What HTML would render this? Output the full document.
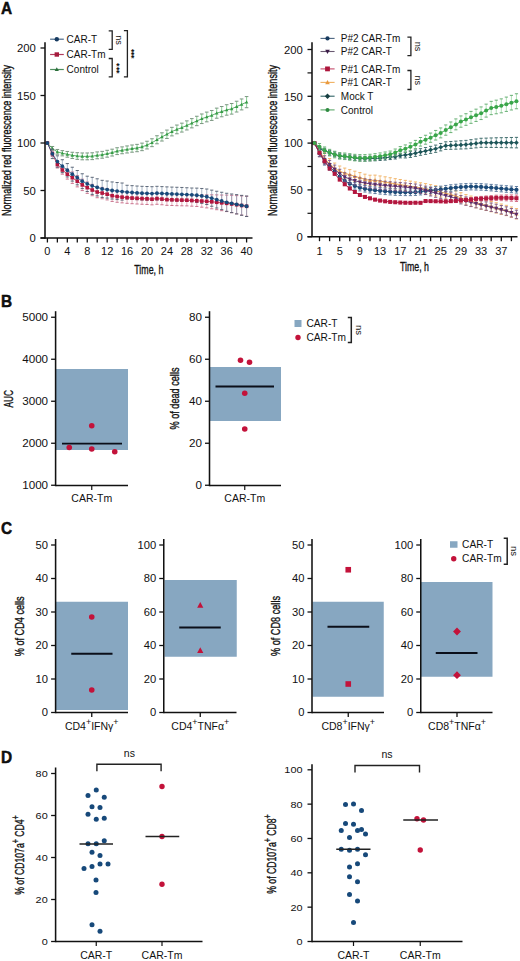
<!DOCTYPE html>
<html><head><meta charset="utf-8"><style>
html,body{margin:0;padding:0;background:#fff;}
body{width:520px;height:961px;overflow:hidden;}
svg{display:block;font-family:"Liberation Sans", sans-serif;}
</style></head><body>
<svg width="520" height="961" viewBox="0 0 520 961">
<rect width="520" height="961" fill="#fff"/>
<text transform="translate(0.9,13.8) scale(0.93,1)" font-size="16.6" text-anchor="start" font-weight="bold" fill="#111" stroke="#000" stroke-width="0.45">A</text>
<text transform="translate(0.9,306.5) scale(0.93,1)" font-size="16.6" text-anchor="start" font-weight="bold" fill="#111" stroke="#000" stroke-width="0.45">B</text>
<text transform="translate(0.9,533.6) scale(0.93,1)" font-size="16.6" text-anchor="start" font-weight="bold" fill="#111" stroke="#000" stroke-width="0.45">C</text>
<text transform="translate(0.9,762.6) scale(0.93,1)" font-size="16.6" text-anchor="start" font-weight="bold" fill="#111" stroke="#000" stroke-width="0.45">D</text>
<g id="A1">
<line x1="52.38" y1="146.47" x2="52.38" y2="150.74" stroke="#7ccc88" stroke-width="0.9" />
<line x1="50.58" y1="146.47" x2="54.18" y2="146.47" stroke="#7a9480" stroke-width="1.0" />
<line x1="50.58" y1="150.74" x2="54.18" y2="150.74" stroke="#7a9480" stroke-width="1.0" />
<line x1="57.36" y1="149.46" x2="57.36" y2="154.21" stroke="#7ccc88" stroke-width="0.9" />
<line x1="55.56" y1="149.46" x2="59.16" y2="149.46" stroke="#7a9480" stroke-width="1.0" />
<line x1="55.56" y1="154.21" x2="59.16" y2="154.21" stroke="#7a9480" stroke-width="1.0" />
<line x1="62.34" y1="150.65" x2="62.34" y2="155.87" stroke="#7ccc88" stroke-width="0.9" />
<line x1="60.54" y1="150.65" x2="64.14" y2="150.65" stroke="#7a9480" stroke-width="1.0" />
<line x1="60.54" y1="155.87" x2="64.14" y2="155.87" stroke="#7a9480" stroke-width="1.0" />
<line x1="67.32" y1="151.46" x2="67.32" y2="157.16" stroke="#7ccc88" stroke-width="0.9" />
<line x1="65.52" y1="151.46" x2="69.12" y2="151.46" stroke="#7a9480" stroke-width="1.0" />
<line x1="65.52" y1="157.16" x2="69.12" y2="157.16" stroke="#7a9480" stroke-width="1.0" />
<line x1="72.3" y1="152.26" x2="72.3" y2="158.44" stroke="#7ccc88" stroke-width="0.9" />
<line x1="70.5" y1="152.26" x2="74.1" y2="152.26" stroke="#7a9480" stroke-width="1.0" />
<line x1="70.5" y1="158.44" x2="74.1" y2="158.44" stroke="#7a9480" stroke-width="1.0" />
<line x1="77.28" y1="152.69" x2="77.28" y2="159.34" stroke="#7ccc88" stroke-width="0.9" />
<line x1="75.48" y1="152.69" x2="79.08" y2="152.69" stroke="#7a9480" stroke-width="1.0" />
<line x1="75.48" y1="159.34" x2="79.08" y2="159.34" stroke="#7a9480" stroke-width="1.0" />
<line x1="82.26" y1="152.98" x2="82.26" y2="159.81" stroke="#7ccc88" stroke-width="0.9" />
<line x1="80.46" y1="152.98" x2="84.06" y2="152.98" stroke="#7a9480" stroke-width="1.0" />
<line x1="80.46" y1="159.81" x2="84.06" y2="159.81" stroke="#7a9480" stroke-width="1.0" />
<line x1="87.24" y1="152.98" x2="87.24" y2="159.81" stroke="#7ccc88" stroke-width="0.9" />
<line x1="85.44" y1="152.98" x2="89.04" y2="152.98" stroke="#7a9480" stroke-width="1.0" />
<line x1="85.44" y1="159.81" x2="89.04" y2="159.81" stroke="#7a9480" stroke-width="1.0" />
<line x1="92.22" y1="152.79" x2="92.22" y2="159.62" stroke="#7ccc88" stroke-width="0.9" />
<line x1="90.42" y1="152.79" x2="94.02" y2="152.79" stroke="#7a9480" stroke-width="1.0" />
<line x1="90.42" y1="159.62" x2="94.02" y2="159.62" stroke="#7a9480" stroke-width="1.0" />
<line x1="97.2" y1="151.93" x2="97.2" y2="158.77" stroke="#7ccc88" stroke-width="0.9" />
<line x1="95.4" y1="151.93" x2="99" y2="151.93" stroke="#7a9480" stroke-width="1.0" />
<line x1="95.4" y1="158.77" x2="99" y2="158.77" stroke="#7a9480" stroke-width="1.0" />
<line x1="102.18" y1="151.36" x2="102.18" y2="158.2" stroke="#7ccc88" stroke-width="0.9" />
<line x1="100.38" y1="151.36" x2="103.98" y2="151.36" stroke="#7a9480" stroke-width="1.0" />
<line x1="100.38" y1="158.2" x2="103.98" y2="158.2" stroke="#7a9480" stroke-width="1.0" />
<line x1="107.16" y1="150.31" x2="107.16" y2="157.16" stroke="#7ccc88" stroke-width="0.9" />
<line x1="105.36" y1="150.31" x2="108.96" y2="150.31" stroke="#7a9480" stroke-width="1.0" />
<line x1="105.36" y1="157.16" x2="108.96" y2="157.16" stroke="#7a9480" stroke-width="1.0" />
<line x1="112.14" y1="149.18" x2="112.14" y2="156.01" stroke="#7ccc88" stroke-width="0.9" />
<line x1="110.34" y1="149.18" x2="113.94" y2="149.18" stroke="#7a9480" stroke-width="1.0" />
<line x1="110.34" y1="156.01" x2="113.94" y2="156.01" stroke="#7a9480" stroke-width="1.0" />
<line x1="117.12" y1="147.75" x2="117.12" y2="154.59" stroke="#7ccc88" stroke-width="0.9" />
<line x1="115.32" y1="147.75" x2="118.92" y2="147.75" stroke="#7a9480" stroke-width="1.0" />
<line x1="115.32" y1="154.59" x2="118.92" y2="154.59" stroke="#7a9480" stroke-width="1.0" />
<line x1="122.1" y1="146.9" x2="122.1" y2="153.74" stroke="#7ccc88" stroke-width="0.9" />
<line x1="120.3" y1="146.9" x2="123.9" y2="146.9" stroke="#7a9480" stroke-width="1.0" />
<line x1="120.3" y1="153.74" x2="123.9" y2="153.74" stroke="#7a9480" stroke-width="1.0" />
<line x1="127.08" y1="145.95" x2="127.08" y2="152.97" stroke="#7ccc88" stroke-width="0.9" />
<line x1="125.28" y1="145.95" x2="128.88" y2="145.95" stroke="#7a9480" stroke-width="1.0" />
<line x1="125.28" y1="152.97" x2="128.88" y2="152.97" stroke="#7a9480" stroke-width="1.0" />
<line x1="132.06" y1="145.01" x2="132.06" y2="152.2" stroke="#7ccc88" stroke-width="0.9" />
<line x1="130.26" y1="145.01" x2="133.86" y2="145.01" stroke="#7a9480" stroke-width="1.0" />
<line x1="130.26" y1="152.2" x2="133.86" y2="152.2" stroke="#7a9480" stroke-width="1.0" />
<line x1="137.04" y1="144.36" x2="137.04" y2="151.71" stroke="#7ccc88" stroke-width="0.9" />
<line x1="135.24" y1="144.36" x2="138.84" y2="144.36" stroke="#7a9480" stroke-width="1.0" />
<line x1="135.24" y1="151.71" x2="138.84" y2="151.71" stroke="#7a9480" stroke-width="1.0" />
<line x1="142.02" y1="143.13" x2="142.02" y2="150.66" stroke="#7ccc88" stroke-width="0.9" />
<line x1="140.22" y1="143.13" x2="143.82" y2="143.13" stroke="#7a9480" stroke-width="1.0" />
<line x1="140.22" y1="150.66" x2="143.82" y2="150.66" stroke="#7a9480" stroke-width="1.0" />
<line x1="147" y1="141.24" x2="147" y2="148.94" stroke="#7ccc88" stroke-width="0.9" />
<line x1="145.2" y1="141.24" x2="148.8" y2="141.24" stroke="#7a9480" stroke-width="1.0" />
<line x1="145.2" y1="148.94" x2="148.8" y2="148.94" stroke="#7a9480" stroke-width="1.0" />
<line x1="151.98" y1="138.78" x2="151.98" y2="146.65" stroke="#7ccc88" stroke-width="0.9" />
<line x1="150.18" y1="138.78" x2="153.78" y2="138.78" stroke="#7a9480" stroke-width="1.0" />
<line x1="150.18" y1="146.65" x2="153.78" y2="146.65" stroke="#7a9480" stroke-width="1.0" />
<line x1="156.96" y1="135.75" x2="156.96" y2="143.79" stroke="#7ccc88" stroke-width="0.9" />
<line x1="155.16" y1="135.75" x2="158.76" y2="135.75" stroke="#7a9480" stroke-width="1.0" />
<line x1="155.16" y1="143.79" x2="158.76" y2="143.79" stroke="#7a9480" stroke-width="1.0" />
<line x1="161.94" y1="132.82" x2="161.94" y2="141.02" stroke="#7ccc88" stroke-width="0.9" />
<line x1="160.14" y1="132.82" x2="163.74" y2="132.82" stroke="#7a9480" stroke-width="1.0" />
<line x1="160.14" y1="141.02" x2="163.74" y2="141.02" stroke="#7a9480" stroke-width="1.0" />
<line x1="166.92" y1="130.07" x2="166.92" y2="138.45" stroke="#7ccc88" stroke-width="0.9" />
<line x1="165.12" y1="130.07" x2="168.72" y2="130.07" stroke="#7a9480" stroke-width="1.0" />
<line x1="165.12" y1="138.45" x2="168.72" y2="138.45" stroke="#7a9480" stroke-width="1.0" />
<line x1="171.9" y1="127.33" x2="171.9" y2="135.88" stroke="#7ccc88" stroke-width="0.9" />
<line x1="170.1" y1="127.33" x2="173.7" y2="127.33" stroke="#7a9480" stroke-width="1.0" />
<line x1="170.1" y1="135.88" x2="173.7" y2="135.88" stroke="#7a9480" stroke-width="1.0" />
<line x1="176.88" y1="125.05" x2="176.88" y2="133.78" stroke="#7ccc88" stroke-width="0.9" />
<line x1="175.08" y1="125.05" x2="178.68" y2="125.05" stroke="#7a9480" stroke-width="1.0" />
<line x1="175.08" y1="133.78" x2="178.68" y2="133.78" stroke="#7a9480" stroke-width="1.0" />
<line x1="181.86" y1="123.16" x2="181.86" y2="132.06" stroke="#7ccc88" stroke-width="0.9" />
<line x1="180.06" y1="123.16" x2="183.66" y2="123.16" stroke="#7a9480" stroke-width="1.0" />
<line x1="180.06" y1="132.06" x2="183.66" y2="132.06" stroke="#7a9480" stroke-width="1.0" />
<line x1="186.84" y1="120.89" x2="186.84" y2="129.96" stroke="#7ccc88" stroke-width="0.9" />
<line x1="185.04" y1="120.89" x2="188.64" y2="120.89" stroke="#7a9480" stroke-width="1.0" />
<line x1="185.04" y1="129.96" x2="188.64" y2="129.96" stroke="#7a9480" stroke-width="1.0" />
<line x1="191.82" y1="118.62" x2="191.82" y2="127.86" stroke="#7ccc88" stroke-width="0.9" />
<line x1="190.02" y1="118.62" x2="193.62" y2="118.62" stroke="#7a9480" stroke-width="1.0" />
<line x1="190.02" y1="127.86" x2="193.62" y2="127.86" stroke="#7a9480" stroke-width="1.0" />
<line x1="196.8" y1="116.26" x2="196.8" y2="125.66" stroke="#7ccc88" stroke-width="0.9" />
<line x1="195" y1="116.26" x2="198.6" y2="116.26" stroke="#7a9480" stroke-width="1.0" />
<line x1="195" y1="125.66" x2="198.6" y2="125.66" stroke="#7a9480" stroke-width="1.0" />
<line x1="201.78" y1="113.99" x2="201.78" y2="123.56" stroke="#7ccc88" stroke-width="0.9" />
<line x1="199.98" y1="113.99" x2="203.58" y2="113.99" stroke="#7a9480" stroke-width="1.0" />
<line x1="199.98" y1="123.56" x2="203.58" y2="123.56" stroke="#7a9480" stroke-width="1.0" />
<line x1="206.76" y1="112.1" x2="206.76" y2="121.84" stroke="#7ccc88" stroke-width="0.9" />
<line x1="204.96" y1="112.1" x2="208.56" y2="112.1" stroke="#7a9480" stroke-width="1.0" />
<line x1="204.96" y1="121.84" x2="208.56" y2="121.84" stroke="#7a9480" stroke-width="1.0" />
<line x1="211.74" y1="110.49" x2="211.74" y2="120.41" stroke="#7ccc88" stroke-width="0.9" />
<line x1="209.94" y1="110.49" x2="213.54" y2="110.49" stroke="#7a9480" stroke-width="1.0" />
<line x1="209.94" y1="120.41" x2="213.54" y2="120.41" stroke="#7a9480" stroke-width="1.0" />
<line x1="216.72" y1="108.13" x2="216.72" y2="118.21" stroke="#7ccc88" stroke-width="0.9" />
<line x1="214.92" y1="108.13" x2="218.52" y2="108.13" stroke="#7a9480" stroke-width="1.0" />
<line x1="214.92" y1="118.21" x2="218.52" y2="118.21" stroke="#7a9480" stroke-width="1.0" />
<line x1="221.7" y1="106.52" x2="221.7" y2="116.78" stroke="#7ccc88" stroke-width="0.9" />
<line x1="219.9" y1="106.52" x2="223.5" y2="106.52" stroke="#7a9480" stroke-width="1.0" />
<line x1="219.9" y1="116.78" x2="223.5" y2="116.78" stroke="#7a9480" stroke-width="1.0" />
<line x1="226.68" y1="104.72" x2="226.68" y2="115.16" stroke="#7ccc88" stroke-width="0.9" />
<line x1="224.88" y1="104.72" x2="228.48" y2="104.72" stroke="#7a9480" stroke-width="1.0" />
<line x1="224.88" y1="115.16" x2="228.48" y2="115.16" stroke="#7a9480" stroke-width="1.0" />
<line x1="231.66" y1="103.5" x2="231.66" y2="114.1" stroke="#7ccc88" stroke-width="0.9" />
<line x1="229.86" y1="103.5" x2="233.46" y2="103.5" stroke="#7a9480" stroke-width="1.0" />
<line x1="229.86" y1="114.1" x2="233.46" y2="114.1" stroke="#7a9480" stroke-width="1.0" />
<line x1="236.64" y1="101.23" x2="236.64" y2="112" stroke="#7ccc88" stroke-width="0.9" />
<line x1="234.84" y1="101.23" x2="238.44" y2="101.23" stroke="#7a9480" stroke-width="1.0" />
<line x1="234.84" y1="112" x2="238.44" y2="112" stroke="#7a9480" stroke-width="1.0" />
<line x1="241.62" y1="98.96" x2="241.62" y2="109.9" stroke="#7ccc88" stroke-width="0.9" />
<line x1="239.82" y1="98.96" x2="243.42" y2="98.96" stroke="#7a9480" stroke-width="1.0" />
<line x1="239.82" y1="109.9" x2="243.42" y2="109.9" stroke="#7a9480" stroke-width="1.0" />
<line x1="246.6" y1="96.59" x2="246.6" y2="107.71" stroke="#7ccc88" stroke-width="0.9" />
<line x1="244.8" y1="96.59" x2="248.4" y2="96.59" stroke="#7a9480" stroke-width="1.0" />
<line x1="244.8" y1="107.71" x2="248.4" y2="107.71" stroke="#7a9480" stroke-width="1.0" />
<polyline points="47.4,143 52.38,148.61 57.36,151.84 62.34,153.26 67.32,154.31 72.3,155.35 77.28,156.01 82.26,156.39 87.24,156.39 92.22,156.21 97.2,155.35 102.18,154.78 107.16,153.74 112.14,152.59 117.12,151.17 122.1,150.31 127.08,149.46 132.06,148.61 137.04,148.03 142.02,146.89 147,145.09 151.98,142.72 156.96,139.77 161.94,136.92 166.92,134.26 171.9,131.6 176.88,129.42 181.86,127.61 186.84,125.43 191.82,123.24 196.8,120.96 201.78,118.78 206.76,116.97 211.74,115.45 216.72,113.17 221.7,111.65 226.68,109.94 231.66,108.8 236.64,106.62 241.62,104.43 246.6,102.15" fill="none" stroke="#369a46" stroke-width="0.8" />
<polygon points="47.4,141.2 45.67,144.35 49.12,144.35" fill="#369a46" />
<polygon points="52.38,146.81 50.65,149.96 54.1,149.96" fill="#369a46" />
<polygon points="57.36,150.03 55.63,153.19 59.09,153.19" fill="#369a46" />
<polygon points="62.34,151.46 60.62,154.61 64.06,154.61" fill="#369a46" />
<polygon points="67.32,152.5 65.59,155.66 69.04,155.66" fill="#369a46" />
<polygon points="72.3,153.55 70.58,156.7 74.02,156.7" fill="#369a46" />
<polygon points="77.28,154.21 75.56,157.36 79,157.36" fill="#369a46" />
<polygon points="82.26,154.59 80.53,157.74 83.98,157.74" fill="#369a46" />
<polygon points="87.24,154.59 85.52,157.74 88.97,157.74" fill="#369a46" />
<polygon points="92.22,154.41 90.5,157.56 93.94,157.56" fill="#369a46" />
<polygon points="97.2,153.55 95.48,156.7 98.92,156.7" fill="#369a46" />
<polygon points="102.18,152.98 100.46,156.13 103.91,156.13" fill="#369a46" />
<polygon points="107.16,151.94 105.44,155.09 108.88,155.09" fill="#369a46" />
<polygon points="112.14,150.79 110.42,153.94 113.87,153.94" fill="#369a46" />
<polygon points="117.12,149.37 115.4,152.52 118.84,152.52" fill="#369a46" />
<polygon points="122.1,148.51 120.38,151.66 123.82,151.66" fill="#369a46" />
<polygon points="127.08,147.66 125.36,150.81 128.81,150.81" fill="#369a46" />
<polygon points="132.06,146.81 130.34,149.96 133.78,149.96" fill="#369a46" />
<polygon points="137.04,146.23 135.32,149.38 138.77,149.38" fill="#369a46" />
<polygon points="142.02,145.09 140.3,148.24 143.75,148.24" fill="#369a46" />
<polygon points="147,143.29 145.28,146.44 148.72,146.44" fill="#369a46" />
<polygon points="151.98,140.91 150.26,144.06 153.71,144.06" fill="#369a46" />
<polygon points="156.96,137.97 155.24,141.12 158.69,141.12" fill="#369a46" />
<polygon points="161.94,135.12 160.22,138.27 163.66,138.27" fill="#369a46" />
<polygon points="166.92,132.46 165.2,135.61 168.65,135.61" fill="#369a46" />
<polygon points="171.9,129.8 170.18,132.95 173.62,132.95" fill="#369a46" />
<polygon points="176.88,127.62 175.16,130.77 178.61,130.77" fill="#369a46" />
<polygon points="181.86,125.81 180.14,128.96 183.59,128.96" fill="#369a46" />
<polygon points="186.84,123.63 185.12,126.78 188.56,126.78" fill="#369a46" />
<polygon points="191.82,121.44 190.1,124.59 193.55,124.59" fill="#369a46" />
<polygon points="196.8,119.16 195.08,122.31 198.53,122.31" fill="#369a46" />
<polygon points="201.78,116.98 200.06,120.12 203.51,120.12" fill="#369a46" />
<polygon points="206.76,115.17 205.04,118.32 208.49,118.32" fill="#369a46" />
<polygon points="211.74,113.65 210.02,116.8 213.47,116.8" fill="#369a46" />
<polygon points="216.72,111.37 215,114.52 218.45,114.52" fill="#369a46" />
<polygon points="221.7,109.85 219.98,113 223.43,113" fill="#369a46" />
<polygon points="226.68,108.14 224.96,111.29 228.41,111.29" fill="#369a46" />
<polygon points="231.66,107 229.94,110.15 233.39,110.15" fill="#369a46" />
<polygon points="236.64,104.82 234.92,107.97 238.37,107.97" fill="#369a46" />
<polygon points="241.62,102.63 239.9,105.78 243.35,105.78" fill="#369a46" />
<polygon points="246.6,100.35 244.88,103.5 248.33,103.5" fill="#369a46" />
<line x1="52.38" y1="151.17" x2="52.38" y2="156.49" stroke="#dc8ca0" stroke-width="0.7" />
<line x1="50.78" y1="151.17" x2="53.98" y2="151.17" stroke="#c46884" stroke-width="0.9" />
<line x1="50.78" y1="156.49" x2="53.98" y2="156.49" stroke="#c46884" stroke-width="0.9" />
<line x1="57.36" y1="161.15" x2="57.36" y2="167.99" stroke="#dc8ca0" stroke-width="0.7" />
<line x1="55.76" y1="161.15" x2="58.96" y2="161.15" stroke="#c46884" stroke-width="0.9" />
<line x1="55.76" y1="167.99" x2="58.96" y2="167.99" stroke="#c46884" stroke-width="0.9" />
<line x1="62.34" y1="165.8" x2="62.34" y2="174.16" stroke="#dc8ca0" stroke-width="0.7" />
<line x1="60.74" y1="165.8" x2="63.94" y2="165.8" stroke="#c46884" stroke-width="0.9" />
<line x1="60.74" y1="174.16" x2="63.94" y2="174.16" stroke="#c46884" stroke-width="0.9" />
<line x1="67.32" y1="169.22" x2="67.32" y2="179.1" stroke="#dc8ca0" stroke-width="0.7" />
<line x1="65.72" y1="169.22" x2="68.92" y2="169.22" stroke="#c46884" stroke-width="0.9" />
<line x1="65.72" y1="179.1" x2="68.92" y2="179.1" stroke="#c46884" stroke-width="0.9" />
<line x1="72.3" y1="171.98" x2="72.3" y2="183.38" stroke="#dc8ca0" stroke-width="0.7" />
<line x1="70.7" y1="171.98" x2="73.9" y2="171.98" stroke="#c46884" stroke-width="0.9" />
<line x1="70.7" y1="183.38" x2="73.9" y2="183.38" stroke="#c46884" stroke-width="0.9" />
<line x1="77.28" y1="175.49" x2="77.28" y2="186.89" stroke="#dc8ca0" stroke-width="0.7" />
<line x1="75.68" y1="175.49" x2="78.88" y2="175.49" stroke="#c46884" stroke-width="0.9" />
<line x1="75.68" y1="186.89" x2="78.88" y2="186.89" stroke="#c46884" stroke-width="0.9" />
<line x1="82.26" y1="179.19" x2="82.26" y2="190.59" stroke="#dc8ca0" stroke-width="0.7" />
<line x1="80.66" y1="179.19" x2="83.86" y2="179.19" stroke="#c46884" stroke-width="0.9" />
<line x1="80.66" y1="190.59" x2="83.86" y2="190.59" stroke="#c46884" stroke-width="0.9" />
<line x1="87.24" y1="181.95" x2="87.24" y2="193.35" stroke="#dc8ca0" stroke-width="0.7" />
<line x1="85.64" y1="181.95" x2="88.84" y2="181.95" stroke="#c46884" stroke-width="0.9" />
<line x1="85.64" y1="193.35" x2="88.84" y2="193.35" stroke="#c46884" stroke-width="0.9" />
<line x1="92.22" y1="184.32" x2="92.22" y2="195.72" stroke="#dc8ca0" stroke-width="0.7" />
<line x1="90.62" y1="184.32" x2="93.82" y2="184.32" stroke="#c46884" stroke-width="0.9" />
<line x1="90.62" y1="195.72" x2="93.82" y2="195.72" stroke="#c46884" stroke-width="0.9" />
<line x1="97.2" y1="186.32" x2="97.2" y2="197.72" stroke="#dc8ca0" stroke-width="0.7" />
<line x1="95.6" y1="186.32" x2="98.8" y2="186.32" stroke="#c46884" stroke-width="0.9" />
<line x1="95.6" y1="197.72" x2="98.8" y2="197.72" stroke="#c46884" stroke-width="0.9" />
<line x1="102.18" y1="187.37" x2="102.18" y2="198.77" stroke="#dc8ca0" stroke-width="0.7" />
<line x1="100.58" y1="187.37" x2="103.78" y2="187.37" stroke="#c46884" stroke-width="0.9" />
<line x1="100.58" y1="198.77" x2="103.78" y2="198.77" stroke="#c46884" stroke-width="0.9" />
<line x1="107.16" y1="188.5" x2="107.16" y2="199.91" stroke="#dc8ca0" stroke-width="0.7" />
<line x1="105.56" y1="188.5" x2="108.76" y2="188.5" stroke="#c46884" stroke-width="0.9" />
<line x1="105.56" y1="199.91" x2="108.76" y2="199.91" stroke="#c46884" stroke-width="0.9" />
<line x1="112.14" y1="190.03" x2="112.14" y2="201.43" stroke="#dc8ca0" stroke-width="0.7" />
<line x1="110.54" y1="190.03" x2="113.74" y2="190.03" stroke="#c46884" stroke-width="0.9" />
<line x1="110.54" y1="201.43" x2="113.74" y2="201.43" stroke="#c46884" stroke-width="0.9" />
<line x1="117.12" y1="190.88" x2="117.12" y2="202.28" stroke="#dc8ca0" stroke-width="0.7" />
<line x1="115.52" y1="190.88" x2="118.72" y2="190.88" stroke="#c46884" stroke-width="0.9" />
<line x1="115.52" y1="202.28" x2="118.72" y2="202.28" stroke="#c46884" stroke-width="0.9" />
<line x1="122.1" y1="191.45" x2="122.1" y2="202.85" stroke="#dc8ca0" stroke-width="0.7" />
<line x1="120.5" y1="191.45" x2="123.7" y2="191.45" stroke="#c46884" stroke-width="0.9" />
<line x1="120.5" y1="202.85" x2="123.7" y2="202.85" stroke="#c46884" stroke-width="0.9" />
<line x1="127.08" y1="191.93" x2="127.08" y2="203.32" stroke="#dc8ca0" stroke-width="0.7" />
<line x1="125.48" y1="191.93" x2="128.68" y2="191.93" stroke="#c46884" stroke-width="0.9" />
<line x1="125.48" y1="203.32" x2="128.68" y2="203.32" stroke="#c46884" stroke-width="0.9" />
<line x1="132.06" y1="192.31" x2="132.06" y2="203.7" stroke="#dc8ca0" stroke-width="0.7" />
<line x1="130.46" y1="192.31" x2="133.66" y2="192.31" stroke="#c46884" stroke-width="0.9" />
<line x1="130.46" y1="203.7" x2="133.66" y2="203.7" stroke="#c46884" stroke-width="0.9" />
<line x1="137.04" y1="192.59" x2="137.04" y2="203.99" stroke="#dc8ca0" stroke-width="0.7" />
<line x1="135.44" y1="192.59" x2="138.64" y2="192.59" stroke="#c46884" stroke-width="0.9" />
<line x1="135.44" y1="203.99" x2="138.64" y2="203.99" stroke="#c46884" stroke-width="0.9" />
<line x1="142.02" y1="192.88" x2="142.02" y2="204.28" stroke="#dc8ca0" stroke-width="0.7" />
<line x1="140.42" y1="192.88" x2="143.62" y2="192.88" stroke="#c46884" stroke-width="0.9" />
<line x1="140.42" y1="204.28" x2="143.62" y2="204.28" stroke="#c46884" stroke-width="0.9" />
<line x1="147" y1="193.06" x2="147" y2="204.47" stroke="#dc8ca0" stroke-width="0.7" />
<line x1="145.4" y1="193.06" x2="148.6" y2="193.06" stroke="#c46884" stroke-width="0.9" />
<line x1="145.4" y1="204.47" x2="148.6" y2="204.47" stroke="#c46884" stroke-width="0.9" />
<line x1="151.98" y1="193.44" x2="151.98" y2="204.84" stroke="#dc8ca0" stroke-width="0.7" />
<line x1="150.38" y1="193.44" x2="153.58" y2="193.44" stroke="#c46884" stroke-width="0.9" />
<line x1="150.38" y1="204.84" x2="153.58" y2="204.84" stroke="#c46884" stroke-width="0.9" />
<line x1="156.96" y1="192.88" x2="156.96" y2="204.28" stroke="#dc8ca0" stroke-width="0.7" />
<line x1="155.36" y1="192.88" x2="158.56" y2="192.88" stroke="#c46884" stroke-width="0.9" />
<line x1="155.36" y1="204.28" x2="158.56" y2="204.28" stroke="#c46884" stroke-width="0.9" />
<line x1="161.94" y1="193.35" x2="161.94" y2="204.75" stroke="#dc8ca0" stroke-width="0.7" />
<line x1="160.34" y1="193.35" x2="163.54" y2="193.35" stroke="#c46884" stroke-width="0.9" />
<line x1="160.34" y1="204.75" x2="163.54" y2="204.75" stroke="#c46884" stroke-width="0.9" />
<line x1="166.92" y1="193.92" x2="166.92" y2="205.32" stroke="#dc8ca0" stroke-width="0.7" />
<line x1="165.32" y1="193.92" x2="168.52" y2="193.92" stroke="#c46884" stroke-width="0.9" />
<line x1="165.32" y1="205.32" x2="168.52" y2="205.32" stroke="#c46884" stroke-width="0.9" />
<line x1="171.9" y1="194.11" x2="171.9" y2="205.51" stroke="#dc8ca0" stroke-width="0.7" />
<line x1="170.3" y1="194.11" x2="173.5" y2="194.11" stroke="#c46884" stroke-width="0.9" />
<line x1="170.3" y1="205.51" x2="173.5" y2="205.51" stroke="#c46884" stroke-width="0.9" />
<line x1="176.88" y1="194.3" x2="176.88" y2="205.7" stroke="#dc8ca0" stroke-width="0.7" />
<line x1="175.28" y1="194.3" x2="178.48" y2="194.3" stroke="#c46884" stroke-width="0.9" />
<line x1="175.28" y1="205.7" x2="178.48" y2="205.7" stroke="#c46884" stroke-width="0.9" />
<line x1="181.86" y1="194.4" x2="181.86" y2="205.8" stroke="#dc8ca0" stroke-width="0.7" />
<line x1="180.26" y1="194.4" x2="183.46" y2="194.4" stroke="#c46884" stroke-width="0.9" />
<line x1="180.26" y1="205.8" x2="183.46" y2="205.8" stroke="#c46884" stroke-width="0.9" />
<line x1="186.84" y1="194.49" x2="186.84" y2="205.89" stroke="#dc8ca0" stroke-width="0.7" />
<line x1="185.24" y1="194.49" x2="188.44" y2="194.49" stroke="#c46884" stroke-width="0.9" />
<line x1="185.24" y1="205.89" x2="188.44" y2="205.89" stroke="#c46884" stroke-width="0.9" />
<line x1="191.82" y1="194.78" x2="191.82" y2="206.18" stroke="#dc8ca0" stroke-width="0.7" />
<line x1="190.22" y1="194.78" x2="193.42" y2="194.78" stroke="#c46884" stroke-width="0.9" />
<line x1="190.22" y1="206.18" x2="193.42" y2="206.18" stroke="#c46884" stroke-width="0.9" />
<line x1="196.8" y1="195.06" x2="196.8" y2="206.46" stroke="#dc8ca0" stroke-width="0.7" />
<line x1="195.2" y1="195.06" x2="198.4" y2="195.06" stroke="#c46884" stroke-width="0.9" />
<line x1="195.2" y1="206.46" x2="198.4" y2="206.46" stroke="#c46884" stroke-width="0.9" />
<line x1="201.78" y1="194.92" x2="201.78" y2="207.17" stroke="#dc8ca0" stroke-width="0.7" />
<line x1="200.18" y1="194.92" x2="203.38" y2="194.92" stroke="#c46884" stroke-width="0.9" />
<line x1="200.18" y1="207.17" x2="203.38" y2="207.17" stroke="#c46884" stroke-width="0.9" />
<line x1="206.76" y1="194.78" x2="206.76" y2="207.88" stroke="#dc8ca0" stroke-width="0.7" />
<line x1="205.16" y1="194.78" x2="208.36" y2="194.78" stroke="#c46884" stroke-width="0.9" />
<line x1="205.16" y1="207.88" x2="208.36" y2="207.88" stroke="#c46884" stroke-width="0.9" />
<line x1="211.74" y1="194.82" x2="211.74" y2="208.79" stroke="#dc8ca0" stroke-width="0.7" />
<line x1="210.14" y1="194.82" x2="213.34" y2="194.82" stroke="#c46884" stroke-width="0.9" />
<line x1="210.14" y1="208.79" x2="213.34" y2="208.79" stroke="#c46884" stroke-width="0.9" />
<line x1="216.72" y1="194.87" x2="216.72" y2="209.69" stroke="#dc8ca0" stroke-width="0.7" />
<line x1="215.12" y1="194.87" x2="218.32" y2="194.87" stroke="#c46884" stroke-width="0.9" />
<line x1="215.12" y1="209.69" x2="218.32" y2="209.69" stroke="#c46884" stroke-width="0.9" />
<line x1="221.7" y1="195.01" x2="221.7" y2="210.69" stroke="#dc8ca0" stroke-width="0.7" />
<line x1="220.1" y1="195.01" x2="223.3" y2="195.01" stroke="#c46884" stroke-width="0.9" />
<line x1="220.1" y1="210.69" x2="223.3" y2="210.69" stroke="#c46884" stroke-width="0.9" />
<line x1="226.68" y1="195.06" x2="226.68" y2="211.59" stroke="#dc8ca0" stroke-width="0.7" />
<line x1="225.08" y1="195.06" x2="228.28" y2="195.06" stroke="#c46884" stroke-width="0.9" />
<line x1="225.08" y1="211.59" x2="228.28" y2="211.59" stroke="#c46884" stroke-width="0.9" />
<line x1="231.66" y1="195.3" x2="231.66" y2="212.68" stroke="#dc8ca0" stroke-width="0.7" />
<line x1="230.06" y1="195.3" x2="233.26" y2="195.3" stroke="#c46884" stroke-width="0.9" />
<line x1="230.06" y1="212.68" x2="233.26" y2="212.68" stroke="#c46884" stroke-width="0.9" />
<line x1="236.64" y1="195.63" x2="236.64" y2="213.87" stroke="#dc8ca0" stroke-width="0.7" />
<line x1="235.04" y1="195.63" x2="238.24" y2="195.63" stroke="#c46884" stroke-width="0.9" />
<line x1="235.04" y1="213.87" x2="238.24" y2="213.87" stroke="#c46884" stroke-width="0.9" />
<line x1="241.62" y1="195.96" x2="241.62" y2="215.06" stroke="#dc8ca0" stroke-width="0.7" />
<line x1="240.02" y1="195.96" x2="243.22" y2="195.96" stroke="#c46884" stroke-width="0.9" />
<line x1="240.02" y1="215.06" x2="243.22" y2="215.06" stroke="#c46884" stroke-width="0.9" />
<line x1="246.6" y1="196.3" x2="246.6" y2="216.25" stroke="#dc8ca0" stroke-width="0.7" />
<line x1="245" y1="196.3" x2="248.2" y2="196.3" stroke="#c46884" stroke-width="0.9" />
<line x1="245" y1="216.25" x2="248.2" y2="216.25" stroke="#c46884" stroke-width="0.9" />
<line x1="52.38" y1="149.08" x2="52.38" y2="158.58" stroke="#8496ae" stroke-width="0.7" />
<line x1="50.78" y1="149.08" x2="53.98" y2="149.08" stroke="#4e5a6c" stroke-width="0.9" />
<line x1="50.78" y1="158.58" x2="53.98" y2="158.58" stroke="#4e5a6c" stroke-width="0.9" />
<line x1="57.36" y1="155.82" x2="57.36" y2="167.23" stroke="#8496ae" stroke-width="0.7" />
<line x1="55.76" y1="155.82" x2="58.96" y2="155.82" stroke="#4e5a6c" stroke-width="0.9" />
<line x1="55.76" y1="167.23" x2="58.96" y2="167.23" stroke="#4e5a6c" stroke-width="0.9" />
<line x1="62.34" y1="159.72" x2="62.34" y2="172.64" stroke="#8496ae" stroke-width="0.7" />
<line x1="60.74" y1="159.72" x2="63.94" y2="159.72" stroke="#4e5a6c" stroke-width="0.9" />
<line x1="60.74" y1="172.64" x2="63.94" y2="172.64" stroke="#4e5a6c" stroke-width="0.9" />
<line x1="67.32" y1="163.57" x2="67.32" y2="176.96" stroke="#8496ae" stroke-width="0.7" />
<line x1="65.72" y1="163.57" x2="68.92" y2="163.57" stroke="#4e5a6c" stroke-width="0.9" />
<line x1="65.72" y1="176.96" x2="68.92" y2="176.96" stroke="#4e5a6c" stroke-width="0.9" />
<line x1="72.3" y1="167.23" x2="72.3" y2="181.09" stroke="#8496ae" stroke-width="0.7" />
<line x1="70.7" y1="167.23" x2="73.9" y2="167.23" stroke="#4e5a6c" stroke-width="0.9" />
<line x1="70.7" y1="181.09" x2="73.9" y2="181.09" stroke="#4e5a6c" stroke-width="0.9" />
<line x1="77.28" y1="170.5" x2="77.28" y2="184.85" stroke="#8496ae" stroke-width="0.7" />
<line x1="75.68" y1="170.5" x2="78.88" y2="170.5" stroke="#4e5a6c" stroke-width="0.9" />
<line x1="75.68" y1="184.85" x2="78.88" y2="184.85" stroke="#4e5a6c" stroke-width="0.9" />
<line x1="82.26" y1="173.78" x2="82.26" y2="188.6" stroke="#8496ae" stroke-width="0.7" />
<line x1="80.66" y1="173.78" x2="83.86" y2="173.78" stroke="#4e5a6c" stroke-width="0.9" />
<line x1="80.66" y1="188.6" x2="83.86" y2="188.6" stroke="#4e5a6c" stroke-width="0.9" />
<line x1="87.24" y1="176.2" x2="87.24" y2="191.5" stroke="#8496ae" stroke-width="0.7" />
<line x1="85.64" y1="176.2" x2="88.84" y2="176.2" stroke="#4e5a6c" stroke-width="0.9" />
<line x1="85.64" y1="191.5" x2="88.84" y2="191.5" stroke="#4e5a6c" stroke-width="0.9" />
<line x1="92.22" y1="177.3" x2="92.22" y2="194.4" stroke="#8496ae" stroke-width="0.7" />
<line x1="90.62" y1="177.3" x2="93.82" y2="177.3" stroke="#4e5a6c" stroke-width="0.9" />
<line x1="90.62" y1="194.4" x2="93.82" y2="194.4" stroke="#4e5a6c" stroke-width="0.9" />
<line x1="97.2" y1="178.81" x2="97.2" y2="195.92" stroke="#8496ae" stroke-width="0.7" />
<line x1="95.6" y1="178.81" x2="98.8" y2="178.81" stroke="#4e5a6c" stroke-width="0.9" />
<line x1="95.6" y1="195.92" x2="98.8" y2="195.92" stroke="#4e5a6c" stroke-width="0.9" />
<line x1="102.18" y1="180.34" x2="102.18" y2="197.44" stroke="#8496ae" stroke-width="0.7" />
<line x1="100.58" y1="180.34" x2="103.78" y2="180.34" stroke="#4e5a6c" stroke-width="0.9" />
<line x1="100.58" y1="197.44" x2="103.78" y2="197.44" stroke="#4e5a6c" stroke-width="0.9" />
<line x1="107.16" y1="181" x2="107.16" y2="198.1" stroke="#8496ae" stroke-width="0.7" />
<line x1="105.56" y1="181" x2="108.76" y2="181" stroke="#4e5a6c" stroke-width="0.9" />
<line x1="105.56" y1="198.1" x2="108.76" y2="198.1" stroke="#4e5a6c" stroke-width="0.9" />
<line x1="112.14" y1="181.95" x2="112.14" y2="199.05" stroke="#8496ae" stroke-width="0.7" />
<line x1="110.54" y1="181.95" x2="113.74" y2="181.95" stroke="#4e5a6c" stroke-width="0.9" />
<line x1="110.54" y1="199.05" x2="113.74" y2="199.05" stroke="#4e5a6c" stroke-width="0.9" />
<line x1="117.12" y1="182.52" x2="117.12" y2="199.62" stroke="#8496ae" stroke-width="0.7" />
<line x1="115.52" y1="182.52" x2="118.72" y2="182.52" stroke="#4e5a6c" stroke-width="0.9" />
<line x1="115.52" y1="199.62" x2="118.72" y2="199.62" stroke="#4e5a6c" stroke-width="0.9" />
<line x1="122.1" y1="183" x2="122.1" y2="200.09" stroke="#8496ae" stroke-width="0.7" />
<line x1="120.5" y1="183" x2="123.7" y2="183" stroke="#4e5a6c" stroke-width="0.9" />
<line x1="120.5" y1="200.09" x2="123.7" y2="200.09" stroke="#4e5a6c" stroke-width="0.9" />
<line x1="127.08" y1="185.28" x2="127.08" y2="198.96" stroke="#8496ae" stroke-width="0.7" />
<line x1="125.48" y1="185.28" x2="128.68" y2="185.28" stroke="#4e5a6c" stroke-width="0.9" />
<line x1="125.48" y1="198.96" x2="128.68" y2="198.96" stroke="#4e5a6c" stroke-width="0.9" />
<line x1="132.06" y1="185.66" x2="132.06" y2="199.34" stroke="#8496ae" stroke-width="0.7" />
<line x1="130.46" y1="185.66" x2="133.66" y2="185.66" stroke="#4e5a6c" stroke-width="0.9" />
<line x1="130.46" y1="199.34" x2="133.66" y2="199.34" stroke="#4e5a6c" stroke-width="0.9" />
<line x1="137.04" y1="186.03" x2="137.04" y2="199.72" stroke="#8496ae" stroke-width="0.7" />
<line x1="135.44" y1="186.03" x2="138.64" y2="186.03" stroke="#4e5a6c" stroke-width="0.9" />
<line x1="135.44" y1="199.72" x2="138.64" y2="199.72" stroke="#4e5a6c" stroke-width="0.9" />
<line x1="142.02" y1="186.32" x2="142.02" y2="200" stroke="#8496ae" stroke-width="0.7" />
<line x1="140.42" y1="186.32" x2="143.62" y2="186.32" stroke="#4e5a6c" stroke-width="0.9" />
<line x1="140.42" y1="200" x2="143.62" y2="200" stroke="#4e5a6c" stroke-width="0.9" />
<line x1="147" y1="186.51" x2="147" y2="200.19" stroke="#8496ae" stroke-width="0.7" />
<line x1="145.4" y1="186.51" x2="148.6" y2="186.51" stroke="#4e5a6c" stroke-width="0.9" />
<line x1="145.4" y1="200.19" x2="148.6" y2="200.19" stroke="#4e5a6c" stroke-width="0.9" />
<line x1="151.98" y1="186.7" x2="151.98" y2="200.38" stroke="#8496ae" stroke-width="0.7" />
<line x1="150.38" y1="186.7" x2="153.58" y2="186.7" stroke="#4e5a6c" stroke-width="0.9" />
<line x1="150.38" y1="200.38" x2="153.58" y2="200.38" stroke="#4e5a6c" stroke-width="0.9" />
<line x1="156.96" y1="186.32" x2="156.96" y2="200" stroke="#8496ae" stroke-width="0.7" />
<line x1="155.36" y1="186.32" x2="158.56" y2="186.32" stroke="#4e5a6c" stroke-width="0.9" />
<line x1="155.36" y1="200" x2="158.56" y2="200" stroke="#4e5a6c" stroke-width="0.9" />
<line x1="161.94" y1="186.61" x2="161.94" y2="200.28" stroke="#8496ae" stroke-width="0.7" />
<line x1="160.34" y1="186.61" x2="163.54" y2="186.61" stroke="#4e5a6c" stroke-width="0.9" />
<line x1="160.34" y1="200.28" x2="163.54" y2="200.28" stroke="#4e5a6c" stroke-width="0.9" />
<line x1="166.92" y1="186.89" x2="166.92" y2="200.57" stroke="#8496ae" stroke-width="0.7" />
<line x1="165.32" y1="186.89" x2="168.52" y2="186.89" stroke="#4e5a6c" stroke-width="0.9" />
<line x1="165.32" y1="200.57" x2="168.52" y2="200.57" stroke="#4e5a6c" stroke-width="0.9" />
<line x1="171.9" y1="187.08" x2="171.9" y2="200.76" stroke="#8496ae" stroke-width="0.7" />
<line x1="170.3" y1="187.08" x2="173.5" y2="187.08" stroke="#4e5a6c" stroke-width="0.9" />
<line x1="170.3" y1="200.76" x2="173.5" y2="200.76" stroke="#4e5a6c" stroke-width="0.9" />
<line x1="176.88" y1="187.27" x2="176.88" y2="200.95" stroke="#8496ae" stroke-width="0.7" />
<line x1="175.28" y1="187.27" x2="178.48" y2="187.27" stroke="#4e5a6c" stroke-width="0.9" />
<line x1="175.28" y1="200.95" x2="178.48" y2="200.95" stroke="#4e5a6c" stroke-width="0.9" />
<line x1="181.86" y1="187.46" x2="181.86" y2="201.14" stroke="#8496ae" stroke-width="0.7" />
<line x1="180.26" y1="187.46" x2="183.46" y2="187.46" stroke="#4e5a6c" stroke-width="0.9" />
<line x1="180.26" y1="201.14" x2="183.46" y2="201.14" stroke="#4e5a6c" stroke-width="0.9" />
<line x1="186.84" y1="187.75" x2="186.84" y2="201.43" stroke="#8496ae" stroke-width="0.7" />
<line x1="185.24" y1="187.75" x2="188.44" y2="187.75" stroke="#4e5a6c" stroke-width="0.9" />
<line x1="185.24" y1="201.43" x2="188.44" y2="201.43" stroke="#4e5a6c" stroke-width="0.9" />
<line x1="191.82" y1="188.03" x2="191.82" y2="201.71" stroke="#8496ae" stroke-width="0.7" />
<line x1="190.22" y1="188.03" x2="193.42" y2="188.03" stroke="#4e5a6c" stroke-width="0.9" />
<line x1="190.22" y1="201.71" x2="193.42" y2="201.71" stroke="#4e5a6c" stroke-width="0.9" />
<line x1="196.8" y1="188.12" x2="196.8" y2="202.38" stroke="#8496ae" stroke-width="0.7" />
<line x1="195.2" y1="188.12" x2="198.4" y2="188.12" stroke="#4e5a6c" stroke-width="0.9" />
<line x1="195.2" y1="202.38" x2="198.4" y2="202.38" stroke="#4e5a6c" stroke-width="0.9" />
<line x1="201.78" y1="188.48" x2="201.78" y2="203.35" stroke="#8496ae" stroke-width="0.7" />
<line x1="200.18" y1="188.48" x2="203.38" y2="188.48" stroke="#4e5a6c" stroke-width="0.9" />
<line x1="200.18" y1="203.35" x2="203.38" y2="203.35" stroke="#4e5a6c" stroke-width="0.9" />
<line x1="206.76" y1="189.02" x2="206.76" y2="204.52" stroke="#8496ae" stroke-width="0.7" />
<line x1="205.16" y1="189.02" x2="208.36" y2="189.02" stroke="#4e5a6c" stroke-width="0.9" />
<line x1="205.16" y1="204.52" x2="208.36" y2="204.52" stroke="#4e5a6c" stroke-width="0.9" />
<line x1="211.74" y1="190.13" x2="211.74" y2="206.26" stroke="#8496ae" stroke-width="0.7" />
<line x1="210.14" y1="190.13" x2="213.34" y2="190.13" stroke="#4e5a6c" stroke-width="0.9" />
<line x1="210.14" y1="206.26" x2="213.34" y2="206.26" stroke="#4e5a6c" stroke-width="0.9" />
<line x1="216.72" y1="191.24" x2="216.72" y2="208" stroke="#8496ae" stroke-width="0.7" />
<line x1="215.12" y1="191.24" x2="218.32" y2="191.24" stroke="#4e5a6c" stroke-width="0.9" />
<line x1="215.12" y1="208" x2="218.32" y2="208" stroke="#4e5a6c" stroke-width="0.9" />
<line x1="221.7" y1="192.26" x2="221.7" y2="209.64" stroke="#8496ae" stroke-width="0.7" />
<line x1="220.1" y1="192.26" x2="223.3" y2="192.26" stroke="#4e5a6c" stroke-width="0.9" />
<line x1="220.1" y1="209.64" x2="223.3" y2="209.64" stroke="#4e5a6c" stroke-width="0.9" />
<line x1="226.68" y1="193.27" x2="226.68" y2="211.29" stroke="#8496ae" stroke-width="0.7" />
<line x1="225.08" y1="193.27" x2="228.28" y2="193.27" stroke="#4e5a6c" stroke-width="0.9" />
<line x1="225.08" y1="211.29" x2="228.28" y2="211.29" stroke="#4e5a6c" stroke-width="0.9" />
<line x1="231.66" y1="194.01" x2="231.66" y2="212.64" stroke="#8496ae" stroke-width="0.7" />
<line x1="230.06" y1="194.01" x2="233.26" y2="194.01" stroke="#4e5a6c" stroke-width="0.9" />
<line x1="230.06" y1="212.64" x2="233.26" y2="212.64" stroke="#4e5a6c" stroke-width="0.9" />
<line x1="236.64" y1="194.64" x2="236.64" y2="213.91" stroke="#8496ae" stroke-width="0.7" />
<line x1="235.04" y1="194.64" x2="238.24" y2="194.64" stroke="#4e5a6c" stroke-width="0.9" />
<line x1="235.04" y1="213.91" x2="238.24" y2="213.91" stroke="#4e5a6c" stroke-width="0.9" />
<line x1="241.62" y1="195.37" x2="241.62" y2="215.27" stroke="#8496ae" stroke-width="0.7" />
<line x1="240.02" y1="195.37" x2="243.22" y2="195.37" stroke="#4e5a6c" stroke-width="0.9" />
<line x1="240.02" y1="215.27" x2="243.22" y2="215.27" stroke="#4e5a6c" stroke-width="0.9" />
<line x1="246.6" y1="196.01" x2="246.6" y2="216.53" stroke="#8496ae" stroke-width="0.7" />
<line x1="245" y1="196.01" x2="248.2" y2="196.01" stroke="#4e5a6c" stroke-width="0.9" />
<line x1="245" y1="216.53" x2="248.2" y2="216.53" stroke="#4e5a6c" stroke-width="0.9" />
<polyline points="47.4,143 52.38,153.83 57.36,164.56 62.34,169.98 67.32,174.16 72.3,177.68 77.28,181.19 82.26,184.9 87.24,187.65 92.22,190.03 97.2,192.02 102.18,193.06 107.16,194.2 112.14,195.72 117.12,196.58 122.1,197.15 127.08,197.62 132.06,198 137.04,198.29 142.02,198.57 147,198.77 151.98,199.15 156.96,198.57 161.94,199.05 166.92,199.62 171.9,199.81 176.88,200 181.86,200.09 186.84,200.19 191.82,200.47 196.8,200.76 201.78,201.05 206.76,201.33 211.74,201.81 216.72,202.28 221.7,202.85 226.68,203.32 231.66,203.99 236.64,204.75 241.62,205.51 246.6,206.27" fill="none" stroke="#b3163e" stroke-width="0.8" />
<rect x="45.6" y="141.2" width="3.6" height="3.6" fill="#b3163e"/>
<rect x="50.58" y="152.03" width="3.6" height="3.6" fill="#b3163e"/>
<rect x="55.56" y="162.76" width="3.6" height="3.6" fill="#b3163e"/>
<rect x="60.54" y="168.18" width="3.6" height="3.6" fill="#b3163e"/>
<rect x="65.52" y="172.36" width="3.6" height="3.6" fill="#b3163e"/>
<rect x="70.5" y="175.88" width="3.6" height="3.6" fill="#b3163e"/>
<rect x="75.48" y="179.39" width="3.6" height="3.6" fill="#b3163e"/>
<rect x="80.46" y="183.09" width="3.6" height="3.6" fill="#b3163e"/>
<rect x="85.44" y="185.85" width="3.6" height="3.6" fill="#b3163e"/>
<rect x="90.42" y="188.22" width="3.6" height="3.6" fill="#b3163e"/>
<rect x="95.4" y="190.22" width="3.6" height="3.6" fill="#b3163e"/>
<rect x="100.38" y="191.26" width="3.6" height="3.6" fill="#b3163e"/>
<rect x="105.36" y="192.4" width="3.6" height="3.6" fill="#b3163e"/>
<rect x="110.34" y="193.92" width="3.6" height="3.6" fill="#b3163e"/>
<rect x="115.32" y="194.78" width="3.6" height="3.6" fill="#b3163e"/>
<rect x="120.3" y="195.35" width="3.6" height="3.6" fill="#b3163e"/>
<rect x="125.28" y="195.82" width="3.6" height="3.6" fill="#b3163e"/>
<rect x="130.26" y="196.2" width="3.6" height="3.6" fill="#b3163e"/>
<rect x="135.24" y="196.49" width="3.6" height="3.6" fill="#b3163e"/>
<rect x="140.22" y="196.77" width="3.6" height="3.6" fill="#b3163e"/>
<rect x="145.2" y="196.97" width="3.6" height="3.6" fill="#b3163e"/>
<rect x="150.18" y="197.34" width="3.6" height="3.6" fill="#b3163e"/>
<rect x="155.16" y="196.77" width="3.6" height="3.6" fill="#b3163e"/>
<rect x="160.14" y="197.25" width="3.6" height="3.6" fill="#b3163e"/>
<rect x="165.12" y="197.82" width="3.6" height="3.6" fill="#b3163e"/>
<rect x="170.1" y="198.01" width="3.6" height="3.6" fill="#b3163e"/>
<rect x="175.08" y="198.2" width="3.6" height="3.6" fill="#b3163e"/>
<rect x="180.06" y="198.29" width="3.6" height="3.6" fill="#b3163e"/>
<rect x="185.04" y="198.39" width="3.6" height="3.6" fill="#b3163e"/>
<rect x="190.02" y="198.67" width="3.6" height="3.6" fill="#b3163e"/>
<rect x="195" y="198.96" width="3.6" height="3.6" fill="#b3163e"/>
<rect x="199.98" y="199.25" width="3.6" height="3.6" fill="#b3163e"/>
<rect x="204.96" y="199.53" width="3.6" height="3.6" fill="#b3163e"/>
<rect x="209.94" y="200" width="3.6" height="3.6" fill="#b3163e"/>
<rect x="214.92" y="200.48" width="3.6" height="3.6" fill="#b3163e"/>
<rect x="219.9" y="201.05" width="3.6" height="3.6" fill="#b3163e"/>
<rect x="224.88" y="201.52" width="3.6" height="3.6" fill="#b3163e"/>
<rect x="229.86" y="202.19" width="3.6" height="3.6" fill="#b3163e"/>
<rect x="234.84" y="202.95" width="3.6" height="3.6" fill="#b3163e"/>
<rect x="239.82" y="203.71" width="3.6" height="3.6" fill="#b3163e"/>
<rect x="244.8" y="204.47" width="3.6" height="3.6" fill="#b3163e"/>
<polyline points="47.4,143 52.38,153.83 57.36,161.53 62.34,166.18 67.32,170.26 72.3,174.16 77.28,177.68 82.26,181.19 87.24,183.85 92.22,185.84 97.2,187.37 102.18,188.88 107.16,189.55 112.14,190.5 117.12,191.07 122.1,191.55 127.08,192.12 132.06,192.5 137.04,192.88 142.02,193.16 147,193.35 151.98,193.54 156.96,193.16 161.94,193.44 166.92,193.73 171.9,193.92 176.88,194.11 181.86,194.3 186.84,194.59 191.82,194.87 196.8,195.25 201.78,195.92 206.76,196.77 211.74,198.19 216.72,199.62 221.7,200.95 226.68,202.28 231.66,203.32 236.64,204.28 241.62,205.32 246.6,206.27" fill="none" stroke="#17497a" stroke-width="0.8" />
<circle cx="47.4" cy="143" r="1.9" fill="#17497a"/>
<circle cx="52.38" cy="153.83" r="1.9" fill="#17497a"/>
<circle cx="57.36" cy="161.53" r="1.9" fill="#17497a"/>
<circle cx="62.34" cy="166.18" r="1.9" fill="#17497a"/>
<circle cx="67.32" cy="170.26" r="1.9" fill="#17497a"/>
<circle cx="72.3" cy="174.16" r="1.9" fill="#17497a"/>
<circle cx="77.28" cy="177.68" r="1.9" fill="#17497a"/>
<circle cx="82.26" cy="181.19" r="1.9" fill="#17497a"/>
<circle cx="87.24" cy="183.85" r="1.9" fill="#17497a"/>
<circle cx="92.22" cy="185.84" r="1.9" fill="#17497a"/>
<circle cx="97.2" cy="187.37" r="1.9" fill="#17497a"/>
<circle cx="102.18" cy="188.88" r="1.9" fill="#17497a"/>
<circle cx="107.16" cy="189.55" r="1.9" fill="#17497a"/>
<circle cx="112.14" cy="190.5" r="1.9" fill="#17497a"/>
<circle cx="117.12" cy="191.07" r="1.9" fill="#17497a"/>
<circle cx="122.1" cy="191.55" r="1.9" fill="#17497a"/>
<circle cx="127.08" cy="192.12" r="1.9" fill="#17497a"/>
<circle cx="132.06" cy="192.5" r="1.9" fill="#17497a"/>
<circle cx="137.04" cy="192.88" r="1.9" fill="#17497a"/>
<circle cx="142.02" cy="193.16" r="1.9" fill="#17497a"/>
<circle cx="147" cy="193.35" r="1.9" fill="#17497a"/>
<circle cx="151.98" cy="193.54" r="1.9" fill="#17497a"/>
<circle cx="156.96" cy="193.16" r="1.9" fill="#17497a"/>
<circle cx="161.94" cy="193.44" r="1.9" fill="#17497a"/>
<circle cx="166.92" cy="193.73" r="1.9" fill="#17497a"/>
<circle cx="171.9" cy="193.92" r="1.9" fill="#17497a"/>
<circle cx="176.88" cy="194.11" r="1.9" fill="#17497a"/>
<circle cx="181.86" cy="194.3" r="1.9" fill="#17497a"/>
<circle cx="186.84" cy="194.59" r="1.9" fill="#17497a"/>
<circle cx="191.82" cy="194.87" r="1.9" fill="#17497a"/>
<circle cx="196.8" cy="195.25" r="1.9" fill="#17497a"/>
<circle cx="201.78" cy="195.92" r="1.9" fill="#17497a"/>
<circle cx="206.76" cy="196.77" r="1.9" fill="#17497a"/>
<circle cx="211.74" cy="198.19" r="1.9" fill="#17497a"/>
<circle cx="216.72" cy="199.62" r="1.9" fill="#17497a"/>
<circle cx="221.7" cy="200.95" r="1.9" fill="#17497a"/>
<circle cx="226.68" cy="202.28" r="1.9" fill="#17497a"/>
<circle cx="231.66" cy="203.32" r="1.9" fill="#17497a"/>
<circle cx="236.64" cy="204.28" r="1.9" fill="#17497a"/>
<circle cx="241.62" cy="205.32" r="1.9" fill="#17497a"/>
<circle cx="246.6" cy="206.27" r="1.9" fill="#17497a"/>
<line x1="45" y1="42.2" x2="45" y2="238.7" stroke="#111" stroke-width="1.55" />
<line x1="40.5" y1="238" x2="252.5" y2="238" stroke="#111" stroke-width="1.6" />
<line x1="40.5" y1="238" x2="45" y2="238" stroke="#111" stroke-width="1.3" />
<text transform="translate(35.9,242.36) scale(1.1,1)" font-size="10.3" text-anchor="end" font-weight="normal" fill="#111" >0</text>
<line x1="40.5" y1="190.5" x2="45" y2="190.5" stroke="#111" stroke-width="1.3" />
<text transform="translate(35.9,194.86) scale(1.1,1)" font-size="10.3" text-anchor="end" font-weight="normal" fill="#111" >50</text>
<line x1="40.5" y1="143" x2="45" y2="143" stroke="#111" stroke-width="1.3" />
<text transform="translate(35.9,147.36) scale(1.1,1)" font-size="10.3" text-anchor="end" font-weight="normal" fill="#111" >100</text>
<line x1="40.5" y1="95.5" x2="45" y2="95.5" stroke="#111" stroke-width="1.3" />
<text transform="translate(35.9,99.86) scale(1.1,1)" font-size="10.3" text-anchor="end" font-weight="normal" fill="#111" >150</text>
<line x1="40.5" y1="48" x2="45" y2="48" stroke="#111" stroke-width="1.3" />
<text transform="translate(35.9,52.36) scale(1.1,1)" font-size="10.3" text-anchor="end" font-weight="normal" fill="#111" >200</text>
<line x1="47.4" y1="238" x2="47.4" y2="242.5" stroke="#111" stroke-width="1.3" />
<line x1="57.36" y1="238" x2="57.36" y2="242.5" stroke="#111" stroke-width="1.3" />
<line x1="67.32" y1="238" x2="67.32" y2="242.5" stroke="#111" stroke-width="1.3" />
<line x1="77.28" y1="238" x2="77.28" y2="242.5" stroke="#111" stroke-width="1.3" />
<line x1="87.24" y1="238" x2="87.24" y2="242.5" stroke="#111" stroke-width="1.3" />
<line x1="97.2" y1="238" x2="97.2" y2="242.5" stroke="#111" stroke-width="1.3" />
<line x1="107.16" y1="238" x2="107.16" y2="242.5" stroke="#111" stroke-width="1.3" />
<line x1="117.12" y1="238" x2="117.12" y2="242.5" stroke="#111" stroke-width="1.3" />
<line x1="127.08" y1="238" x2="127.08" y2="242.5" stroke="#111" stroke-width="1.3" />
<line x1="137.04" y1="238" x2="137.04" y2="242.5" stroke="#111" stroke-width="1.3" />
<line x1="147" y1="238" x2="147" y2="242.5" stroke="#111" stroke-width="1.3" />
<line x1="156.96" y1="238" x2="156.96" y2="242.5" stroke="#111" stroke-width="1.3" />
<line x1="166.92" y1="238" x2="166.92" y2="242.5" stroke="#111" stroke-width="1.3" />
<line x1="176.88" y1="238" x2="176.88" y2="242.5" stroke="#111" stroke-width="1.3" />
<line x1="186.84" y1="238" x2="186.84" y2="242.5" stroke="#111" stroke-width="1.3" />
<line x1="196.8" y1="238" x2="196.8" y2="242.5" stroke="#111" stroke-width="1.3" />
<line x1="206.76" y1="238" x2="206.76" y2="242.5" stroke="#111" stroke-width="1.3" />
<line x1="216.72" y1="238" x2="216.72" y2="242.5" stroke="#111" stroke-width="1.3" />
<line x1="226.68" y1="238" x2="226.68" y2="242.5" stroke="#111" stroke-width="1.3" />
<line x1="236.64" y1="238" x2="236.64" y2="242.5" stroke="#111" stroke-width="1.3" />
<line x1="246.6" y1="238" x2="246.6" y2="242.5" stroke="#111" stroke-width="1.3" />
<text transform="translate(47.4,254.8) scale(1.07,1)" font-size="10.3" text-anchor="middle" font-weight="normal" fill="#111" >0</text>
<text transform="translate(67.32,254.8) scale(1.07,1)" font-size="10.3" text-anchor="middle" font-weight="normal" fill="#111" >4</text>
<text transform="translate(87.24,254.8) scale(1.07,1)" font-size="10.3" text-anchor="middle" font-weight="normal" fill="#111" >8</text>
<text transform="translate(107.16,254.8) scale(1.07,1)" font-size="10.3" text-anchor="middle" font-weight="normal" fill="#111" >12</text>
<text transform="translate(127.08,254.8) scale(1.07,1)" font-size="10.3" text-anchor="middle" font-weight="normal" fill="#111" >16</text>
<text transform="translate(147,254.8) scale(1.07,1)" font-size="10.3" text-anchor="middle" font-weight="normal" fill="#111" >20</text>
<text transform="translate(166.92,254.8) scale(1.07,1)" font-size="10.3" text-anchor="middle" font-weight="normal" fill="#111" >24</text>
<text transform="translate(186.84,254.8) scale(1.07,1)" font-size="10.3" text-anchor="middle" font-weight="normal" fill="#111" >28</text>
<text transform="translate(206.76,254.8) scale(1.07,1)" font-size="10.3" text-anchor="middle" font-weight="normal" fill="#111" >32</text>
<text transform="translate(226.68,254.8) scale(1.07,1)" font-size="10.3" text-anchor="middle" font-weight="normal" fill="#111" >36</text>
<text transform="translate(246.6,254.8) scale(1.07,1)" font-size="10.3" text-anchor="middle" font-weight="normal" fill="#111" >40</text>
<text transform="translate(11.2,140.5) rotate(-90)" font-size="12.8" text-anchor="middle" font-weight="normal" fill="#111" textLength="151" lengthAdjust="spacingAndGlyphs" stroke="#111" stroke-width="0.35">Normalized red fluorescence intensity</text>
<text transform="translate(148.8,273.5)" font-size="13.2" text-anchor="middle" font-weight="normal" fill="#111" textLength="29" lengthAdjust="spacingAndGlyphs" stroke="#111" stroke-width="0.35">Time, h</text>
<line x1="50.1" y1="39.2" x2="63.8" y2="39.2" stroke="#4c6a8a" stroke-width="1.2" />
<circle cx="56.8" cy="39.2" r="2.2" fill="#163a60"/>
<text transform="translate(66.6,42.8)" font-size="10" text-anchor="start" font-weight="normal" fill="#111" >CAR-T</text>
<line x1="50.1" y1="54.5" x2="63.8" y2="54.5" stroke="#b23c5c" stroke-width="1.2" />
<rect x="54.6" y="52.3" width="4.4" height="4.4" fill="#a51a3c"/>
<text transform="translate(66.6,58.1)" font-size="10" text-anchor="start" font-weight="normal" fill="#111" >CAR-Tm</text>
<line x1="50.1" y1="69.5" x2="63.8" y2="69.5" stroke="#4e8e5c" stroke-width="1.2" />
<polygon points="56.8,67.34 54.73,71.12 58.87,71.12" fill="#2a6e3a" />
<text transform="translate(66.6,73.1)" font-size="10" text-anchor="start" font-weight="normal" fill="#111" >Control</text>
<polyline points="108.7,30.8 112.2,30.8 112.2,49.4 108.7,49.4" fill="none" stroke="#222" stroke-width="1.3" />
<polyline points="108.7,58.5 112.2,58.5 112.2,76.9 108.7,76.9" fill="none" stroke="#222" stroke-width="1.3" />
<polyline points="123.9,30.7 127.4,30.7 127.4,76.9 123.9,76.9" fill="none" stroke="#222" stroke-width="1.3" />
<text transform="translate(116.1,40) rotate(90)" font-size="9" text-anchor="middle" font-weight="normal" fill="#111" >ns</text>
<text transform="translate(117.8,69.43)" font-size="8.5" text-anchor="middle" font-weight="bold" fill="#111" >*</text>
<text transform="translate(117.8,72.53)" font-size="8.5" text-anchor="middle" font-weight="bold" fill="#111" >*</text>
<text transform="translate(117.8,75.63)" font-size="8.5" text-anchor="middle" font-weight="bold" fill="#111" >*</text>
<text transform="translate(132.6,55.23)" font-size="8.5" text-anchor="middle" font-weight="bold" fill="#111" >*</text>
<text transform="translate(132.6,58.33)" font-size="8.5" text-anchor="middle" font-weight="bold" fill="#111" >*</text>
<text transform="translate(132.6,61.43)" font-size="8.5" text-anchor="middle" font-weight="bold" fill="#111" >*</text>
</g>
<g id="A2">
<line x1="319.5" y1="146.38" x2="319.5" y2="151.06" stroke="#5a8888" stroke-width="0.7" />
<line x1="317.9" y1="146.38" x2="321.1" y2="146.38" stroke="#2f5f5f" stroke-width="0.9" />
<line x1="317.9" y1="151.06" x2="321.1" y2="151.06" stroke="#2f5f5f" stroke-width="0.9" />
<line x1="324.55" y1="148.25" x2="324.55" y2="152.93" stroke="#5a8888" stroke-width="0.7" />
<line x1="322.95" y1="148.25" x2="326.15" y2="148.25" stroke="#2f5f5f" stroke-width="0.9" />
<line x1="322.95" y1="152.93" x2="326.15" y2="152.93" stroke="#2f5f5f" stroke-width="0.9" />
<line x1="329.6" y1="150.59" x2="329.6" y2="155.27" stroke="#5a8888" stroke-width="0.7" />
<line x1="328" y1="150.59" x2="331.2" y2="150.59" stroke="#2f5f5f" stroke-width="0.9" />
<line x1="328" y1="155.27" x2="331.2" y2="155.27" stroke="#2f5f5f" stroke-width="0.9" />
<line x1="334.65" y1="151.99" x2="334.65" y2="156.67" stroke="#5a8888" stroke-width="0.7" />
<line x1="333.05" y1="151.99" x2="336.25" y2="151.99" stroke="#2f5f5f" stroke-width="0.9" />
<line x1="333.05" y1="156.67" x2="336.25" y2="156.67" stroke="#2f5f5f" stroke-width="0.9" />
<line x1="339.7" y1="153.68" x2="339.7" y2="158.36" stroke="#5a8888" stroke-width="0.7" />
<line x1="338.1" y1="153.68" x2="341.3" y2="153.68" stroke="#2f5f5f" stroke-width="0.9" />
<line x1="338.1" y1="158.36" x2="341.3" y2="158.36" stroke="#2f5f5f" stroke-width="0.9" />
<line x1="344.75" y1="154.24" x2="344.75" y2="158.92" stroke="#5a8888" stroke-width="0.7" />
<line x1="343.15" y1="154.24" x2="346.35" y2="154.24" stroke="#2f5f5f" stroke-width="0.9" />
<line x1="343.15" y1="158.92" x2="346.35" y2="158.92" stroke="#2f5f5f" stroke-width="0.9" />
<line x1="349.8" y1="154.8" x2="349.8" y2="159.48" stroke="#5a8888" stroke-width="0.7" />
<line x1="348.2" y1="154.8" x2="351.4" y2="154.8" stroke="#2f5f5f" stroke-width="0.9" />
<line x1="348.2" y1="159.48" x2="351.4" y2="159.48" stroke="#2f5f5f" stroke-width="0.9" />
<line x1="354.85" y1="155.74" x2="354.85" y2="160.42" stroke="#5a8888" stroke-width="0.7" />
<line x1="353.25" y1="155.74" x2="356.45" y2="155.74" stroke="#2f5f5f" stroke-width="0.9" />
<line x1="353.25" y1="160.42" x2="356.45" y2="160.42" stroke="#2f5f5f" stroke-width="0.9" />
<line x1="359.9" y1="156.2" x2="359.9" y2="160.88" stroke="#5a8888" stroke-width="0.7" />
<line x1="358.3" y1="156.2" x2="361.5" y2="156.2" stroke="#2f5f5f" stroke-width="0.9" />
<line x1="358.3" y1="160.88" x2="361.5" y2="160.88" stroke="#2f5f5f" stroke-width="0.9" />
<line x1="364.95" y1="156.39" x2="364.95" y2="161.07" stroke="#5a8888" stroke-width="0.7" />
<line x1="363.35" y1="156.39" x2="366.55" y2="156.39" stroke="#2f5f5f" stroke-width="0.9" />
<line x1="363.35" y1="161.07" x2="366.55" y2="161.07" stroke="#2f5f5f" stroke-width="0.9" />
<line x1="370" y1="156.25" x2="370" y2="160.93" stroke="#5a8888" stroke-width="0.7" />
<line x1="368.4" y1="156.25" x2="371.6" y2="156.25" stroke="#2f5f5f" stroke-width="0.9" />
<line x1="368.4" y1="160.93" x2="371.6" y2="160.93" stroke="#2f5f5f" stroke-width="0.9" />
<line x1="375.05" y1="156.11" x2="375.05" y2="160.79" stroke="#5a8888" stroke-width="0.7" />
<line x1="373.45" y1="156.11" x2="376.65" y2="156.11" stroke="#2f5f5f" stroke-width="0.9" />
<line x1="373.45" y1="160.79" x2="376.65" y2="160.79" stroke="#2f5f5f" stroke-width="0.9" />
<line x1="380.1" y1="155.78" x2="380.1" y2="160.46" stroke="#5a8888" stroke-width="0.7" />
<line x1="378.5" y1="155.78" x2="381.7" y2="155.78" stroke="#2f5f5f" stroke-width="0.9" />
<line x1="378.5" y1="160.46" x2="381.7" y2="160.46" stroke="#2f5f5f" stroke-width="0.9" />
<line x1="385.15" y1="155.46" x2="385.15" y2="160.14" stroke="#5a8888" stroke-width="0.7" />
<line x1="383.55" y1="155.46" x2="386.75" y2="155.46" stroke="#2f5f5f" stroke-width="0.9" />
<line x1="383.55" y1="160.14" x2="386.75" y2="160.14" stroke="#2f5f5f" stroke-width="0.9" />
<line x1="390.2" y1="154.89" x2="390.2" y2="159.57" stroke="#5a8888" stroke-width="0.7" />
<line x1="388.6" y1="154.89" x2="391.8" y2="154.89" stroke="#2f5f5f" stroke-width="0.9" />
<line x1="388.6" y1="159.57" x2="391.8" y2="159.57" stroke="#2f5f5f" stroke-width="0.9" />
<line x1="395.25" y1="154.33" x2="395.25" y2="159.01" stroke="#5a8888" stroke-width="0.7" />
<line x1="393.65" y1="154.33" x2="396.85" y2="154.33" stroke="#2f5f5f" stroke-width="0.9" />
<line x1="393.65" y1="159.01" x2="396.85" y2="159.01" stroke="#2f5f5f" stroke-width="0.9" />
<line x1="400.3" y1="153.21" x2="400.3" y2="157.89" stroke="#5a8888" stroke-width="0.7" />
<line x1="398.7" y1="153.21" x2="401.9" y2="153.21" stroke="#2f5f5f" stroke-width="0.9" />
<line x1="398.7" y1="157.89" x2="401.9" y2="157.89" stroke="#2f5f5f" stroke-width="0.9" />
<line x1="405.35" y1="151.95" x2="405.35" y2="157.94" stroke="#5a8888" stroke-width="0.7" />
<line x1="403.75" y1="151.95" x2="406.95" y2="151.95" stroke="#2f5f5f" stroke-width="0.9" />
<line x1="403.75" y1="157.94" x2="406.95" y2="157.94" stroke="#2f5f5f" stroke-width="0.9" />
<line x1="410.4" y1="151.23" x2="410.4" y2="157.43" stroke="#5a8888" stroke-width="0.7" />
<line x1="408.8" y1="151.23" x2="412" y2="151.23" stroke="#2f5f5f" stroke-width="0.9" />
<line x1="408.8" y1="157.43" x2="412" y2="157.43" stroke="#2f5f5f" stroke-width="0.9" />
<line x1="415.45" y1="149.96" x2="415.45" y2="156.36" stroke="#5a8888" stroke-width="0.7" />
<line x1="413.85" y1="149.96" x2="417.05" y2="149.96" stroke="#2f5f5f" stroke-width="0.9" />
<line x1="413.85" y1="156.36" x2="417.05" y2="156.36" stroke="#2f5f5f" stroke-width="0.9" />
<line x1="420.5" y1="148.69" x2="420.5" y2="155.3" stroke="#5a8888" stroke-width="0.7" />
<line x1="418.9" y1="148.69" x2="422.1" y2="148.69" stroke="#2f5f5f" stroke-width="0.9" />
<line x1="418.9" y1="155.3" x2="422.1" y2="155.3" stroke="#2f5f5f" stroke-width="0.9" />
<line x1="425.55" y1="147.56" x2="425.55" y2="154.37" stroke="#5a8888" stroke-width="0.7" />
<line x1="423.95" y1="147.56" x2="427.15" y2="147.56" stroke="#2f5f5f" stroke-width="0.9" />
<line x1="423.95" y1="154.37" x2="427.15" y2="154.37" stroke="#2f5f5f" stroke-width="0.9" />
<line x1="430.6" y1="146.33" x2="430.6" y2="153.35" stroke="#5a8888" stroke-width="0.7" />
<line x1="429" y1="146.33" x2="432.2" y2="146.33" stroke="#2f5f5f" stroke-width="0.9" />
<line x1="429" y1="153.35" x2="432.2" y2="153.35" stroke="#2f5f5f" stroke-width="0.9" />
<line x1="435.65" y1="145.1" x2="435.65" y2="152.33" stroke="#5a8888" stroke-width="0.7" />
<line x1="434.05" y1="145.1" x2="437.25" y2="145.1" stroke="#2f5f5f" stroke-width="0.9" />
<line x1="434.05" y1="152.33" x2="437.25" y2="152.33" stroke="#2f5f5f" stroke-width="0.9" />
<line x1="440.7" y1="143.46" x2="440.7" y2="150.89" stroke="#5a8888" stroke-width="0.7" />
<line x1="439.1" y1="143.46" x2="442.3" y2="143.46" stroke="#2f5f5f" stroke-width="0.9" />
<line x1="439.1" y1="150.89" x2="442.3" y2="150.89" stroke="#2f5f5f" stroke-width="0.9" />
<line x1="445.75" y1="141.81" x2="445.75" y2="149.45" stroke="#5a8888" stroke-width="0.7" />
<line x1="444.15" y1="141.81" x2="447.35" y2="141.81" stroke="#2f5f5f" stroke-width="0.9" />
<line x1="444.15" y1="149.45" x2="447.35" y2="149.45" stroke="#2f5f5f" stroke-width="0.9" />
<line x1="450.8" y1="141.47" x2="450.8" y2="149.32" stroke="#5a8888" stroke-width="0.7" />
<line x1="449.2" y1="141.47" x2="452.4" y2="141.47" stroke="#2f5f5f" stroke-width="0.9" />
<line x1="449.2" y1="149.32" x2="452.4" y2="149.32" stroke="#2f5f5f" stroke-width="0.9" />
<line x1="455.85" y1="141.13" x2="455.85" y2="149.18" stroke="#5a8888" stroke-width="0.7" />
<line x1="454.25" y1="141.13" x2="457.45" y2="141.13" stroke="#2f5f5f" stroke-width="0.9" />
<line x1="454.25" y1="149.18" x2="457.45" y2="149.18" stroke="#2f5f5f" stroke-width="0.9" />
<line x1="460.9" y1="140.75" x2="460.9" y2="149.01" stroke="#5a8888" stroke-width="0.7" />
<line x1="459.3" y1="140.75" x2="462.5" y2="140.75" stroke="#2f5f5f" stroke-width="0.9" />
<line x1="459.3" y1="149.01" x2="462.5" y2="149.01" stroke="#2f5f5f" stroke-width="0.9" />
<line x1="465.95" y1="140.37" x2="465.95" y2="148.83" stroke="#5a8888" stroke-width="0.7" />
<line x1="464.35" y1="140.37" x2="467.55" y2="140.37" stroke="#2f5f5f" stroke-width="0.9" />
<line x1="464.35" y1="148.83" x2="467.55" y2="148.83" stroke="#2f5f5f" stroke-width="0.9" />
<line x1="471" y1="139.67" x2="471" y2="148.34" stroke="#5a8888" stroke-width="0.7" />
<line x1="469.4" y1="139.67" x2="472.6" y2="139.67" stroke="#2f5f5f" stroke-width="0.9" />
<line x1="469.4" y1="148.34" x2="472.6" y2="148.34" stroke="#2f5f5f" stroke-width="0.9" />
<line x1="476.05" y1="138.98" x2="476.05" y2="147.85" stroke="#5a8888" stroke-width="0.7" />
<line x1="474.45" y1="138.98" x2="477.65" y2="138.98" stroke="#2f5f5f" stroke-width="0.9" />
<line x1="474.45" y1="147.85" x2="477.65" y2="147.85" stroke="#2f5f5f" stroke-width="0.9" />
<line x1="481.1" y1="138.28" x2="481.1" y2="147.36" stroke="#5a8888" stroke-width="0.7" />
<line x1="479.5" y1="138.28" x2="482.7" y2="138.28" stroke="#2f5f5f" stroke-width="0.9" />
<line x1="479.5" y1="147.36" x2="482.7" y2="147.36" stroke="#2f5f5f" stroke-width="0.9" />
<line x1="486.15" y1="138.11" x2="486.15" y2="147.4" stroke="#5a8888" stroke-width="0.7" />
<line x1="484.55" y1="138.11" x2="487.75" y2="138.11" stroke="#2f5f5f" stroke-width="0.9" />
<line x1="484.55" y1="147.4" x2="487.75" y2="147.4" stroke="#2f5f5f" stroke-width="0.9" />
<line x1="491.2" y1="137.95" x2="491.2" y2="147.44" stroke="#5a8888" stroke-width="0.7" />
<line x1="489.6" y1="137.95" x2="492.8" y2="137.95" stroke="#2f5f5f" stroke-width="0.9" />
<line x1="489.6" y1="147.44" x2="492.8" y2="147.44" stroke="#2f5f5f" stroke-width="0.9" />
<line x1="496.25" y1="137.78" x2="496.25" y2="147.48" stroke="#5a8888" stroke-width="0.7" />
<line x1="494.65" y1="137.78" x2="497.85" y2="137.78" stroke="#2f5f5f" stroke-width="0.9" />
<line x1="494.65" y1="147.48" x2="497.85" y2="147.48" stroke="#2f5f5f" stroke-width="0.9" />
<line x1="501.3" y1="137.68" x2="501.3" y2="147.58" stroke="#5a8888" stroke-width="0.7" />
<line x1="499.7" y1="137.68" x2="502.9" y2="137.68" stroke="#2f5f5f" stroke-width="0.9" />
<line x1="499.7" y1="147.58" x2="502.9" y2="147.58" stroke="#2f5f5f" stroke-width="0.9" />
<line x1="506.35" y1="137.58" x2="506.35" y2="147.69" stroke="#5a8888" stroke-width="0.7" />
<line x1="504.75" y1="137.58" x2="507.95" y2="137.58" stroke="#2f5f5f" stroke-width="0.9" />
<line x1="504.75" y1="147.69" x2="507.95" y2="147.69" stroke="#2f5f5f" stroke-width="0.9" />
<line x1="511.4" y1="137.47" x2="511.4" y2="147.79" stroke="#5a8888" stroke-width="0.7" />
<line x1="509.8" y1="137.47" x2="513" y2="137.47" stroke="#2f5f5f" stroke-width="0.9" />
<line x1="509.8" y1="147.79" x2="513" y2="147.79" stroke="#2f5f5f" stroke-width="0.9" />
<line x1="516.45" y1="137.37" x2="516.45" y2="147.89" stroke="#5a8888" stroke-width="0.7" />
<line x1="514.85" y1="137.37" x2="518.05" y2="137.37" stroke="#2f5f5f" stroke-width="0.9" />
<line x1="514.85" y1="147.89" x2="518.05" y2="147.89" stroke="#2f5f5f" stroke-width="0.9" />
<polyline points="314.45,143.1 319.5,148.72 324.55,150.59 329.6,152.93 334.65,154.33 339.7,156.02 344.75,156.58 349.8,157.14 354.85,158.08 359.9,158.54 364.95,158.73 370,158.59 375.05,158.45 380.1,158.12 385.15,157.8 390.2,157.23 395.25,156.67 400.3,155.55 405.35,154.94 410.4,154.33 415.45,153.16 420.5,151.99 425.55,150.96 430.6,149.84 435.65,148.72 440.7,147.17 445.75,145.63 450.8,145.39 455.85,145.16 460.9,144.88 465.95,144.6 471,144 476.05,143.41 481.1,142.82 486.15,142.76 491.2,142.69 496.25,142.63 501.3,142.63 506.35,142.63 511.4,142.63 516.45,142.63" fill="none" stroke="#1d5558" stroke-width="0.9" />
<polygon points="314.45,140.8 316.75,143.1 314.45,145.39 312.15,143.1" fill="#1d5558" />
<polygon points="319.5,146.42 321.8,148.72 319.5,151.01 317.2,148.72" fill="#1d5558" />
<polygon points="324.55,148.29 326.85,150.59 324.55,152.88 322.25,150.59" fill="#1d5558" />
<polygon points="329.6,150.63 331.89,152.93 329.6,155.22 327.3,152.93" fill="#1d5558" />
<polygon points="334.65,152.04 336.94,154.33 334.65,156.63 332.35,154.33" fill="#1d5558" />
<polygon points="339.7,153.72 342,156.02 339.7,158.31 337.4,156.02" fill="#1d5558" />
<polygon points="344.75,154.28 347.05,156.58 344.75,158.87 342.45,156.58" fill="#1d5558" />
<polygon points="349.8,154.84 352.1,157.14 349.8,159.43 347.5,157.14" fill="#1d5558" />
<polygon points="354.85,155.78 357.14,158.08 354.85,160.37 352.55,158.08" fill="#1d5558" />
<polygon points="359.9,156.25 362.19,158.54 359.9,160.84 357.6,158.54" fill="#1d5558" />
<polygon points="364.95,156.44 367.25,158.73 364.95,161.03 362.65,158.73" fill="#1d5558" />
<polygon points="370,156.3 372.3,158.59 370,160.89 367.7,158.59" fill="#1d5558" />
<polygon points="375.05,156.16 377.34,158.45 375.05,160.75 372.75,158.45" fill="#1d5558" />
<polygon points="380.1,155.83 382.39,158.12 380.1,160.42 377.8,158.12" fill="#1d5558" />
<polygon points="385.15,155.5 387.44,157.8 385.15,160.09 382.85,157.8" fill="#1d5558" />
<polygon points="390.2,154.94 392.5,157.23 390.2,159.53 387.9,157.23" fill="#1d5558" />
<polygon points="395.25,154.38 397.55,156.67 395.25,158.97 392.95,156.67" fill="#1d5558" />
<polygon points="400.3,153.25 402.59,155.55 400.3,157.84 398,155.55" fill="#1d5558" />
<polygon points="405.35,152.65 407.64,154.94 405.35,157.24 403.05,154.94" fill="#1d5558" />
<polygon points="410.4,152.04 412.69,154.33 410.4,156.63 408.1,154.33" fill="#1d5558" />
<polygon points="415.45,150.87 417.75,153.16 415.45,155.46 413.15,153.16" fill="#1d5558" />
<polygon points="420.5,149.7 422.8,151.99 420.5,154.29 418.2,151.99" fill="#1d5558" />
<polygon points="425.55,148.67 427.84,150.96 425.55,153.26 423.25,150.96" fill="#1d5558" />
<polygon points="430.6,147.54 432.89,149.84 430.6,152.13 428.3,149.84" fill="#1d5558" />
<polygon points="435.65,146.42 437.94,148.72 435.65,151.01 433.35,148.72" fill="#1d5558" />
<polygon points="440.7,144.88 443,147.17 440.7,149.47 438.4,147.17" fill="#1d5558" />
<polygon points="445.75,143.33 448.05,145.63 445.75,147.92 443.45,145.63" fill="#1d5558" />
<polygon points="450.8,143.1 453.09,145.39 450.8,147.69 448.5,145.39" fill="#1d5558" />
<polygon points="455.85,142.86 458.15,145.16 455.85,147.45 453.56,145.16" fill="#1d5558" />
<polygon points="460.9,142.58 463.19,144.88 460.9,147.17 458.6,144.88" fill="#1d5558" />
<polygon points="465.95,142.3 468.25,144.6 465.95,146.89 463.65,144.6" fill="#1d5558" />
<polygon points="471,141.71 473.3,144 471,146.3 468.7,144" fill="#1d5558" />
<polygon points="476.05,141.12 478.34,143.41 476.05,145.71 473.75,143.41" fill="#1d5558" />
<polygon points="481.1,140.52 483.4,142.82 481.1,145.11 478.81,142.82" fill="#1d5558" />
<polygon points="486.15,140.46 488.44,142.76 486.15,145.05 483.85,142.76" fill="#1d5558" />
<polygon points="491.2,140.4 493.5,142.69 491.2,144.99 488.9,142.69" fill="#1d5558" />
<polygon points="496.25,140.34 498.55,142.63 496.25,144.93 493.95,142.63" fill="#1d5558" />
<polygon points="501.3,140.34 503.59,142.63 501.3,144.93 499,142.63" fill="#1d5558" />
<polygon points="506.35,140.34 508.65,142.63 506.35,144.93 504.06,142.63" fill="#1d5558" />
<polygon points="511.4,140.34 513.69,142.63 511.4,144.93 509.1,142.63" fill="#1d5558" />
<polygon points="516.45,140.34 518.75,142.63 516.45,144.93 514.16,142.63" fill="#1d5558" />
<line x1="319.5" y1="146.38" x2="319.5" y2="156.67" stroke="#f0b060" stroke-width="0.7" />
<line x1="317.9" y1="146.38" x2="321.1" y2="146.38" stroke="#f0b060" stroke-width="0.9" />
<line x1="317.9" y1="156.67" x2="321.1" y2="156.67" stroke="#f0b060" stroke-width="0.9" />
<line x1="324.55" y1="152.93" x2="324.55" y2="163.22" stroke="#f0b060" stroke-width="0.7" />
<line x1="322.95" y1="152.93" x2="326.15" y2="152.93" stroke="#f0b060" stroke-width="0.9" />
<line x1="322.95" y1="163.22" x2="326.15" y2="163.22" stroke="#f0b060" stroke-width="0.9" />
<line x1="329.6" y1="158.54" x2="329.6" y2="168.84" stroke="#f0b060" stroke-width="0.7" />
<line x1="328" y1="158.54" x2="331.2" y2="158.54" stroke="#f0b060" stroke-width="0.9" />
<line x1="328" y1="168.84" x2="331.2" y2="168.84" stroke="#f0b060" stroke-width="0.9" />
<line x1="334.65" y1="163.04" x2="334.65" y2="173.33" stroke="#f0b060" stroke-width="0.7" />
<line x1="333.05" y1="163.04" x2="336.25" y2="163.04" stroke="#f0b060" stroke-width="0.9" />
<line x1="333.05" y1="173.33" x2="336.25" y2="173.33" stroke="#f0b060" stroke-width="0.9" />
<line x1="339.7" y1="166.03" x2="339.7" y2="176.33" stroke="#f0b060" stroke-width="0.7" />
<line x1="338.1" y1="166.03" x2="341.3" y2="166.03" stroke="#f0b060" stroke-width="0.9" />
<line x1="338.1" y1="176.33" x2="341.3" y2="176.33" stroke="#f0b060" stroke-width="0.9" />
<line x1="344.75" y1="168.09" x2="344.75" y2="178.39" stroke="#f0b060" stroke-width="0.7" />
<line x1="343.15" y1="168.09" x2="346.35" y2="168.09" stroke="#f0b060" stroke-width="0.9" />
<line x1="343.15" y1="178.39" x2="346.35" y2="178.39" stroke="#f0b060" stroke-width="0.9" />
<line x1="349.8" y1="169.59" x2="349.8" y2="179.88" stroke="#f0b060" stroke-width="0.7" />
<line x1="348.2" y1="169.59" x2="351.4" y2="169.59" stroke="#f0b060" stroke-width="0.9" />
<line x1="348.2" y1="179.88" x2="351.4" y2="179.88" stroke="#f0b060" stroke-width="0.9" />
<line x1="354.85" y1="171.18" x2="354.85" y2="181.48" stroke="#f0b060" stroke-width="0.7" />
<line x1="353.25" y1="171.18" x2="356.45" y2="171.18" stroke="#f0b060" stroke-width="0.9" />
<line x1="353.25" y1="181.48" x2="356.45" y2="181.48" stroke="#f0b060" stroke-width="0.9" />
<line x1="359.9" y1="172.58" x2="359.9" y2="182.88" stroke="#f0b060" stroke-width="0.7" />
<line x1="358.3" y1="172.58" x2="361.5" y2="172.58" stroke="#f0b060" stroke-width="0.9" />
<line x1="358.3" y1="182.88" x2="361.5" y2="182.88" stroke="#f0b060" stroke-width="0.9" />
<line x1="364.95" y1="174.18" x2="364.95" y2="184.47" stroke="#f0b060" stroke-width="0.7" />
<line x1="363.35" y1="174.18" x2="366.55" y2="174.18" stroke="#f0b060" stroke-width="0.9" />
<line x1="363.35" y1="184.47" x2="366.55" y2="184.47" stroke="#f0b060" stroke-width="0.9" />
<line x1="370" y1="175.2" x2="370" y2="185.5" stroke="#f0b060" stroke-width="0.7" />
<line x1="368.4" y1="175.2" x2="371.6" y2="175.2" stroke="#f0b060" stroke-width="0.9" />
<line x1="368.4" y1="185.5" x2="371.6" y2="185.5" stroke="#f0b060" stroke-width="0.9" />
<line x1="375.05" y1="175.11" x2="375.05" y2="185.41" stroke="#f0b060" stroke-width="0.7" />
<line x1="373.45" y1="175.11" x2="376.65" y2="175.11" stroke="#f0b060" stroke-width="0.9" />
<line x1="373.45" y1="185.41" x2="376.65" y2="185.41" stroke="#f0b060" stroke-width="0.9" />
<line x1="380.1" y1="175.95" x2="380.1" y2="186.25" stroke="#f0b060" stroke-width="0.7" />
<line x1="378.5" y1="175.95" x2="381.7" y2="175.95" stroke="#f0b060" stroke-width="0.9" />
<line x1="378.5" y1="186.25" x2="381.7" y2="186.25" stroke="#f0b060" stroke-width="0.9" />
<line x1="385.15" y1="176.8" x2="385.15" y2="187.09" stroke="#f0b060" stroke-width="0.7" />
<line x1="383.55" y1="176.8" x2="386.75" y2="176.8" stroke="#f0b060" stroke-width="0.9" />
<line x1="383.55" y1="187.09" x2="386.75" y2="187.09" stroke="#f0b060" stroke-width="0.9" />
<line x1="390.2" y1="177.73" x2="390.2" y2="188.03" stroke="#f0b060" stroke-width="0.7" />
<line x1="388.6" y1="177.73" x2="391.8" y2="177.73" stroke="#f0b060" stroke-width="0.9" />
<line x1="388.6" y1="188.03" x2="391.8" y2="188.03" stroke="#f0b060" stroke-width="0.9" />
<line x1="395.25" y1="178.67" x2="395.25" y2="188.96" stroke="#f0b060" stroke-width="0.7" />
<line x1="393.65" y1="178.67" x2="396.85" y2="178.67" stroke="#f0b060" stroke-width="0.9" />
<line x1="393.65" y1="188.96" x2="396.85" y2="188.96" stroke="#f0b060" stroke-width="0.9" />
<line x1="400.3" y1="179.51" x2="400.3" y2="189.81" stroke="#f0b060" stroke-width="0.7" />
<line x1="398.7" y1="179.51" x2="401.9" y2="179.51" stroke="#f0b060" stroke-width="0.9" />
<line x1="398.7" y1="189.81" x2="401.9" y2="189.81" stroke="#f0b060" stroke-width="0.9" />
<line x1="405.35" y1="180.35" x2="405.35" y2="190.65" stroke="#f0b060" stroke-width="0.7" />
<line x1="403.75" y1="180.35" x2="406.95" y2="180.35" stroke="#f0b060" stroke-width="0.9" />
<line x1="403.75" y1="190.65" x2="406.95" y2="190.65" stroke="#f0b060" stroke-width="0.9" />
<line x1="410.4" y1="181.15" x2="410.4" y2="191.44" stroke="#f0b060" stroke-width="0.7" />
<line x1="408.8" y1="181.15" x2="412" y2="181.15" stroke="#f0b060" stroke-width="0.9" />
<line x1="408.8" y1="191.44" x2="412" y2="191.44" stroke="#f0b060" stroke-width="0.9" />
<line x1="415.45" y1="181.94" x2="415.45" y2="192.24" stroke="#f0b060" stroke-width="0.7" />
<line x1="413.85" y1="181.94" x2="417.05" y2="181.94" stroke="#f0b060" stroke-width="0.9" />
<line x1="413.85" y1="192.24" x2="417.05" y2="192.24" stroke="#f0b060" stroke-width="0.9" />
<line x1="420.5" y1="182.79" x2="420.5" y2="193.08" stroke="#f0b060" stroke-width="0.7" />
<line x1="418.9" y1="182.79" x2="422.1" y2="182.79" stroke="#f0b060" stroke-width="0.9" />
<line x1="418.9" y1="193.08" x2="422.1" y2="193.08" stroke="#f0b060" stroke-width="0.9" />
<line x1="425.55" y1="183.63" x2="425.55" y2="193.92" stroke="#f0b060" stroke-width="0.7" />
<line x1="423.95" y1="183.63" x2="427.15" y2="183.63" stroke="#f0b060" stroke-width="0.9" />
<line x1="423.95" y1="193.92" x2="427.15" y2="193.92" stroke="#f0b060" stroke-width="0.9" />
<line x1="430.6" y1="184.66" x2="430.6" y2="194.95" stroke="#f0b060" stroke-width="0.7" />
<line x1="429" y1="184.66" x2="432.2" y2="184.66" stroke="#f0b060" stroke-width="0.9" />
<line x1="429" y1="194.95" x2="432.2" y2="194.95" stroke="#f0b060" stroke-width="0.9" />
<line x1="435.65" y1="185.69" x2="435.65" y2="195.98" stroke="#f0b060" stroke-width="0.7" />
<line x1="434.05" y1="185.69" x2="437.25" y2="185.69" stroke="#f0b060" stroke-width="0.9" />
<line x1="434.05" y1="195.98" x2="437.25" y2="195.98" stroke="#f0b060" stroke-width="0.9" />
<line x1="440.7" y1="186.86" x2="440.7" y2="197.15" stroke="#f0b060" stroke-width="0.7" />
<line x1="439.1" y1="186.86" x2="442.3" y2="186.86" stroke="#f0b060" stroke-width="0.9" />
<line x1="439.1" y1="197.15" x2="442.3" y2="197.15" stroke="#f0b060" stroke-width="0.9" />
<line x1="445.75" y1="188.03" x2="445.75" y2="198.32" stroke="#f0b060" stroke-width="0.7" />
<line x1="444.15" y1="188.03" x2="447.35" y2="188.03" stroke="#f0b060" stroke-width="0.9" />
<line x1="444.15" y1="198.32" x2="447.35" y2="198.32" stroke="#f0b060" stroke-width="0.9" />
<line x1="450.8" y1="189.43" x2="450.8" y2="199.73" stroke="#f0b060" stroke-width="0.7" />
<line x1="449.2" y1="189.43" x2="452.4" y2="189.43" stroke="#f0b060" stroke-width="0.9" />
<line x1="449.2" y1="199.73" x2="452.4" y2="199.73" stroke="#f0b060" stroke-width="0.9" />
<line x1="455.85" y1="190.84" x2="455.85" y2="201.13" stroke="#f0b060" stroke-width="0.7" />
<line x1="454.25" y1="190.84" x2="457.45" y2="190.84" stroke="#f0b060" stroke-width="0.9" />
<line x1="454.25" y1="201.13" x2="457.45" y2="201.13" stroke="#f0b060" stroke-width="0.9" />
<line x1="460.9" y1="192.71" x2="460.9" y2="203" stroke="#f0b060" stroke-width="0.7" />
<line x1="459.3" y1="192.71" x2="462.5" y2="192.71" stroke="#f0b060" stroke-width="0.9" />
<line x1="459.3" y1="203" x2="462.5" y2="203" stroke="#f0b060" stroke-width="0.9" />
<line x1="465.95" y1="194.58" x2="465.95" y2="204.88" stroke="#f0b060" stroke-width="0.7" />
<line x1="464.35" y1="194.58" x2="467.55" y2="194.58" stroke="#f0b060" stroke-width="0.9" />
<line x1="464.35" y1="204.88" x2="467.55" y2="204.88" stroke="#f0b060" stroke-width="0.9" />
<line x1="471" y1="196.05" x2="471" y2="206.34" stroke="#f0b060" stroke-width="0.7" />
<line x1="469.4" y1="196.05" x2="472.6" y2="196.05" stroke="#f0b060" stroke-width="0.9" />
<line x1="469.4" y1="206.34" x2="472.6" y2="206.34" stroke="#f0b060" stroke-width="0.9" />
<line x1="476.05" y1="197.51" x2="476.05" y2="207.81" stroke="#f0b060" stroke-width="0.7" />
<line x1="474.45" y1="197.51" x2="477.65" y2="197.51" stroke="#f0b060" stroke-width="0.9" />
<line x1="474.45" y1="207.81" x2="477.65" y2="207.81" stroke="#f0b060" stroke-width="0.9" />
<line x1="481.1" y1="198.98" x2="481.1" y2="209.28" stroke="#f0b060" stroke-width="0.7" />
<line x1="479.5" y1="198.98" x2="482.7" y2="198.98" stroke="#f0b060" stroke-width="0.9" />
<line x1="479.5" y1="209.28" x2="482.7" y2="209.28" stroke="#f0b060" stroke-width="0.9" />
<line x1="486.15" y1="200.23" x2="486.15" y2="210.52" stroke="#f0b060" stroke-width="0.7" />
<line x1="484.55" y1="200.23" x2="487.75" y2="200.23" stroke="#f0b060" stroke-width="0.9" />
<line x1="484.55" y1="210.52" x2="487.75" y2="210.52" stroke="#f0b060" stroke-width="0.9" />
<line x1="491.2" y1="201.48" x2="491.2" y2="211.77" stroke="#f0b060" stroke-width="0.7" />
<line x1="489.6" y1="201.48" x2="492.8" y2="201.48" stroke="#f0b060" stroke-width="0.9" />
<line x1="489.6" y1="211.77" x2="492.8" y2="211.77" stroke="#f0b060" stroke-width="0.9" />
<line x1="496.25" y1="202.72" x2="496.25" y2="213.02" stroke="#f0b060" stroke-width="0.7" />
<line x1="494.65" y1="202.72" x2="497.85" y2="202.72" stroke="#f0b060" stroke-width="0.9" />
<line x1="494.65" y1="213.02" x2="497.85" y2="213.02" stroke="#f0b060" stroke-width="0.9" />
<line x1="501.3" y1="204.03" x2="501.3" y2="214.33" stroke="#f0b060" stroke-width="0.7" />
<line x1="499.7" y1="204.03" x2="502.9" y2="204.03" stroke="#f0b060" stroke-width="0.9" />
<line x1="499.7" y1="214.33" x2="502.9" y2="214.33" stroke="#f0b060" stroke-width="0.9" />
<line x1="506.35" y1="205.34" x2="506.35" y2="215.64" stroke="#f0b060" stroke-width="0.7" />
<line x1="504.75" y1="205.34" x2="507.95" y2="205.34" stroke="#f0b060" stroke-width="0.9" />
<line x1="504.75" y1="215.64" x2="507.95" y2="215.64" stroke="#f0b060" stroke-width="0.9" />
<line x1="511.4" y1="206.98" x2="511.4" y2="217.28" stroke="#f0b060" stroke-width="0.7" />
<line x1="509.8" y1="206.98" x2="513" y2="206.98" stroke="#f0b060" stroke-width="0.9" />
<line x1="509.8" y1="217.28" x2="513" y2="217.28" stroke="#f0b060" stroke-width="0.9" />
<line x1="516.45" y1="208.62" x2="516.45" y2="218.92" stroke="#f0b060" stroke-width="0.7" />
<line x1="514.85" y1="208.62" x2="518.05" y2="208.62" stroke="#f0b060" stroke-width="0.9" />
<line x1="514.85" y1="218.92" x2="518.05" y2="218.92" stroke="#f0b060" stroke-width="0.9" />
<polyline points="314.45,143.1 319.5,151.52 324.55,158.08 329.6,163.69 334.65,168.18 339.7,171.18 344.75,173.24 349.8,174.74 354.85,176.33 359.9,177.73 364.95,179.32 370,180.35 375.05,180.26 380.1,181.1 385.15,181.94 390.2,182.88 395.25,183.82 400.3,184.66 405.35,185.5 410.4,186.3 415.45,187.09 420.5,187.93 425.55,188.78 430.6,189.81 435.65,190.84 440.7,192.01 445.75,193.18 450.8,194.58 455.85,195.98 460.9,197.86 465.95,199.73 471,201.19 476.05,202.66 481.1,204.13 486.15,205.38 491.2,206.62 496.25,207.87 501.3,209.18 506.35,210.49 511.4,212.13 516.45,213.77" fill="none" stroke="#eda24a" stroke-width="0.9" />
<polygon points="314.45,140.94 312.38,144.72 316.52,144.72" fill="#eda24a" />
<polygon points="319.5,149.36 317.43,153.14 321.57,153.14" fill="#eda24a" />
<polygon points="324.55,155.92 322.48,159.7 326.62,159.7" fill="#eda24a" />
<polygon points="329.6,161.53 327.53,165.31 331.67,165.31" fill="#eda24a" />
<polygon points="334.65,166.02 332.58,169.8 336.72,169.8" fill="#eda24a" />
<polygon points="339.7,169.02 337.63,172.8 341.77,172.8" fill="#eda24a" />
<polygon points="344.75,171.08 342.68,174.86 346.82,174.86" fill="#eda24a" />
<polygon points="349.8,172.58 347.73,176.36 351.87,176.36" fill="#eda24a" />
<polygon points="354.85,174.17 352.78,177.95 356.92,177.95" fill="#eda24a" />
<polygon points="359.9,175.57 357.83,179.35 361.97,179.35" fill="#eda24a" />
<polygon points="364.95,177.16 362.88,180.94 367.02,180.94" fill="#eda24a" />
<polygon points="370,178.19 367.93,181.97 372.07,181.97" fill="#eda24a" />
<polygon points="375.05,178.1 372.98,181.88 377.12,181.88" fill="#eda24a" />
<polygon points="380.1,178.94 378.03,182.72 382.17,182.72" fill="#eda24a" />
<polygon points="385.15,179.78 383.08,183.56 387.22,183.56" fill="#eda24a" />
<polygon points="390.2,180.72 388.13,184.5 392.27,184.5" fill="#eda24a" />
<polygon points="395.25,181.66 393.18,185.44 397.32,185.44" fill="#eda24a" />
<polygon points="400.3,182.5 398.23,186.28 402.37,186.28" fill="#eda24a" />
<polygon points="405.35,183.34 403.28,187.12 407.42,187.12" fill="#eda24a" />
<polygon points="410.4,184.14 408.33,187.92 412.47,187.92" fill="#eda24a" />
<polygon points="415.45,184.93 413.38,188.71 417.52,188.71" fill="#eda24a" />
<polygon points="420.5,185.77 418.43,189.55 422.57,189.55" fill="#eda24a" />
<polygon points="425.55,186.62 423.48,190.4 427.62,190.4" fill="#eda24a" />
<polygon points="430.6,187.65 428.53,191.43 432.67,191.43" fill="#eda24a" />
<polygon points="435.65,188.68 433.58,192.46 437.72,192.46" fill="#eda24a" />
<polygon points="440.7,189.85 438.63,193.63 442.77,193.63" fill="#eda24a" />
<polygon points="445.75,191.02 443.68,194.8 447.82,194.8" fill="#eda24a" />
<polygon points="450.8,192.42 448.73,196.2 452.87,196.2" fill="#eda24a" />
<polygon points="455.85,193.82 453.78,197.6 457.92,197.6" fill="#eda24a" />
<polygon points="460.9,195.7 458.83,199.48 462.97,199.48" fill="#eda24a" />
<polygon points="465.95,197.57 463.88,201.35 468.02,201.35" fill="#eda24a" />
<polygon points="471,199.03 468.93,202.81 473.07,202.81" fill="#eda24a" />
<polygon points="476.05,200.5 473.98,204.28 478.12,204.28" fill="#eda24a" />
<polygon points="481.1,201.97 479.03,205.75 483.17,205.75" fill="#eda24a" />
<polygon points="486.15,203.22 484.08,207 488.22,207" fill="#eda24a" />
<polygon points="491.2,204.46 489.13,208.24 493.27,208.24" fill="#eda24a" />
<polygon points="496.25,205.71 494.18,209.49 498.32,209.49" fill="#eda24a" />
<polygon points="501.3,207.02 499.23,210.8 503.37,210.8" fill="#eda24a" />
<polygon points="506.35,208.33 504.28,212.11 508.42,212.11" fill="#eda24a" />
<polygon points="511.4,209.97 509.33,213.75 513.47,213.75" fill="#eda24a" />
<polygon points="516.45,211.61 514.38,215.39 518.52,215.39" fill="#eda24a" />
<line x1="319.5" y1="150.12" x2="319.5" y2="156.67" stroke="#4f6f96" stroke-width="0.7" />
<line x1="317.9" y1="150.12" x2="321.1" y2="150.12" stroke="#4f6f96" stroke-width="0.9" />
<line x1="317.9" y1="156.67" x2="321.1" y2="156.67" stroke="#4f6f96" stroke-width="0.9" />
<line x1="324.55" y1="158.54" x2="324.55" y2="165.1" stroke="#4f6f96" stroke-width="0.7" />
<line x1="322.95" y1="158.54" x2="326.15" y2="158.54" stroke="#4f6f96" stroke-width="0.9" />
<line x1="322.95" y1="165.1" x2="326.15" y2="165.1" stroke="#4f6f96" stroke-width="0.9" />
<line x1="329.6" y1="163.69" x2="329.6" y2="170.24" stroke="#4f6f96" stroke-width="0.7" />
<line x1="328" y1="163.69" x2="331.2" y2="163.69" stroke="#4f6f96" stroke-width="0.9" />
<line x1="328" y1="170.24" x2="331.2" y2="170.24" stroke="#4f6f96" stroke-width="0.9" />
<line x1="334.65" y1="168.37" x2="334.65" y2="174.92" stroke="#4f6f96" stroke-width="0.7" />
<line x1="333.05" y1="168.37" x2="336.25" y2="168.37" stroke="#4f6f96" stroke-width="0.9" />
<line x1="333.05" y1="174.92" x2="336.25" y2="174.92" stroke="#4f6f96" stroke-width="0.9" />
<line x1="339.7" y1="173.52" x2="339.7" y2="180.07" stroke="#4f6f96" stroke-width="0.7" />
<line x1="338.1" y1="173.52" x2="341.3" y2="173.52" stroke="#4f6f96" stroke-width="0.9" />
<line x1="338.1" y1="180.07" x2="341.3" y2="180.07" stroke="#4f6f96" stroke-width="0.9" />
<line x1="344.75" y1="177.64" x2="344.75" y2="184.19" stroke="#4f6f96" stroke-width="0.7" />
<line x1="343.15" y1="177.64" x2="346.35" y2="177.64" stroke="#4f6f96" stroke-width="0.9" />
<line x1="343.15" y1="184.19" x2="346.35" y2="184.19" stroke="#4f6f96" stroke-width="0.9" />
<line x1="349.8" y1="180.35" x2="349.8" y2="186.9" stroke="#4f6f96" stroke-width="0.7" />
<line x1="348.2" y1="180.35" x2="351.4" y2="180.35" stroke="#4f6f96" stroke-width="0.9" />
<line x1="348.2" y1="186.9" x2="351.4" y2="186.9" stroke="#4f6f96" stroke-width="0.9" />
<line x1="354.85" y1="182.6" x2="354.85" y2="189.15" stroke="#4f6f96" stroke-width="0.7" />
<line x1="353.25" y1="182.6" x2="356.45" y2="182.6" stroke="#4f6f96" stroke-width="0.9" />
<line x1="353.25" y1="189.15" x2="356.45" y2="189.15" stroke="#4f6f96" stroke-width="0.9" />
<line x1="359.9" y1="184.38" x2="359.9" y2="190.93" stroke="#4f6f96" stroke-width="0.7" />
<line x1="358.3" y1="184.38" x2="361.5" y2="184.38" stroke="#4f6f96" stroke-width="0.9" />
<line x1="358.3" y1="190.93" x2="361.5" y2="190.93" stroke="#4f6f96" stroke-width="0.9" />
<line x1="364.95" y1="185.5" x2="364.95" y2="192.05" stroke="#4f6f96" stroke-width="0.7" />
<line x1="363.35" y1="185.5" x2="366.55" y2="185.5" stroke="#4f6f96" stroke-width="0.9" />
<line x1="363.35" y1="192.05" x2="366.55" y2="192.05" stroke="#4f6f96" stroke-width="0.9" />
<line x1="370" y1="186.44" x2="370" y2="192.99" stroke="#4f6f96" stroke-width="0.7" />
<line x1="368.4" y1="186.44" x2="371.6" y2="186.44" stroke="#4f6f96" stroke-width="0.9" />
<line x1="368.4" y1="192.99" x2="371.6" y2="192.99" stroke="#4f6f96" stroke-width="0.9" />
<line x1="375.05" y1="187" x2="375.05" y2="193.55" stroke="#4f6f96" stroke-width="0.7" />
<line x1="373.45" y1="187" x2="376.65" y2="187" stroke="#4f6f96" stroke-width="0.9" />
<line x1="373.45" y1="193.55" x2="376.65" y2="193.55" stroke="#4f6f96" stroke-width="0.9" />
<line x1="380.1" y1="187.56" x2="380.1" y2="194.11" stroke="#4f6f96" stroke-width="0.7" />
<line x1="378.5" y1="187.56" x2="381.7" y2="187.56" stroke="#4f6f96" stroke-width="0.9" />
<line x1="378.5" y1="194.11" x2="381.7" y2="194.11" stroke="#4f6f96" stroke-width="0.9" />
<line x1="385.15" y1="188.03" x2="385.15" y2="194.58" stroke="#4f6f96" stroke-width="0.7" />
<line x1="383.55" y1="188.03" x2="386.75" y2="188.03" stroke="#4f6f96" stroke-width="0.9" />
<line x1="383.55" y1="194.58" x2="386.75" y2="194.58" stroke="#4f6f96" stroke-width="0.9" />
<line x1="390.2" y1="188.4" x2="390.2" y2="194.95" stroke="#4f6f96" stroke-width="0.7" />
<line x1="388.6" y1="188.4" x2="391.8" y2="188.4" stroke="#4f6f96" stroke-width="0.9" />
<line x1="388.6" y1="194.95" x2="391.8" y2="194.95" stroke="#4f6f96" stroke-width="0.9" />
<line x1="395.25" y1="188.78" x2="395.25" y2="195.33" stroke="#4f6f96" stroke-width="0.7" />
<line x1="393.65" y1="188.78" x2="396.85" y2="188.78" stroke="#4f6f96" stroke-width="0.9" />
<line x1="393.65" y1="195.33" x2="396.85" y2="195.33" stroke="#4f6f96" stroke-width="0.9" />
<line x1="400.3" y1="188.87" x2="400.3" y2="195.42" stroke="#4f6f96" stroke-width="0.7" />
<line x1="398.7" y1="188.87" x2="401.9" y2="188.87" stroke="#4f6f96" stroke-width="0.9" />
<line x1="398.7" y1="195.42" x2="401.9" y2="195.42" stroke="#4f6f96" stroke-width="0.9" />
<line x1="405.35" y1="189.06" x2="405.35" y2="195.61" stroke="#4f6f96" stroke-width="0.7" />
<line x1="403.75" y1="189.06" x2="406.95" y2="189.06" stroke="#4f6f96" stroke-width="0.9" />
<line x1="403.75" y1="195.61" x2="406.95" y2="195.61" stroke="#4f6f96" stroke-width="0.9" />
<line x1="410.4" y1="189.06" x2="410.4" y2="195.61" stroke="#4f6f96" stroke-width="0.7" />
<line x1="408.8" y1="189.06" x2="412" y2="189.06" stroke="#4f6f96" stroke-width="0.9" />
<line x1="408.8" y1="195.61" x2="412" y2="195.61" stroke="#4f6f96" stroke-width="0.9" />
<line x1="415.45" y1="188.87" x2="415.45" y2="195.42" stroke="#4f6f96" stroke-width="0.7" />
<line x1="413.85" y1="188.87" x2="417.05" y2="188.87" stroke="#4f6f96" stroke-width="0.9" />
<line x1="413.85" y1="195.42" x2="417.05" y2="195.42" stroke="#4f6f96" stroke-width="0.9" />
<line x1="420.5" y1="188.4" x2="420.5" y2="194.95" stroke="#4f6f96" stroke-width="0.7" />
<line x1="418.9" y1="188.4" x2="422.1" y2="188.4" stroke="#4f6f96" stroke-width="0.9" />
<line x1="418.9" y1="194.95" x2="422.1" y2="194.95" stroke="#4f6f96" stroke-width="0.9" />
<line x1="425.55" y1="187.75" x2="425.55" y2="194.3" stroke="#4f6f96" stroke-width="0.7" />
<line x1="423.95" y1="187.75" x2="427.15" y2="187.75" stroke="#4f6f96" stroke-width="0.9" />
<line x1="423.95" y1="194.3" x2="427.15" y2="194.3" stroke="#4f6f96" stroke-width="0.9" />
<line x1="430.6" y1="187.09" x2="430.6" y2="193.64" stroke="#4f6f96" stroke-width="0.7" />
<line x1="429" y1="187.09" x2="432.2" y2="187.09" stroke="#4f6f96" stroke-width="0.9" />
<line x1="429" y1="193.64" x2="432.2" y2="193.64" stroke="#4f6f96" stroke-width="0.9" />
<line x1="435.65" y1="186.62" x2="435.65" y2="193.18" stroke="#4f6f96" stroke-width="0.7" />
<line x1="434.05" y1="186.62" x2="437.25" y2="186.62" stroke="#4f6f96" stroke-width="0.9" />
<line x1="434.05" y1="193.18" x2="437.25" y2="193.18" stroke="#4f6f96" stroke-width="0.9" />
<line x1="440.7" y1="186.16" x2="440.7" y2="192.71" stroke="#4f6f96" stroke-width="0.7" />
<line x1="439.1" y1="186.16" x2="442.3" y2="186.16" stroke="#4f6f96" stroke-width="0.9" />
<line x1="439.1" y1="192.71" x2="442.3" y2="192.71" stroke="#4f6f96" stroke-width="0.9" />
<line x1="445.75" y1="185.45" x2="445.75" y2="192.01" stroke="#4f6f96" stroke-width="0.7" />
<line x1="444.15" y1="185.45" x2="447.35" y2="185.45" stroke="#4f6f96" stroke-width="0.9" />
<line x1="444.15" y1="192.01" x2="447.35" y2="192.01" stroke="#4f6f96" stroke-width="0.9" />
<line x1="450.8" y1="184.75" x2="450.8" y2="191.3" stroke="#4f6f96" stroke-width="0.7" />
<line x1="449.2" y1="184.75" x2="452.4" y2="184.75" stroke="#4f6f96" stroke-width="0.9" />
<line x1="449.2" y1="191.3" x2="452.4" y2="191.3" stroke="#4f6f96" stroke-width="0.9" />
<line x1="455.85" y1="184.28" x2="455.85" y2="190.84" stroke="#4f6f96" stroke-width="0.7" />
<line x1="454.25" y1="184.28" x2="457.45" y2="184.28" stroke="#4f6f96" stroke-width="0.9" />
<line x1="454.25" y1="190.84" x2="457.45" y2="190.84" stroke="#4f6f96" stroke-width="0.9" />
<line x1="460.9" y1="183.82" x2="460.9" y2="190.37" stroke="#4f6f96" stroke-width="0.7" />
<line x1="459.3" y1="183.82" x2="462.5" y2="183.82" stroke="#4f6f96" stroke-width="0.9" />
<line x1="459.3" y1="190.37" x2="462.5" y2="190.37" stroke="#4f6f96" stroke-width="0.9" />
<line x1="465.95" y1="183.58" x2="465.95" y2="190.13" stroke="#4f6f96" stroke-width="0.7" />
<line x1="464.35" y1="183.58" x2="467.55" y2="183.58" stroke="#4f6f96" stroke-width="0.9" />
<line x1="464.35" y1="190.13" x2="467.55" y2="190.13" stroke="#4f6f96" stroke-width="0.9" />
<line x1="471" y1="183.35" x2="471" y2="189.9" stroke="#4f6f96" stroke-width="0.7" />
<line x1="469.4" y1="183.35" x2="472.6" y2="183.35" stroke="#4f6f96" stroke-width="0.9" />
<line x1="469.4" y1="189.9" x2="472.6" y2="189.9" stroke="#4f6f96" stroke-width="0.9" />
<line x1="476.05" y1="183.49" x2="476.05" y2="190.04" stroke="#4f6f96" stroke-width="0.7" />
<line x1="474.45" y1="183.49" x2="477.65" y2="183.49" stroke="#4f6f96" stroke-width="0.9" />
<line x1="474.45" y1="190.04" x2="477.65" y2="190.04" stroke="#4f6f96" stroke-width="0.9" />
<line x1="481.1" y1="183.63" x2="481.1" y2="190.18" stroke="#4f6f96" stroke-width="0.7" />
<line x1="479.5" y1="183.63" x2="482.7" y2="183.63" stroke="#4f6f96" stroke-width="0.9" />
<line x1="479.5" y1="190.18" x2="482.7" y2="190.18" stroke="#4f6f96" stroke-width="0.9" />
<line x1="486.15" y1="184" x2="486.15" y2="190.56" stroke="#4f6f96" stroke-width="0.7" />
<line x1="484.55" y1="184" x2="487.75" y2="184" stroke="#4f6f96" stroke-width="0.9" />
<line x1="484.55" y1="190.56" x2="487.75" y2="190.56" stroke="#4f6f96" stroke-width="0.9" />
<line x1="491.2" y1="184.38" x2="491.2" y2="190.93" stroke="#4f6f96" stroke-width="0.7" />
<line x1="489.6" y1="184.38" x2="492.8" y2="184.38" stroke="#4f6f96" stroke-width="0.9" />
<line x1="489.6" y1="190.93" x2="492.8" y2="190.93" stroke="#4f6f96" stroke-width="0.9" />
<line x1="496.25" y1="184.85" x2="496.25" y2="191.4" stroke="#4f6f96" stroke-width="0.7" />
<line x1="494.65" y1="184.85" x2="497.85" y2="184.85" stroke="#4f6f96" stroke-width="0.9" />
<line x1="494.65" y1="191.4" x2="497.85" y2="191.4" stroke="#4f6f96" stroke-width="0.9" />
<line x1="501.3" y1="185.31" x2="501.3" y2="191.87" stroke="#4f6f96" stroke-width="0.7" />
<line x1="499.7" y1="185.31" x2="502.9" y2="185.31" stroke="#4f6f96" stroke-width="0.9" />
<line x1="499.7" y1="191.87" x2="502.9" y2="191.87" stroke="#4f6f96" stroke-width="0.9" />
<line x1="506.35" y1="185.72" x2="506.35" y2="192.27" stroke="#4f6f96" stroke-width="0.7" />
<line x1="504.75" y1="185.72" x2="507.95" y2="185.72" stroke="#4f6f96" stroke-width="0.9" />
<line x1="504.75" y1="192.27" x2="507.95" y2="192.27" stroke="#4f6f96" stroke-width="0.9" />
<line x1="511.4" y1="186.12" x2="511.4" y2="192.68" stroke="#4f6f96" stroke-width="0.7" />
<line x1="509.8" y1="186.12" x2="513" y2="186.12" stroke="#4f6f96" stroke-width="0.9" />
<line x1="509.8" y1="192.68" x2="513" y2="192.68" stroke="#4f6f96" stroke-width="0.9" />
<line x1="516.45" y1="186.53" x2="516.45" y2="193.08" stroke="#4f6f96" stroke-width="0.7" />
<line x1="514.85" y1="186.53" x2="518.05" y2="186.53" stroke="#4f6f96" stroke-width="0.9" />
<line x1="514.85" y1="193.08" x2="518.05" y2="193.08" stroke="#4f6f96" stroke-width="0.9" />
<polyline points="314.45,143.1 319.5,153.4 324.55,161.82 329.6,166.97 334.65,171.65 339.7,176.8 344.75,180.91 349.8,183.63 354.85,185.88 359.9,187.65 364.95,188.78 370,189.71 375.05,190.27 380.1,190.84 385.15,191.3 390.2,191.68 395.25,192.05 400.3,192.15 405.35,192.33 410.4,192.33 415.45,192.15 420.5,191.68 425.55,191.02 430.6,190.37 435.65,189.9 440.7,189.43 445.75,188.73 450.8,188.03 455.85,187.56 460.9,187.09 465.95,186.86 471,186.62 476.05,186.76 481.1,186.9 486.15,187.28 491.2,187.65 496.25,188.12 501.3,188.59 506.35,189 511.4,189.4 516.45,189.81" fill="none" stroke="#1b4a78" stroke-width="0.9" />
<circle cx="314.45" cy="143.1" r="2.1" fill="#1b4a78"/>
<circle cx="319.5" cy="153.4" r="2.1" fill="#1b4a78"/>
<circle cx="324.55" cy="161.82" r="2.1" fill="#1b4a78"/>
<circle cx="329.6" cy="166.97" r="2.1" fill="#1b4a78"/>
<circle cx="334.65" cy="171.65" r="2.1" fill="#1b4a78"/>
<circle cx="339.7" cy="176.8" r="2.1" fill="#1b4a78"/>
<circle cx="344.75" cy="180.91" r="2.1" fill="#1b4a78"/>
<circle cx="349.8" cy="183.63" r="2.1" fill="#1b4a78"/>
<circle cx="354.85" cy="185.88" r="2.1" fill="#1b4a78"/>
<circle cx="359.9" cy="187.65" r="2.1" fill="#1b4a78"/>
<circle cx="364.95" cy="188.78" r="2.1" fill="#1b4a78"/>
<circle cx="370" cy="189.71" r="2.1" fill="#1b4a78"/>
<circle cx="375.05" cy="190.27" r="2.1" fill="#1b4a78"/>
<circle cx="380.1" cy="190.84" r="2.1" fill="#1b4a78"/>
<circle cx="385.15" cy="191.3" r="2.1" fill="#1b4a78"/>
<circle cx="390.2" cy="191.68" r="2.1" fill="#1b4a78"/>
<circle cx="395.25" cy="192.05" r="2.1" fill="#1b4a78"/>
<circle cx="400.3" cy="192.15" r="2.1" fill="#1b4a78"/>
<circle cx="405.35" cy="192.33" r="2.1" fill="#1b4a78"/>
<circle cx="410.4" cy="192.33" r="2.1" fill="#1b4a78"/>
<circle cx="415.45" cy="192.15" r="2.1" fill="#1b4a78"/>
<circle cx="420.5" cy="191.68" r="2.1" fill="#1b4a78"/>
<circle cx="425.55" cy="191.02" r="2.1" fill="#1b4a78"/>
<circle cx="430.6" cy="190.37" r="2.1" fill="#1b4a78"/>
<circle cx="435.65" cy="189.9" r="2.1" fill="#1b4a78"/>
<circle cx="440.7" cy="189.43" r="2.1" fill="#1b4a78"/>
<circle cx="445.75" cy="188.73" r="2.1" fill="#1b4a78"/>
<circle cx="450.8" cy="188.03" r="2.1" fill="#1b4a78"/>
<circle cx="455.85" cy="187.56" r="2.1" fill="#1b4a78"/>
<circle cx="460.9" cy="187.09" r="2.1" fill="#1b4a78"/>
<circle cx="465.95" cy="186.86" r="2.1" fill="#1b4a78"/>
<circle cx="471" cy="186.62" r="2.1" fill="#1b4a78"/>
<circle cx="476.05" cy="186.76" r="2.1" fill="#1b4a78"/>
<circle cx="481.1" cy="186.9" r="2.1" fill="#1b4a78"/>
<circle cx="486.15" cy="187.28" r="2.1" fill="#1b4a78"/>
<circle cx="491.2" cy="187.65" r="2.1" fill="#1b4a78"/>
<circle cx="496.25" cy="188.12" r="2.1" fill="#1b4a78"/>
<circle cx="501.3" cy="188.59" r="2.1" fill="#1b4a78"/>
<circle cx="506.35" cy="189" r="2.1" fill="#1b4a78"/>
<circle cx="511.4" cy="189.4" r="2.1" fill="#1b4a78"/>
<circle cx="516.45" cy="189.81" r="2.1" fill="#1b4a78"/>
<line x1="319.5" y1="148.25" x2="319.5" y2="156.67" stroke="#7a5585" stroke-width="0.7" />
<line x1="317.9" y1="148.25" x2="321.1" y2="148.25" stroke="#7a5585" stroke-width="0.9" />
<line x1="317.9" y1="156.67" x2="321.1" y2="156.67" stroke="#7a5585" stroke-width="0.9" />
<line x1="324.55" y1="155.74" x2="324.55" y2="164.16" stroke="#7a5585" stroke-width="0.7" />
<line x1="322.95" y1="155.74" x2="326.15" y2="155.74" stroke="#7a5585" stroke-width="0.9" />
<line x1="322.95" y1="164.16" x2="326.15" y2="164.16" stroke="#7a5585" stroke-width="0.9" />
<line x1="329.6" y1="160.42" x2="329.6" y2="168.84" stroke="#7a5585" stroke-width="0.7" />
<line x1="328" y1="160.42" x2="331.2" y2="160.42" stroke="#7a5585" stroke-width="0.9" />
<line x1="328" y1="168.84" x2="331.2" y2="168.84" stroke="#7a5585" stroke-width="0.9" />
<line x1="334.65" y1="165.1" x2="334.65" y2="173.52" stroke="#7a5585" stroke-width="0.7" />
<line x1="333.05" y1="165.1" x2="336.25" y2="165.1" stroke="#7a5585" stroke-width="0.9" />
<line x1="333.05" y1="173.52" x2="336.25" y2="173.52" stroke="#7a5585" stroke-width="0.9" />
<line x1="339.7" y1="169.31" x2="339.7" y2="177.73" stroke="#7a5585" stroke-width="0.7" />
<line x1="338.1" y1="169.31" x2="341.3" y2="169.31" stroke="#7a5585" stroke-width="0.9" />
<line x1="338.1" y1="177.73" x2="341.3" y2="177.73" stroke="#7a5585" stroke-width="0.9" />
<line x1="344.75" y1="172.77" x2="344.75" y2="181.2" stroke="#7a5585" stroke-width="0.7" />
<line x1="343.15" y1="172.77" x2="346.35" y2="172.77" stroke="#7a5585" stroke-width="0.9" />
<line x1="343.15" y1="181.2" x2="346.35" y2="181.2" stroke="#7a5585" stroke-width="0.9" />
<line x1="349.8" y1="174.92" x2="349.8" y2="183.35" stroke="#7a5585" stroke-width="0.7" />
<line x1="348.2" y1="174.92" x2="351.4" y2="174.92" stroke="#7a5585" stroke-width="0.9" />
<line x1="348.2" y1="183.35" x2="351.4" y2="183.35" stroke="#7a5585" stroke-width="0.9" />
<line x1="354.85" y1="176.52" x2="354.85" y2="184.94" stroke="#7a5585" stroke-width="0.7" />
<line x1="353.25" y1="176.52" x2="356.45" y2="176.52" stroke="#7a5585" stroke-width="0.9" />
<line x1="353.25" y1="184.94" x2="356.45" y2="184.94" stroke="#7a5585" stroke-width="0.9" />
<line x1="359.9" y1="177.83" x2="359.9" y2="186.25" stroke="#7a5585" stroke-width="0.7" />
<line x1="358.3" y1="177.83" x2="361.5" y2="177.83" stroke="#7a5585" stroke-width="0.9" />
<line x1="358.3" y1="186.25" x2="361.5" y2="186.25" stroke="#7a5585" stroke-width="0.9" />
<line x1="364.95" y1="178.86" x2="364.95" y2="187.28" stroke="#7a5585" stroke-width="0.7" />
<line x1="363.35" y1="178.86" x2="366.55" y2="178.86" stroke="#7a5585" stroke-width="0.9" />
<line x1="363.35" y1="187.28" x2="366.55" y2="187.28" stroke="#7a5585" stroke-width="0.9" />
<line x1="370" y1="179.6" x2="370" y2="188.03" stroke="#7a5585" stroke-width="0.7" />
<line x1="368.4" y1="179.6" x2="371.6" y2="179.6" stroke="#7a5585" stroke-width="0.9" />
<line x1="368.4" y1="188.03" x2="371.6" y2="188.03" stroke="#7a5585" stroke-width="0.9" />
<line x1="375.05" y1="180.26" x2="375.05" y2="188.68" stroke="#7a5585" stroke-width="0.7" />
<line x1="373.45" y1="180.26" x2="376.65" y2="180.26" stroke="#7a5585" stroke-width="0.9" />
<line x1="373.45" y1="188.68" x2="376.65" y2="188.68" stroke="#7a5585" stroke-width="0.9" />
<line x1="380.1" y1="180.77" x2="380.1" y2="189.2" stroke="#7a5585" stroke-width="0.7" />
<line x1="378.5" y1="180.77" x2="381.7" y2="180.77" stroke="#7a5585" stroke-width="0.9" />
<line x1="378.5" y1="189.2" x2="381.7" y2="189.2" stroke="#7a5585" stroke-width="0.9" />
<line x1="385.15" y1="181.29" x2="385.15" y2="189.71" stroke="#7a5585" stroke-width="0.7" />
<line x1="383.55" y1="181.29" x2="386.75" y2="181.29" stroke="#7a5585" stroke-width="0.9" />
<line x1="383.55" y1="189.71" x2="386.75" y2="189.71" stroke="#7a5585" stroke-width="0.9" />
<line x1="390.2" y1="181.76" x2="390.2" y2="190.18" stroke="#7a5585" stroke-width="0.7" />
<line x1="388.6" y1="181.76" x2="391.8" y2="181.76" stroke="#7a5585" stroke-width="0.9" />
<line x1="388.6" y1="190.18" x2="391.8" y2="190.18" stroke="#7a5585" stroke-width="0.9" />
<line x1="395.25" y1="182.22" x2="395.25" y2="190.65" stroke="#7a5585" stroke-width="0.7" />
<line x1="393.65" y1="182.22" x2="396.85" y2="182.22" stroke="#7a5585" stroke-width="0.9" />
<line x1="393.65" y1="190.65" x2="396.85" y2="190.65" stroke="#7a5585" stroke-width="0.9" />
<line x1="400.3" y1="182.6" x2="400.3" y2="191.02" stroke="#7a5585" stroke-width="0.7" />
<line x1="398.7" y1="182.6" x2="401.9" y2="182.6" stroke="#7a5585" stroke-width="0.9" />
<line x1="398.7" y1="191.02" x2="401.9" y2="191.02" stroke="#7a5585" stroke-width="0.9" />
<line x1="405.35" y1="182.97" x2="405.35" y2="191.4" stroke="#7a5585" stroke-width="0.7" />
<line x1="403.75" y1="182.97" x2="406.95" y2="182.97" stroke="#7a5585" stroke-width="0.9" />
<line x1="403.75" y1="191.4" x2="406.95" y2="191.4" stroke="#7a5585" stroke-width="0.9" />
<line x1="410.4" y1="183.49" x2="410.4" y2="191.91" stroke="#7a5585" stroke-width="0.7" />
<line x1="408.8" y1="183.49" x2="412" y2="183.49" stroke="#7a5585" stroke-width="0.9" />
<line x1="408.8" y1="191.91" x2="412" y2="191.91" stroke="#7a5585" stroke-width="0.9" />
<line x1="415.45" y1="184" x2="415.45" y2="192.43" stroke="#7a5585" stroke-width="0.7" />
<line x1="413.85" y1="184" x2="417.05" y2="184" stroke="#7a5585" stroke-width="0.9" />
<line x1="413.85" y1="192.43" x2="417.05" y2="192.43" stroke="#7a5585" stroke-width="0.9" />
<line x1="420.5" y1="185.08" x2="420.5" y2="193.5" stroke="#7a5585" stroke-width="0.7" />
<line x1="418.9" y1="185.08" x2="422.1" y2="185.08" stroke="#7a5585" stroke-width="0.9" />
<line x1="418.9" y1="193.5" x2="422.1" y2="193.5" stroke="#7a5585" stroke-width="0.9" />
<line x1="425.55" y1="186.16" x2="425.55" y2="194.58" stroke="#7a5585" stroke-width="0.7" />
<line x1="423.95" y1="186.16" x2="427.15" y2="186.16" stroke="#7a5585" stroke-width="0.9" />
<line x1="423.95" y1="194.58" x2="427.15" y2="194.58" stroke="#7a5585" stroke-width="0.9" />
<line x1="430.6" y1="187.56" x2="430.6" y2="195.98" stroke="#7a5585" stroke-width="0.7" />
<line x1="429" y1="187.56" x2="432.2" y2="187.56" stroke="#7a5585" stroke-width="0.9" />
<line x1="429" y1="195.98" x2="432.2" y2="195.98" stroke="#7a5585" stroke-width="0.9" />
<line x1="435.65" y1="188.96" x2="435.65" y2="197.39" stroke="#7a5585" stroke-width="0.7" />
<line x1="434.05" y1="188.96" x2="437.25" y2="188.96" stroke="#7a5585" stroke-width="0.9" />
<line x1="434.05" y1="197.39" x2="437.25" y2="197.39" stroke="#7a5585" stroke-width="0.9" />
<line x1="440.7" y1="190.21" x2="440.7" y2="198.64" stroke="#7a5585" stroke-width="0.7" />
<line x1="439.1" y1="190.21" x2="442.3" y2="190.21" stroke="#7a5585" stroke-width="0.9" />
<line x1="439.1" y1="198.64" x2="442.3" y2="198.64" stroke="#7a5585" stroke-width="0.9" />
<line x1="445.75" y1="191.46" x2="445.75" y2="199.88" stroke="#7a5585" stroke-width="0.7" />
<line x1="444.15" y1="191.46" x2="447.35" y2="191.46" stroke="#7a5585" stroke-width="0.9" />
<line x1="444.15" y1="199.88" x2="447.35" y2="199.88" stroke="#7a5585" stroke-width="0.9" />
<line x1="450.8" y1="192.71" x2="450.8" y2="201.13" stroke="#7a5585" stroke-width="0.7" />
<line x1="449.2" y1="192.71" x2="452.4" y2="192.71" stroke="#7a5585" stroke-width="0.9" />
<line x1="449.2" y1="201.13" x2="452.4" y2="201.13" stroke="#7a5585" stroke-width="0.9" />
<line x1="455.85" y1="194.11" x2="455.85" y2="202.54" stroke="#7a5585" stroke-width="0.7" />
<line x1="454.25" y1="194.11" x2="457.45" y2="194.11" stroke="#7a5585" stroke-width="0.9" />
<line x1="454.25" y1="202.54" x2="457.45" y2="202.54" stroke="#7a5585" stroke-width="0.9" />
<line x1="460.9" y1="195.52" x2="460.9" y2="203.94" stroke="#7a5585" stroke-width="0.7" />
<line x1="459.3" y1="195.52" x2="462.5" y2="195.52" stroke="#7a5585" stroke-width="0.9" />
<line x1="459.3" y1="203.94" x2="462.5" y2="203.94" stroke="#7a5585" stroke-width="0.9" />
<line x1="465.95" y1="196.92" x2="465.95" y2="205.34" stroke="#7a5585" stroke-width="0.7" />
<line x1="464.35" y1="196.92" x2="467.55" y2="196.92" stroke="#7a5585" stroke-width="0.9" />
<line x1="464.35" y1="205.34" x2="467.55" y2="205.34" stroke="#7a5585" stroke-width="0.9" />
<line x1="471" y1="198.17" x2="471" y2="206.59" stroke="#7a5585" stroke-width="0.7" />
<line x1="469.4" y1="198.17" x2="472.6" y2="198.17" stroke="#7a5585" stroke-width="0.9" />
<line x1="469.4" y1="206.59" x2="472.6" y2="206.59" stroke="#7a5585" stroke-width="0.9" />
<line x1="476.05" y1="199.42" x2="476.05" y2="207.84" stroke="#7a5585" stroke-width="0.7" />
<line x1="474.45" y1="199.42" x2="477.65" y2="199.42" stroke="#7a5585" stroke-width="0.9" />
<line x1="474.45" y1="207.84" x2="477.65" y2="207.84" stroke="#7a5585" stroke-width="0.9" />
<line x1="481.1" y1="200.66" x2="481.1" y2="209.09" stroke="#7a5585" stroke-width="0.7" />
<line x1="479.5" y1="200.66" x2="482.7" y2="200.66" stroke="#7a5585" stroke-width="0.9" />
<line x1="479.5" y1="209.09" x2="482.7" y2="209.09" stroke="#7a5585" stroke-width="0.9" />
<line x1="486.15" y1="201.85" x2="486.15" y2="210.27" stroke="#7a5585" stroke-width="0.7" />
<line x1="484.55" y1="201.85" x2="487.75" y2="201.85" stroke="#7a5585" stroke-width="0.9" />
<line x1="484.55" y1="210.27" x2="487.75" y2="210.27" stroke="#7a5585" stroke-width="0.9" />
<line x1="491.2" y1="203.04" x2="491.2" y2="211.46" stroke="#7a5585" stroke-width="0.7" />
<line x1="489.6" y1="203.04" x2="492.8" y2="203.04" stroke="#7a5585" stroke-width="0.9" />
<line x1="489.6" y1="211.46" x2="492.8" y2="211.46" stroke="#7a5585" stroke-width="0.9" />
<line x1="496.25" y1="204.22" x2="496.25" y2="212.64" stroke="#7a5585" stroke-width="0.7" />
<line x1="494.65" y1="204.22" x2="497.85" y2="204.22" stroke="#7a5585" stroke-width="0.9" />
<line x1="494.65" y1="212.64" x2="497.85" y2="212.64" stroke="#7a5585" stroke-width="0.9" />
<line x1="501.3" y1="205.53" x2="501.3" y2="213.96" stroke="#7a5585" stroke-width="0.7" />
<line x1="499.7" y1="205.53" x2="502.9" y2="205.53" stroke="#7a5585" stroke-width="0.9" />
<line x1="499.7" y1="213.96" x2="502.9" y2="213.96" stroke="#7a5585" stroke-width="0.9" />
<line x1="506.35" y1="206.84" x2="506.35" y2="215.27" stroke="#7a5585" stroke-width="0.7" />
<line x1="504.75" y1="206.84" x2="507.95" y2="206.84" stroke="#7a5585" stroke-width="0.9" />
<line x1="504.75" y1="215.27" x2="507.95" y2="215.27" stroke="#7a5585" stroke-width="0.9" />
<line x1="511.4" y1="208.53" x2="511.4" y2="216.95" stroke="#7a5585" stroke-width="0.7" />
<line x1="509.8" y1="208.53" x2="513" y2="208.53" stroke="#7a5585" stroke-width="0.9" />
<line x1="509.8" y1="216.95" x2="513" y2="216.95" stroke="#7a5585" stroke-width="0.9" />
<line x1="516.45" y1="210.21" x2="516.45" y2="218.64" stroke="#7a5585" stroke-width="0.7" />
<line x1="514.85" y1="210.21" x2="518.05" y2="210.21" stroke="#7a5585" stroke-width="0.9" />
<line x1="514.85" y1="218.64" x2="518.05" y2="218.64" stroke="#7a5585" stroke-width="0.9" />
<polyline points="314.45,143.1 319.5,152.46 324.55,159.95 329.6,164.63 334.65,169.31 339.7,173.52 344.75,176.98 349.8,179.14 354.85,180.73 359.9,182.04 364.95,183.07 370,183.82 375.05,184.47 380.1,184.99 385.15,185.5 390.2,185.97 395.25,186.44 400.3,186.81 405.35,187.19 410.4,187.7 415.45,188.22 420.5,189.29 425.55,190.37 430.6,191.77 435.65,193.18 440.7,194.42 445.75,195.67 450.8,196.92 455.85,198.32 460.9,199.73 465.95,201.13 471,202.38 476.05,203.63 481.1,204.88 486.15,206.06 491.2,207.25 496.25,208.43 501.3,209.74 506.35,211.05 511.4,212.74 516.45,214.42" fill="none" stroke="#5b2d6b" stroke-width="0.9" />
<polygon points="314.45,145.26 312.38,141.48 316.52,141.48" fill="#5b2d6b" />
<polygon points="319.5,154.62 317.43,150.84 321.57,150.84" fill="#5b2d6b" />
<polygon points="324.55,162.11 322.48,158.33 326.62,158.33" fill="#5b2d6b" />
<polygon points="329.6,166.79 327.53,163.01 331.67,163.01" fill="#5b2d6b" />
<polygon points="334.65,171.47 332.58,167.69 336.72,167.69" fill="#5b2d6b" />
<polygon points="339.7,175.68 337.63,171.9 341.77,171.9" fill="#5b2d6b" />
<polygon points="344.75,179.14 342.68,175.36 346.82,175.36" fill="#5b2d6b" />
<polygon points="349.8,181.3 347.73,177.52 351.87,177.52" fill="#5b2d6b" />
<polygon points="354.85,182.89 352.78,179.11 356.92,179.11" fill="#5b2d6b" />
<polygon points="359.9,184.2 357.83,180.42 361.97,180.42" fill="#5b2d6b" />
<polygon points="364.95,185.23 362.88,181.45 367.02,181.45" fill="#5b2d6b" />
<polygon points="370,185.98 367.93,182.2 372.07,182.2" fill="#5b2d6b" />
<polygon points="375.05,186.63 372.98,182.85 377.12,182.85" fill="#5b2d6b" />
<polygon points="380.1,187.15 378.03,183.37 382.17,183.37" fill="#5b2d6b" />
<polygon points="385.15,187.66 383.08,183.88 387.22,183.88" fill="#5b2d6b" />
<polygon points="390.2,188.13 388.13,184.35 392.27,184.35" fill="#5b2d6b" />
<polygon points="395.25,188.6 393.18,184.82 397.32,184.82" fill="#5b2d6b" />
<polygon points="400.3,188.97 398.23,185.19 402.37,185.19" fill="#5b2d6b" />
<polygon points="405.35,189.35 403.28,185.57 407.42,185.57" fill="#5b2d6b" />
<polygon points="410.4,189.86 408.33,186.08 412.47,186.08" fill="#5b2d6b" />
<polygon points="415.45,190.38 413.38,186.6 417.52,186.6" fill="#5b2d6b" />
<polygon points="420.5,191.45 418.43,187.67 422.57,187.67" fill="#5b2d6b" />
<polygon points="425.55,192.53 423.48,188.75 427.62,188.75" fill="#5b2d6b" />
<polygon points="430.6,193.93 428.53,190.15 432.67,190.15" fill="#5b2d6b" />
<polygon points="435.65,195.34 433.58,191.56 437.72,191.56" fill="#5b2d6b" />
<polygon points="440.7,196.58 438.63,192.8 442.77,192.8" fill="#5b2d6b" />
<polygon points="445.75,197.83 443.68,194.05 447.82,194.05" fill="#5b2d6b" />
<polygon points="450.8,199.08 448.73,195.3 452.87,195.3" fill="#5b2d6b" />
<polygon points="455.85,200.48 453.78,196.7 457.92,196.7" fill="#5b2d6b" />
<polygon points="460.9,201.89 458.83,198.11 462.97,198.11" fill="#5b2d6b" />
<polygon points="465.95,203.29 463.88,199.51 468.02,199.51" fill="#5b2d6b" />
<polygon points="471,204.54 468.93,200.76 473.07,200.76" fill="#5b2d6b" />
<polygon points="476.05,205.79 473.98,202.01 478.12,202.01" fill="#5b2d6b" />
<polygon points="481.1,207.04 479.03,203.26 483.17,203.26" fill="#5b2d6b" />
<polygon points="486.15,208.22 484.08,204.44 488.22,204.44" fill="#5b2d6b" />
<polygon points="491.2,209.41 489.13,205.63 493.27,205.63" fill="#5b2d6b" />
<polygon points="496.25,210.59 494.18,206.81 498.32,206.81" fill="#5b2d6b" />
<polygon points="501.3,211.9 499.23,208.12 503.37,208.12" fill="#5b2d6b" />
<polygon points="506.35,213.21 504.28,209.43 508.42,209.43" fill="#5b2d6b" />
<polygon points="511.4,214.9 509.33,211.12 513.47,211.12" fill="#5b2d6b" />
<polygon points="516.45,216.58 514.38,212.8 518.52,212.8" fill="#5b2d6b" />
<line x1="319.5" y1="151.62" x2="319.5" y2="153.86" stroke="#d0607a" stroke-width="0.7" />
<line x1="317.9" y1="151.62" x2="321.1" y2="151.62" stroke="#d0607a" stroke-width="0.9" />
<line x1="317.9" y1="153.86" x2="321.1" y2="153.86" stroke="#d0607a" stroke-width="0.9" />
<line x1="324.55" y1="160.04" x2="324.55" y2="162.29" stroke="#d0607a" stroke-width="0.7" />
<line x1="322.95" y1="160.04" x2="326.15" y2="160.04" stroke="#d0607a" stroke-width="0.9" />
<line x1="322.95" y1="162.29" x2="326.15" y2="162.29" stroke="#d0607a" stroke-width="0.9" />
<line x1="329.6" y1="167.44" x2="329.6" y2="169.68" stroke="#d0607a" stroke-width="0.7" />
<line x1="328" y1="167.44" x2="331.2" y2="167.44" stroke="#d0607a" stroke-width="0.9" />
<line x1="328" y1="169.68" x2="331.2" y2="169.68" stroke="#d0607a" stroke-width="0.9" />
<line x1="334.65" y1="172.68" x2="334.65" y2="174.92" stroke="#d0607a" stroke-width="0.7" />
<line x1="333.05" y1="172.68" x2="336.25" y2="172.68" stroke="#d0607a" stroke-width="0.9" />
<line x1="333.05" y1="174.92" x2="336.25" y2="174.92" stroke="#d0607a" stroke-width="0.9" />
<line x1="339.7" y1="178.48" x2="339.7" y2="180.73" stroke="#d0607a" stroke-width="0.7" />
<line x1="338.1" y1="178.48" x2="341.3" y2="178.48" stroke="#d0607a" stroke-width="0.9" />
<line x1="338.1" y1="180.73" x2="341.3" y2="180.73" stroke="#d0607a" stroke-width="0.9" />
<line x1="344.75" y1="183.16" x2="344.75" y2="185.41" stroke="#d0607a" stroke-width="0.7" />
<line x1="343.15" y1="183.16" x2="346.35" y2="183.16" stroke="#d0607a" stroke-width="0.9" />
<line x1="343.15" y1="185.41" x2="346.35" y2="185.41" stroke="#d0607a" stroke-width="0.9" />
<line x1="349.8" y1="187.37" x2="349.8" y2="189.62" stroke="#d0607a" stroke-width="0.7" />
<line x1="348.2" y1="187.37" x2="351.4" y2="187.37" stroke="#d0607a" stroke-width="0.9" />
<line x1="348.2" y1="189.62" x2="351.4" y2="189.62" stroke="#d0607a" stroke-width="0.9" />
<line x1="354.85" y1="190.84" x2="354.85" y2="193.08" stroke="#d0607a" stroke-width="0.7" />
<line x1="353.25" y1="190.84" x2="356.45" y2="190.84" stroke="#d0607a" stroke-width="0.9" />
<line x1="353.25" y1="193.08" x2="356.45" y2="193.08" stroke="#d0607a" stroke-width="0.9" />
<line x1="359.9" y1="193.83" x2="359.9" y2="196.08" stroke="#d0607a" stroke-width="0.7" />
<line x1="358.3" y1="193.83" x2="361.5" y2="193.83" stroke="#d0607a" stroke-width="0.9" />
<line x1="358.3" y1="196.08" x2="361.5" y2="196.08" stroke="#d0607a" stroke-width="0.9" />
<line x1="364.95" y1="195.8" x2="364.95" y2="198.04" stroke="#d0607a" stroke-width="0.7" />
<line x1="363.35" y1="195.8" x2="366.55" y2="195.8" stroke="#d0607a" stroke-width="0.9" />
<line x1="363.35" y1="198.04" x2="366.55" y2="198.04" stroke="#d0607a" stroke-width="0.9" />
<line x1="370" y1="197.2" x2="370" y2="199.45" stroke="#d0607a" stroke-width="0.7" />
<line x1="368.4" y1="197.2" x2="371.6" y2="197.2" stroke="#d0607a" stroke-width="0.9" />
<line x1="368.4" y1="199.45" x2="371.6" y2="199.45" stroke="#d0607a" stroke-width="0.9" />
<line x1="375.05" y1="198.51" x2="375.05" y2="200.76" stroke="#d0607a" stroke-width="0.7" />
<line x1="373.45" y1="198.51" x2="376.65" y2="198.51" stroke="#d0607a" stroke-width="0.9" />
<line x1="373.45" y1="200.76" x2="376.65" y2="200.76" stroke="#d0607a" stroke-width="0.9" />
<line x1="380.1" y1="199.45" x2="380.1" y2="201.69" stroke="#d0607a" stroke-width="0.7" />
<line x1="378.5" y1="199.45" x2="381.7" y2="199.45" stroke="#d0607a" stroke-width="0.9" />
<line x1="378.5" y1="201.69" x2="381.7" y2="201.69" stroke="#d0607a" stroke-width="0.9" />
<line x1="385.15" y1="200.2" x2="385.15" y2="202.44" stroke="#d0607a" stroke-width="0.7" />
<line x1="383.55" y1="200.2" x2="386.75" y2="200.2" stroke="#d0607a" stroke-width="0.9" />
<line x1="383.55" y1="202.44" x2="386.75" y2="202.44" stroke="#d0607a" stroke-width="0.9" />
<line x1="390.2" y1="200.76" x2="390.2" y2="203" stroke="#d0607a" stroke-width="0.7" />
<line x1="388.6" y1="200.76" x2="391.8" y2="200.76" stroke="#d0607a" stroke-width="0.9" />
<line x1="388.6" y1="203" x2="391.8" y2="203" stroke="#d0607a" stroke-width="0.9" />
<line x1="395.25" y1="201.13" x2="395.25" y2="203.38" stroke="#d0607a" stroke-width="0.7" />
<line x1="393.65" y1="201.13" x2="396.85" y2="201.13" stroke="#d0607a" stroke-width="0.9" />
<line x1="393.65" y1="203.38" x2="396.85" y2="203.38" stroke="#d0607a" stroke-width="0.9" />
<line x1="400.3" y1="201.41" x2="400.3" y2="203.66" stroke="#d0607a" stroke-width="0.7" />
<line x1="398.7" y1="201.41" x2="401.9" y2="201.41" stroke="#d0607a" stroke-width="0.9" />
<line x1="398.7" y1="203.66" x2="401.9" y2="203.66" stroke="#d0607a" stroke-width="0.9" />
<line x1="405.35" y1="201.6" x2="405.35" y2="203.85" stroke="#d0607a" stroke-width="0.7" />
<line x1="403.75" y1="201.6" x2="406.95" y2="201.6" stroke="#d0607a" stroke-width="0.9" />
<line x1="403.75" y1="203.85" x2="406.95" y2="203.85" stroke="#d0607a" stroke-width="0.9" />
<line x1="410.4" y1="201.69" x2="410.4" y2="203.94" stroke="#d0607a" stroke-width="0.7" />
<line x1="408.8" y1="201.69" x2="412" y2="201.69" stroke="#d0607a" stroke-width="0.9" />
<line x1="408.8" y1="203.94" x2="412" y2="203.94" stroke="#d0607a" stroke-width="0.9" />
<line x1="415.45" y1="201.6" x2="415.45" y2="203.85" stroke="#d0607a" stroke-width="0.7" />
<line x1="413.85" y1="201.6" x2="417.05" y2="201.6" stroke="#d0607a" stroke-width="0.9" />
<line x1="413.85" y1="203.85" x2="417.05" y2="203.85" stroke="#d0607a" stroke-width="0.9" />
<line x1="420.5" y1="201.69" x2="420.5" y2="203.94" stroke="#d0607a" stroke-width="0.7" />
<line x1="418.9" y1="201.69" x2="422.1" y2="201.69" stroke="#d0607a" stroke-width="0.9" />
<line x1="418.9" y1="203.94" x2="422.1" y2="203.94" stroke="#d0607a" stroke-width="0.9" />
<line x1="425.55" y1="199.92" x2="425.55" y2="202.16" stroke="#d0607a" stroke-width="0.7" />
<line x1="423.95" y1="199.92" x2="427.15" y2="199.92" stroke="#d0607a" stroke-width="0.9" />
<line x1="423.95" y1="202.16" x2="427.15" y2="202.16" stroke="#d0607a" stroke-width="0.9" />
<line x1="430.6" y1="200.01" x2="430.6" y2="202.26" stroke="#d0607a" stroke-width="0.7" />
<line x1="429" y1="200.01" x2="432.2" y2="200.01" stroke="#d0607a" stroke-width="0.9" />
<line x1="429" y1="202.26" x2="432.2" y2="202.26" stroke="#d0607a" stroke-width="0.9" />
<line x1="435.65" y1="200.13" x2="435.65" y2="202.38" stroke="#d0607a" stroke-width="0.7" />
<line x1="434.05" y1="200.13" x2="437.25" y2="200.13" stroke="#d0607a" stroke-width="0.9" />
<line x1="434.05" y1="202.38" x2="437.25" y2="202.38" stroke="#d0607a" stroke-width="0.9" />
<line x1="440.7" y1="200.26" x2="440.7" y2="202.5" stroke="#d0607a" stroke-width="0.7" />
<line x1="439.1" y1="200.26" x2="442.3" y2="200.26" stroke="#d0607a" stroke-width="0.9" />
<line x1="439.1" y1="202.5" x2="442.3" y2="202.5" stroke="#d0607a" stroke-width="0.9" />
<line x1="445.75" y1="200.24" x2="445.75" y2="202.77" stroke="#d0607a" stroke-width="0.7" />
<line x1="444.15" y1="200.24" x2="447.35" y2="200.24" stroke="#d0607a" stroke-width="0.9" />
<line x1="444.15" y1="202.77" x2="447.35" y2="202.77" stroke="#d0607a" stroke-width="0.9" />
<line x1="450.8" y1="199.73" x2="450.8" y2="202.54" stroke="#d0607a" stroke-width="0.7" />
<line x1="449.2" y1="199.73" x2="452.4" y2="199.73" stroke="#d0607a" stroke-width="0.9" />
<line x1="449.2" y1="202.54" x2="452.4" y2="202.54" stroke="#d0607a" stroke-width="0.9" />
<line x1="455.85" y1="199.31" x2="455.85" y2="202.4" stroke="#d0607a" stroke-width="0.7" />
<line x1="454.25" y1="199.31" x2="457.45" y2="199.31" stroke="#d0607a" stroke-width="0.9" />
<line x1="454.25" y1="202.4" x2="457.45" y2="202.4" stroke="#d0607a" stroke-width="0.9" />
<line x1="460.9" y1="198.7" x2="460.9" y2="202.07" stroke="#d0607a" stroke-width="0.7" />
<line x1="459.3" y1="198.7" x2="462.5" y2="198.7" stroke="#d0607a" stroke-width="0.9" />
<line x1="459.3" y1="202.07" x2="462.5" y2="202.07" stroke="#d0607a" stroke-width="0.9" />
<line x1="465.95" y1="198.09" x2="465.95" y2="201.74" stroke="#d0607a" stroke-width="0.7" />
<line x1="464.35" y1="198.09" x2="467.55" y2="198.09" stroke="#d0607a" stroke-width="0.9" />
<line x1="464.35" y1="201.74" x2="467.55" y2="201.74" stroke="#d0607a" stroke-width="0.9" />
<line x1="471" y1="197.58" x2="471" y2="201.51" stroke="#d0607a" stroke-width="0.7" />
<line x1="469.4" y1="197.58" x2="472.6" y2="197.58" stroke="#d0607a" stroke-width="0.9" />
<line x1="469.4" y1="201.51" x2="472.6" y2="201.51" stroke="#d0607a" stroke-width="0.9" />
<line x1="476.05" y1="196.78" x2="476.05" y2="200.99" stroke="#d0607a" stroke-width="0.7" />
<line x1="474.45" y1="196.78" x2="477.65" y2="196.78" stroke="#d0607a" stroke-width="0.9" />
<line x1="474.45" y1="200.99" x2="477.65" y2="200.99" stroke="#d0607a" stroke-width="0.9" />
<line x1="481.1" y1="196.36" x2="481.1" y2="200.85" stroke="#d0607a" stroke-width="0.7" />
<line x1="479.5" y1="196.36" x2="482.7" y2="196.36" stroke="#d0607a" stroke-width="0.9" />
<line x1="479.5" y1="200.85" x2="482.7" y2="200.85" stroke="#d0607a" stroke-width="0.9" />
<line x1="486.15" y1="195.94" x2="486.15" y2="200.71" stroke="#d0607a" stroke-width="0.7" />
<line x1="484.55" y1="195.94" x2="487.75" y2="195.94" stroke="#d0607a" stroke-width="0.9" />
<line x1="484.55" y1="200.71" x2="487.75" y2="200.71" stroke="#d0607a" stroke-width="0.9" />
<line x1="491.2" y1="195.56" x2="491.2" y2="200.62" stroke="#d0607a" stroke-width="0.7" />
<line x1="489.6" y1="195.56" x2="492.8" y2="195.56" stroke="#d0607a" stroke-width="0.9" />
<line x1="489.6" y1="200.62" x2="492.8" y2="200.62" stroke="#d0607a" stroke-width="0.9" />
<line x1="496.25" y1="195.19" x2="496.25" y2="200.52" stroke="#d0607a" stroke-width="0.7" />
<line x1="494.65" y1="195.19" x2="497.85" y2="195.19" stroke="#d0607a" stroke-width="0.9" />
<line x1="494.65" y1="200.52" x2="497.85" y2="200.52" stroke="#d0607a" stroke-width="0.9" />
<line x1="501.3" y1="195.05" x2="501.3" y2="200.66" stroke="#d0607a" stroke-width="0.7" />
<line x1="499.7" y1="195.05" x2="502.9" y2="195.05" stroke="#d0607a" stroke-width="0.9" />
<line x1="499.7" y1="200.66" x2="502.9" y2="200.66" stroke="#d0607a" stroke-width="0.9" />
<line x1="506.35" y1="194.91" x2="506.35" y2="200.8" stroke="#d0607a" stroke-width="0.7" />
<line x1="504.75" y1="194.91" x2="507.95" y2="194.91" stroke="#d0607a" stroke-width="0.9" />
<line x1="504.75" y1="200.8" x2="507.95" y2="200.8" stroke="#d0607a" stroke-width="0.9" />
<line x1="511.4" y1="194.95" x2="511.4" y2="201.13" stroke="#d0607a" stroke-width="0.7" />
<line x1="509.8" y1="194.95" x2="513" y2="194.95" stroke="#d0607a" stroke-width="0.9" />
<line x1="509.8" y1="201.13" x2="513" y2="201.13" stroke="#d0607a" stroke-width="0.9" />
<line x1="516.45" y1="195" x2="516.45" y2="201.46" stroke="#d0607a" stroke-width="0.7" />
<line x1="514.85" y1="195" x2="518.05" y2="195" stroke="#d0607a" stroke-width="0.9" />
<line x1="514.85" y1="201.46" x2="518.05" y2="201.46" stroke="#d0607a" stroke-width="0.9" />
<polyline points="314.45,143.1 319.5,152.74 324.55,161.16 329.6,168.56 334.65,173.8 339.7,179.6 344.75,184.28 349.8,188.5 354.85,191.96 359.9,194.95 364.95,196.92 370,198.32 375.05,199.63 380.1,200.57 385.15,201.32 390.2,201.88 395.25,202.26 400.3,202.54 405.35,202.72 410.4,202.82 415.45,202.72 420.5,202.82 425.55,201.04 430.6,201.13 435.65,201.26 440.7,201.38 445.75,201.51 450.8,201.13 455.85,200.85 460.9,200.38 465.95,199.92 471,199.54 476.05,198.89 481.1,198.6 486.15,198.32 491.2,198.09 496.25,197.86 501.3,197.86 506.35,197.86 511.4,198.04 516.45,198.23" fill="none" stroke="#b3163e" stroke-width="0.9" />
<rect x="312.45" y="141.1" width="4" height="4" fill="#b3163e"/>
<rect x="317.5" y="150.74" width="4" height="4" fill="#b3163e"/>
<rect x="322.55" y="159.16" width="4" height="4" fill="#b3163e"/>
<rect x="327.6" y="166.56" width="4" height="4" fill="#b3163e"/>
<rect x="332.65" y="171.8" width="4" height="4" fill="#b3163e"/>
<rect x="337.7" y="177.6" width="4" height="4" fill="#b3163e"/>
<rect x="342.75" y="182.28" width="4" height="4" fill="#b3163e"/>
<rect x="347.8" y="186.5" width="4" height="4" fill="#b3163e"/>
<rect x="352.85" y="189.96" width="4" height="4" fill="#b3163e"/>
<rect x="357.9" y="192.95" width="4" height="4" fill="#b3163e"/>
<rect x="362.95" y="194.92" width="4" height="4" fill="#b3163e"/>
<rect x="368" y="196.32" width="4" height="4" fill="#b3163e"/>
<rect x="373.05" y="197.63" width="4" height="4" fill="#b3163e"/>
<rect x="378.1" y="198.57" width="4" height="4" fill="#b3163e"/>
<rect x="383.15" y="199.32" width="4" height="4" fill="#b3163e"/>
<rect x="388.2" y="199.88" width="4" height="4" fill="#b3163e"/>
<rect x="393.25" y="200.26" width="4" height="4" fill="#b3163e"/>
<rect x="398.3" y="200.54" width="4" height="4" fill="#b3163e"/>
<rect x="403.35" y="200.72" width="4" height="4" fill="#b3163e"/>
<rect x="408.4" y="200.82" width="4" height="4" fill="#b3163e"/>
<rect x="413.45" y="200.72" width="4" height="4" fill="#b3163e"/>
<rect x="418.5" y="200.82" width="4" height="4" fill="#b3163e"/>
<rect x="423.55" y="199.04" width="4" height="4" fill="#b3163e"/>
<rect x="428.6" y="199.13" width="4" height="4" fill="#b3163e"/>
<rect x="433.65" y="199.26" width="4" height="4" fill="#b3163e"/>
<rect x="438.7" y="199.38" width="4" height="4" fill="#b3163e"/>
<rect x="443.75" y="199.51" width="4" height="4" fill="#b3163e"/>
<rect x="448.8" y="199.13" width="4" height="4" fill="#b3163e"/>
<rect x="453.85" y="198.85" width="4" height="4" fill="#b3163e"/>
<rect x="458.9" y="198.38" width="4" height="4" fill="#b3163e"/>
<rect x="463.95" y="197.92" width="4" height="4" fill="#b3163e"/>
<rect x="469" y="197.54" width="4" height="4" fill="#b3163e"/>
<rect x="474.05" y="196.89" width="4" height="4" fill="#b3163e"/>
<rect x="479.1" y="196.6" width="4" height="4" fill="#b3163e"/>
<rect x="484.15" y="196.32" width="4" height="4" fill="#b3163e"/>
<rect x="489.2" y="196.09" width="4" height="4" fill="#b3163e"/>
<rect x="494.25" y="195.86" width="4" height="4" fill="#b3163e"/>
<rect x="499.3" y="195.86" width="4" height="4" fill="#b3163e"/>
<rect x="504.35" y="195.86" width="4" height="4" fill="#b3163e"/>
<rect x="509.4" y="196.04" width="4" height="4" fill="#b3163e"/>
<rect x="514.45" y="196.23" width="4" height="4" fill="#b3163e"/>
<line x1="319.5" y1="143.57" x2="319.5" y2="150.12" stroke="#8ed498" stroke-width="0.7" />
<line x1="317.9" y1="143.57" x2="321.1" y2="143.57" stroke="#5aa868" stroke-width="0.9" />
<line x1="317.9" y1="150.12" x2="321.1" y2="150.12" stroke="#5aa868" stroke-width="0.9" />
<line x1="324.55" y1="146.94" x2="324.55" y2="153.49" stroke="#8ed498" stroke-width="0.7" />
<line x1="322.95" y1="146.94" x2="326.15" y2="146.94" stroke="#5aa868" stroke-width="0.9" />
<line x1="322.95" y1="153.49" x2="326.15" y2="153.49" stroke="#5aa868" stroke-width="0.9" />
<line x1="329.6" y1="149.37" x2="329.6" y2="155.92" stroke="#8ed498" stroke-width="0.7" />
<line x1="328" y1="149.37" x2="331.2" y2="149.37" stroke="#5aa868" stroke-width="0.9" />
<line x1="328" y1="155.92" x2="331.2" y2="155.92" stroke="#5aa868" stroke-width="0.9" />
<line x1="334.65" y1="151.24" x2="334.65" y2="157.8" stroke="#8ed498" stroke-width="0.7" />
<line x1="333.05" y1="151.24" x2="336.25" y2="151.24" stroke="#5aa868" stroke-width="0.9" />
<line x1="333.05" y1="157.8" x2="336.25" y2="157.8" stroke="#5aa868" stroke-width="0.9" />
<line x1="339.7" y1="152.55" x2="339.7" y2="159.11" stroke="#8ed498" stroke-width="0.7" />
<line x1="338.1" y1="152.55" x2="341.3" y2="152.55" stroke="#5aa868" stroke-width="0.9" />
<line x1="338.1" y1="159.11" x2="341.3" y2="159.11" stroke="#5aa868" stroke-width="0.9" />
<line x1="344.75" y1="153.02" x2="344.75" y2="159.57" stroke="#8ed498" stroke-width="0.7" />
<line x1="343.15" y1="153.02" x2="346.35" y2="153.02" stroke="#5aa868" stroke-width="0.9" />
<line x1="343.15" y1="159.57" x2="346.35" y2="159.57" stroke="#5aa868" stroke-width="0.9" />
<line x1="349.8" y1="153.68" x2="349.8" y2="160.23" stroke="#8ed498" stroke-width="0.7" />
<line x1="348.2" y1="153.68" x2="351.4" y2="153.68" stroke="#5aa868" stroke-width="0.9" />
<line x1="348.2" y1="160.23" x2="351.4" y2="160.23" stroke="#5aa868" stroke-width="0.9" />
<line x1="354.85" y1="154.33" x2="354.85" y2="160.88" stroke="#8ed498" stroke-width="0.7" />
<line x1="353.25" y1="154.33" x2="356.45" y2="154.33" stroke="#5aa868" stroke-width="0.9" />
<line x1="353.25" y1="160.88" x2="356.45" y2="160.88" stroke="#5aa868" stroke-width="0.9" />
<line x1="359.9" y1="154.61" x2="359.9" y2="161.16" stroke="#8ed498" stroke-width="0.7" />
<line x1="358.3" y1="154.61" x2="361.5" y2="154.61" stroke="#5aa868" stroke-width="0.9" />
<line x1="358.3" y1="161.16" x2="361.5" y2="161.16" stroke="#5aa868" stroke-width="0.9" />
<line x1="364.95" y1="154.61" x2="364.95" y2="161.16" stroke="#8ed498" stroke-width="0.7" />
<line x1="363.35" y1="154.61" x2="366.55" y2="154.61" stroke="#5aa868" stroke-width="0.9" />
<line x1="363.35" y1="161.16" x2="366.55" y2="161.16" stroke="#5aa868" stroke-width="0.9" />
<line x1="370" y1="154.24" x2="370" y2="160.79" stroke="#8ed498" stroke-width="0.7" />
<line x1="368.4" y1="154.24" x2="371.6" y2="154.24" stroke="#5aa868" stroke-width="0.9" />
<line x1="368.4" y1="160.79" x2="371.6" y2="160.79" stroke="#5aa868" stroke-width="0.9" />
<line x1="375.05" y1="153.68" x2="375.05" y2="160.23" stroke="#8ed498" stroke-width="0.7" />
<line x1="373.45" y1="153.68" x2="376.65" y2="153.68" stroke="#5aa868" stroke-width="0.9" />
<line x1="373.45" y1="160.23" x2="376.65" y2="160.23" stroke="#5aa868" stroke-width="0.9" />
<line x1="380.1" y1="152.93" x2="380.1" y2="159.48" stroke="#8ed498" stroke-width="0.7" />
<line x1="378.5" y1="152.93" x2="381.7" y2="152.93" stroke="#5aa868" stroke-width="0.9" />
<line x1="378.5" y1="159.48" x2="381.7" y2="159.48" stroke="#5aa868" stroke-width="0.9" />
<line x1="385.15" y1="151.99" x2="385.15" y2="158.54" stroke="#8ed498" stroke-width="0.7" />
<line x1="383.55" y1="151.99" x2="386.75" y2="151.99" stroke="#5aa868" stroke-width="0.9" />
<line x1="383.55" y1="158.54" x2="386.75" y2="158.54" stroke="#5aa868" stroke-width="0.9" />
<line x1="390.2" y1="151.06" x2="390.2" y2="157.61" stroke="#8ed498" stroke-width="0.7" />
<line x1="388.6" y1="151.06" x2="391.8" y2="151.06" stroke="#5aa868" stroke-width="0.9" />
<line x1="388.6" y1="157.61" x2="391.8" y2="157.61" stroke="#5aa868" stroke-width="0.9" />
<line x1="395.25" y1="149.02" x2="395.25" y2="155.9" stroke="#8ed498" stroke-width="0.7" />
<line x1="393.65" y1="149.02" x2="396.85" y2="149.02" stroke="#5aa868" stroke-width="0.9" />
<line x1="393.65" y1="155.9" x2="396.85" y2="155.9" stroke="#5aa868" stroke-width="0.9" />
<line x1="400.3" y1="146.6" x2="400.3" y2="153.83" stroke="#8ed498" stroke-width="0.7" />
<line x1="398.7" y1="146.6" x2="401.9" y2="146.6" stroke="#5aa868" stroke-width="0.9" />
<line x1="398.7" y1="153.83" x2="401.9" y2="153.83" stroke="#5aa868" stroke-width="0.9" />
<line x1="405.35" y1="144.93" x2="405.35" y2="152.5" stroke="#8ed498" stroke-width="0.7" />
<line x1="403.75" y1="144.93" x2="406.95" y2="144.93" stroke="#5aa868" stroke-width="0.9" />
<line x1="403.75" y1="152.5" x2="406.95" y2="152.5" stroke="#5aa868" stroke-width="0.9" />
<line x1="410.4" y1="142.89" x2="410.4" y2="150.79" stroke="#8ed498" stroke-width="0.7" />
<line x1="408.8" y1="142.89" x2="412" y2="142.89" stroke="#5aa868" stroke-width="0.9" />
<line x1="408.8" y1="150.79" x2="412" y2="150.79" stroke="#5aa868" stroke-width="0.9" />
<line x1="415.45" y1="140.39" x2="415.45" y2="148.62" stroke="#8ed498" stroke-width="0.7" />
<line x1="413.85" y1="140.39" x2="417.05" y2="140.39" stroke="#5aa868" stroke-width="0.9" />
<line x1="413.85" y1="148.62" x2="417.05" y2="148.62" stroke="#5aa868" stroke-width="0.9" />
<line x1="420.5" y1="137.5" x2="420.5" y2="146.08" stroke="#8ed498" stroke-width="0.7" />
<line x1="418.9" y1="137.5" x2="422.1" y2="137.5" stroke="#5aa868" stroke-width="0.9" />
<line x1="418.9" y1="146.08" x2="422.1" y2="146.08" stroke="#5aa868" stroke-width="0.9" />
<line x1="425.55" y1="135.28" x2="425.55" y2="144.19" stroke="#8ed498" stroke-width="0.7" />
<line x1="423.95" y1="135.28" x2="427.15" y2="135.28" stroke="#5aa868" stroke-width="0.9" />
<line x1="423.95" y1="144.19" x2="427.15" y2="144.19" stroke="#5aa868" stroke-width="0.9" />
<line x1="430.6" y1="133.05" x2="430.6" y2="142.3" stroke="#8ed498" stroke-width="0.7" />
<line x1="429" y1="133.05" x2="432.2" y2="133.05" stroke="#5aa868" stroke-width="0.9" />
<line x1="429" y1="142.3" x2="432.2" y2="142.3" stroke="#5aa868" stroke-width="0.9" />
<line x1="435.65" y1="130.45" x2="435.65" y2="140.03" stroke="#8ed498" stroke-width="0.7" />
<line x1="434.05" y1="130.45" x2="437.25" y2="130.45" stroke="#5aa868" stroke-width="0.9" />
<line x1="434.05" y1="140.03" x2="437.25" y2="140.03" stroke="#5aa868" stroke-width="0.9" />
<line x1="440.7" y1="127.94" x2="440.7" y2="137.86" stroke="#8ed498" stroke-width="0.7" />
<line x1="439.1" y1="127.94" x2="442.3" y2="127.94" stroke="#5aa868" stroke-width="0.9" />
<line x1="439.1" y1="137.86" x2="442.3" y2="137.86" stroke="#5aa868" stroke-width="0.9" />
<line x1="445.75" y1="124.96" x2="445.75" y2="135.22" stroke="#8ed498" stroke-width="0.7" />
<line x1="444.15" y1="124.96" x2="447.35" y2="124.96" stroke="#5aa868" stroke-width="0.9" />
<line x1="444.15" y1="135.22" x2="447.35" y2="135.22" stroke="#5aa868" stroke-width="0.9" />
<line x1="450.8" y1="121.98" x2="450.8" y2="132.58" stroke="#8ed498" stroke-width="0.7" />
<line x1="449.2" y1="121.98" x2="452.4" y2="121.98" stroke="#5aa868" stroke-width="0.9" />
<line x1="449.2" y1="132.58" x2="452.4" y2="132.58" stroke="#5aa868" stroke-width="0.9" />
<line x1="455.85" y1="118.91" x2="455.85" y2="129.85" stroke="#8ed498" stroke-width="0.7" />
<line x1="454.25" y1="118.91" x2="457.45" y2="118.91" stroke="#5aa868" stroke-width="0.9" />
<line x1="454.25" y1="129.85" x2="457.45" y2="129.85" stroke="#5aa868" stroke-width="0.9" />
<line x1="460.9" y1="115.94" x2="460.9" y2="127.21" stroke="#8ed498" stroke-width="0.7" />
<line x1="459.3" y1="115.94" x2="462.5" y2="115.94" stroke="#5aa868" stroke-width="0.9" />
<line x1="459.3" y1="127.21" x2="462.5" y2="127.21" stroke="#5aa868" stroke-width="0.9" />
<line x1="465.95" y1="113.71" x2="465.95" y2="125.32" stroke="#8ed498" stroke-width="0.7" />
<line x1="464.35" y1="113.71" x2="467.55" y2="113.71" stroke="#5aa868" stroke-width="0.9" />
<line x1="464.35" y1="125.32" x2="467.55" y2="125.32" stroke="#5aa868" stroke-width="0.9" />
<line x1="471" y1="111.39" x2="471" y2="123.33" stroke="#8ed498" stroke-width="0.7" />
<line x1="469.4" y1="111.39" x2="472.6" y2="111.39" stroke="#5aa868" stroke-width="0.9" />
<line x1="469.4" y1="123.33" x2="472.6" y2="123.33" stroke="#5aa868" stroke-width="0.9" />
<line x1="476.05" y1="109.16" x2="476.05" y2="121.44" stroke="#8ed498" stroke-width="0.7" />
<line x1="474.45" y1="109.16" x2="477.65" y2="109.16" stroke="#5aa868" stroke-width="0.9" />
<line x1="474.45" y1="121.44" x2="477.65" y2="121.44" stroke="#5aa868" stroke-width="0.9" />
<line x1="481.1" y1="106.93" x2="481.1" y2="119.55" stroke="#8ed498" stroke-width="0.7" />
<line x1="479.5" y1="106.93" x2="482.7" y2="106.93" stroke="#5aa868" stroke-width="0.9" />
<line x1="479.5" y1="119.55" x2="482.7" y2="119.55" stroke="#5aa868" stroke-width="0.9" />
<line x1="486.15" y1="104.14" x2="486.15" y2="117.1" stroke="#8ed498" stroke-width="0.7" />
<line x1="484.55" y1="104.14" x2="487.75" y2="104.14" stroke="#5aa868" stroke-width="0.9" />
<line x1="484.55" y1="117.1" x2="487.75" y2="117.1" stroke="#5aa868" stroke-width="0.9" />
<line x1="491.2" y1="101.35" x2="491.2" y2="114.65" stroke="#8ed498" stroke-width="0.7" />
<line x1="489.6" y1="101.35" x2="492.8" y2="101.35" stroke="#5aa868" stroke-width="0.9" />
<line x1="489.6" y1="114.65" x2="492.8" y2="114.65" stroke="#5aa868" stroke-width="0.9" />
<line x1="496.25" y1="100.16" x2="496.25" y2="113.78" stroke="#8ed498" stroke-width="0.7" />
<line x1="494.65" y1="100.16" x2="497.85" y2="100.16" stroke="#5aa868" stroke-width="0.9" />
<line x1="494.65" y1="113.78" x2="497.85" y2="113.78" stroke="#5aa868" stroke-width="0.9" />
<line x1="501.3" y1="98.86" x2="501.3" y2="112.83" stroke="#8ed498" stroke-width="0.7" />
<line x1="499.7" y1="98.86" x2="502.9" y2="98.86" stroke="#5aa868" stroke-width="0.9" />
<line x1="499.7" y1="112.83" x2="502.9" y2="112.83" stroke="#5aa868" stroke-width="0.9" />
<line x1="506.35" y1="97.1" x2="506.35" y2="111.41" stroke="#8ed498" stroke-width="0.7" />
<line x1="504.75" y1="97.1" x2="507.95" y2="97.1" stroke="#5aa868" stroke-width="0.9" />
<line x1="504.75" y1="111.41" x2="507.95" y2="111.41" stroke="#5aa868" stroke-width="0.9" />
<line x1="511.4" y1="95.35" x2="511.4" y2="109.98" stroke="#8ed498" stroke-width="0.7" />
<line x1="509.8" y1="95.35" x2="513" y2="95.35" stroke="#5aa868" stroke-width="0.9" />
<line x1="509.8" y1="109.98" x2="513" y2="109.98" stroke="#5aa868" stroke-width="0.9" />
<line x1="516.45" y1="93.77" x2="516.45" y2="108.75" stroke="#8ed498" stroke-width="0.7" />
<line x1="514.85" y1="93.77" x2="518.05" y2="93.77" stroke="#5aa868" stroke-width="0.9" />
<line x1="514.85" y1="108.75" x2="518.05" y2="108.75" stroke="#5aa868" stroke-width="0.9" />
<polyline points="314.45,143.1 319.5,146.84 324.55,150.21 329.6,152.65 334.65,154.52 339.7,155.83 344.75,156.3 349.8,156.95 354.85,157.61 359.9,157.89 364.95,157.89 370,157.51 375.05,156.95 380.1,156.2 385.15,155.27 390.2,154.33 395.25,152.46 400.3,150.21 405.35,148.72 410.4,146.84 415.45,144.5 420.5,141.79 425.55,139.73 430.6,137.67 435.65,135.24 440.7,132.9 445.75,130.09 450.8,127.28 455.85,124.38 460.9,121.57 465.95,119.51 471,117.36 476.05,115.3 481.1,113.24 486.15,110.62 491.2,108 496.25,106.97 501.3,105.85 506.35,104.26 511.4,102.66 516.45,101.26" fill="none" stroke="#3aa64a" stroke-width="0.9" />
<circle cx="314.45" cy="143.1" r="2" fill="#3aa64a"/>
<circle cx="319.5" cy="146.84" r="2" fill="#3aa64a"/>
<circle cx="324.55" cy="150.21" r="2" fill="#3aa64a"/>
<circle cx="329.6" cy="152.65" r="2" fill="#3aa64a"/>
<circle cx="334.65" cy="154.52" r="2" fill="#3aa64a"/>
<circle cx="339.7" cy="155.83" r="2" fill="#3aa64a"/>
<circle cx="344.75" cy="156.3" r="2" fill="#3aa64a"/>
<circle cx="349.8" cy="156.95" r="2" fill="#3aa64a"/>
<circle cx="354.85" cy="157.61" r="2" fill="#3aa64a"/>
<circle cx="359.9" cy="157.89" r="2" fill="#3aa64a"/>
<circle cx="364.95" cy="157.89" r="2" fill="#3aa64a"/>
<circle cx="370" cy="157.51" r="2" fill="#3aa64a"/>
<circle cx="375.05" cy="156.95" r="2" fill="#3aa64a"/>
<circle cx="380.1" cy="156.2" r="2" fill="#3aa64a"/>
<circle cx="385.15" cy="155.27" r="2" fill="#3aa64a"/>
<circle cx="390.2" cy="154.33" r="2" fill="#3aa64a"/>
<circle cx="395.25" cy="152.46" r="2" fill="#3aa64a"/>
<circle cx="400.3" cy="150.21" r="2" fill="#3aa64a"/>
<circle cx="405.35" cy="148.72" r="2" fill="#3aa64a"/>
<circle cx="410.4" cy="146.84" r="2" fill="#3aa64a"/>
<circle cx="415.45" cy="144.5" r="2" fill="#3aa64a"/>
<circle cx="420.5" cy="141.79" r="2" fill="#3aa64a"/>
<circle cx="425.55" cy="139.73" r="2" fill="#3aa64a"/>
<circle cx="430.6" cy="137.67" r="2" fill="#3aa64a"/>
<circle cx="435.65" cy="135.24" r="2" fill="#3aa64a"/>
<circle cx="440.7" cy="132.9" r="2" fill="#3aa64a"/>
<circle cx="445.75" cy="130.09" r="2" fill="#3aa64a"/>
<circle cx="450.8" cy="127.28" r="2" fill="#3aa64a"/>
<circle cx="455.85" cy="124.38" r="2" fill="#3aa64a"/>
<circle cx="460.9" cy="121.57" r="2" fill="#3aa64a"/>
<circle cx="465.95" cy="119.51" r="2" fill="#3aa64a"/>
<circle cx="471" cy="117.36" r="2" fill="#3aa64a"/>
<circle cx="476.05" cy="115.3" r="2" fill="#3aa64a"/>
<circle cx="481.1" cy="113.24" r="2" fill="#3aa64a"/>
<circle cx="486.15" cy="110.62" r="2" fill="#3aa64a"/>
<circle cx="491.2" cy="108" r="2" fill="#3aa64a"/>
<circle cx="496.25" cy="106.97" r="2" fill="#3aa64a"/>
<circle cx="501.3" cy="105.85" r="2" fill="#3aa64a"/>
<circle cx="506.35" cy="104.26" r="2" fill="#3aa64a"/>
<circle cx="511.4" cy="102.66" r="2" fill="#3aa64a"/>
<circle cx="516.45" cy="101.26" r="2" fill="#3aa64a"/>
<line x1="312" y1="42.2" x2="312" y2="237.1" stroke="#111" stroke-width="1.55" />
<line x1="307.5" y1="236.7" x2="517.5" y2="236.7" stroke="#111" stroke-width="1.6" />
<line x1="307.5" y1="236.7" x2="312" y2="236.7" stroke="#111" stroke-width="1.3" />
<text transform="translate(302.9,241.06) scale(1.1,1)" font-size="10.3" text-anchor="end" font-weight="normal" fill="#111" >0</text>
<line x1="307.5" y1="189.9" x2="312" y2="189.9" stroke="#111" stroke-width="1.3" />
<text transform="translate(302.9,194.26) scale(1.1,1)" font-size="10.3" text-anchor="end" font-weight="normal" fill="#111" >50</text>
<line x1="307.5" y1="143.1" x2="312" y2="143.1" stroke="#111" stroke-width="1.3" />
<text transform="translate(302.9,147.46) scale(1.1,1)" font-size="10.3" text-anchor="end" font-weight="normal" fill="#111" >100</text>
<line x1="307.5" y1="96.3" x2="312" y2="96.3" stroke="#111" stroke-width="1.3" />
<text transform="translate(302.9,100.66) scale(1.1,1)" font-size="10.3" text-anchor="end" font-weight="normal" fill="#111" >150</text>
<line x1="307.5" y1="49.5" x2="312" y2="49.5" stroke="#111" stroke-width="1.3" />
<text transform="translate(302.9,53.86) scale(1.1,1)" font-size="10.3" text-anchor="end" font-weight="normal" fill="#111" >200</text>
<line x1="307.5" y1="213.3" x2="312" y2="213.3" stroke="#111" stroke-width="1.2" />
<line x1="307.5" y1="166.5" x2="312" y2="166.5" stroke="#111" stroke-width="1.2" />
<line x1="307.5" y1="119.7" x2="312" y2="119.7" stroke="#111" stroke-width="1.2" />
<line x1="307.5" y1="72.9" x2="312" y2="72.9" stroke="#111" stroke-width="1.2" />
<line x1="319.5" y1="236.7" x2="319.5" y2="241.2" stroke="#111" stroke-width="1.3" />
<line x1="329.6" y1="236.7" x2="329.6" y2="241.2" stroke="#111" stroke-width="1.3" />
<line x1="339.7" y1="236.7" x2="339.7" y2="241.2" stroke="#111" stroke-width="1.3" />
<line x1="349.8" y1="236.7" x2="349.8" y2="241.2" stroke="#111" stroke-width="1.3" />
<line x1="359.9" y1="236.7" x2="359.9" y2="241.2" stroke="#111" stroke-width="1.3" />
<line x1="370" y1="236.7" x2="370" y2="241.2" stroke="#111" stroke-width="1.3" />
<line x1="380.1" y1="236.7" x2="380.1" y2="241.2" stroke="#111" stroke-width="1.3" />
<line x1="390.2" y1="236.7" x2="390.2" y2="241.2" stroke="#111" stroke-width="1.3" />
<line x1="400.3" y1="236.7" x2="400.3" y2="241.2" stroke="#111" stroke-width="1.3" />
<line x1="410.4" y1="236.7" x2="410.4" y2="241.2" stroke="#111" stroke-width="1.3" />
<line x1="420.5" y1="236.7" x2="420.5" y2="241.2" stroke="#111" stroke-width="1.3" />
<line x1="430.6" y1="236.7" x2="430.6" y2="241.2" stroke="#111" stroke-width="1.3" />
<line x1="440.7" y1="236.7" x2="440.7" y2="241.2" stroke="#111" stroke-width="1.3" />
<line x1="450.8" y1="236.7" x2="450.8" y2="241.2" stroke="#111" stroke-width="1.3" />
<line x1="460.9" y1="236.7" x2="460.9" y2="241.2" stroke="#111" stroke-width="1.3" />
<line x1="471" y1="236.7" x2="471" y2="241.2" stroke="#111" stroke-width="1.3" />
<line x1="481.1" y1="236.7" x2="481.1" y2="241.2" stroke="#111" stroke-width="1.3" />
<line x1="491.2" y1="236.7" x2="491.2" y2="241.2" stroke="#111" stroke-width="1.3" />
<line x1="501.3" y1="236.7" x2="501.3" y2="241.2" stroke="#111" stroke-width="1.3" />
<line x1="511.4" y1="236.7" x2="511.4" y2="241.2" stroke="#111" stroke-width="1.3" />
<text transform="translate(319.5,254.6) scale(1.07,1)" font-size="10.3" text-anchor="middle" font-weight="normal" fill="#111" >1</text>
<text transform="translate(339.7,254.6) scale(1.07,1)" font-size="10.3" text-anchor="middle" font-weight="normal" fill="#111" >5</text>
<text transform="translate(359.9,254.6) scale(1.07,1)" font-size="10.3" text-anchor="middle" font-weight="normal" fill="#111" >9</text>
<text transform="translate(380.1,254.6) scale(1.07,1)" font-size="10.3" text-anchor="middle" font-weight="normal" fill="#111" >13</text>
<text transform="translate(400.3,254.6) scale(1.07,1)" font-size="10.3" text-anchor="middle" font-weight="normal" fill="#111" >17</text>
<text transform="translate(420.5,254.6) scale(1.07,1)" font-size="10.3" text-anchor="middle" font-weight="normal" fill="#111" >21</text>
<text transform="translate(440.7,254.6) scale(1.07,1)" font-size="10.3" text-anchor="middle" font-weight="normal" fill="#111" >25</text>
<text transform="translate(460.9,254.6) scale(1.07,1)" font-size="10.3" text-anchor="middle" font-weight="normal" fill="#111" >29</text>
<text transform="translate(481.1,254.6) scale(1.07,1)" font-size="10.3" text-anchor="middle" font-weight="normal" fill="#111" >33</text>
<text transform="translate(501.3,254.6) scale(1.07,1)" font-size="10.3" text-anchor="middle" font-weight="normal" fill="#111" >37</text>
<text transform="translate(276.8,140.5) rotate(-90)" font-size="12.8" text-anchor="middle" font-weight="normal" fill="#111" textLength="151" lengthAdjust="spacingAndGlyphs" stroke="#111" stroke-width="0.35">Normalized red fluorescence intensity</text>
<text transform="translate(414.5,271)" font-size="13.2" text-anchor="middle" font-weight="normal" fill="#111" textLength="29" lengthAdjust="spacingAndGlyphs" stroke="#111" stroke-width="0.35">Time, h</text>
<line x1="320.5" y1="38.4" x2="334.6" y2="38.4" stroke="#4a6480" stroke-width="1.1" />
<circle cx="327.5" cy="38.4" r="2.1" fill="#173a5e"/>
<text transform="translate(340.8,42)" font-size="10" text-anchor="start" font-weight="normal" fill="#111" >P#2 CAR-Tm</text>
<line x1="320.5" y1="51.5" x2="334.6" y2="51.5" stroke="#6a5a72" stroke-width="1.1" />
<polygon points="327.5,53.9 325.2,49.7 329.8,49.7" fill="#3c1c48" />
<text transform="translate(340.8,55.1)" font-size="10" text-anchor="start" font-weight="normal" fill="#111" >P#2 CAR-T</text>
<line x1="320.5" y1="68.9" x2="334.6" y2="68.9" stroke="#c44a6a" stroke-width="1.1" />
<rect x="325.1" y="66.5" width="4.8" height="4.8" fill="#ad163c"/>
<text transform="translate(340.8,72.5)" font-size="10" text-anchor="start" font-weight="normal" fill="#111" >P#1 CAR-Tm</text>
<line x1="320.5" y1="82.4" x2="334.6" y2="82.4" stroke="#f0b060" stroke-width="1.1" />
<polygon points="327.5,80 325.2,84.2 329.8,84.2" fill="#e9983c" />
<text transform="translate(340.8,86)" font-size="10" text-anchor="start" font-weight="normal" fill="#111" >P#1 CAR-T</text>
<line x1="320.5" y1="96.2" x2="334.6" y2="96.2" stroke="#2f6264" stroke-width="1.1" />
<polygon points="327.5,93.5 330.2,96.2 327.5,98.9 324.8,96.2" fill="#173f42" />
<text transform="translate(340.8,99.8)" font-size="10" text-anchor="start" font-weight="normal" fill="#111" >Mock T</text>
<line x1="320.5" y1="109.9" x2="334.6" y2="109.9" stroke="#5aa868" stroke-width="1.1" />
<circle cx="327.5" cy="109.9" r="2" fill="#2e8a40"/>
<text transform="translate(340.8,113.5)" font-size="10" text-anchor="start" font-weight="normal" fill="#111" >Control</text>
<polyline points="407.4,37.2 410.9,37.2 410.9,55.7 407.4,55.7" fill="none" stroke="#222" stroke-width="1.3" />
<polyline points="407.4,70.5 410.9,70.5 410.9,89.5 407.4,89.5" fill="none" stroke="#222" stroke-width="1.3" />
<text transform="translate(414.6,46.4) rotate(90)" font-size="9" text-anchor="middle" font-weight="normal" fill="#111" >ns</text>
<text transform="translate(414.6,80.2) rotate(90)" font-size="9" text-anchor="middle" font-weight="normal" fill="#111" >ns</text>
</g>
<g id="B">
<rect x="56" y="369" width="72" height="81" fill="#87a7c1"/>
<line x1="62" y1="443.6" x2="122" y2="443.6" stroke="#0b0f1a" stroke-width="1.8" />
<circle cx="69.25" cy="447.5" r="2.8" fill="#c3123a"/>
<circle cx="91.75" cy="425.75" r="2.8" fill="#c3123a"/>
<circle cx="91.75" cy="449" r="2.8" fill="#c3123a"/>
<circle cx="114.75" cy="451.75" r="2.8" fill="#c3123a"/>
<line x1="55.6" y1="311.2" x2="55.6" y2="486.2" stroke="#111" stroke-width="1.55" />
<line x1="55.6" y1="485.5" x2="128" y2="485.5" stroke="#111" stroke-width="1.7" />
<line x1="51.1" y1="485.25" x2="55.6" y2="485.25" stroke="#111" stroke-width="1.3" />
<text transform="translate(48.1,489.05) scale(1.09,1)" font-size="10.7" text-anchor="end" font-weight="normal" fill="#111" >1000</text>
<line x1="51.1" y1="443.25" x2="55.6" y2="443.25" stroke="#111" stroke-width="1.3" />
<text transform="translate(48.1,447.05) scale(1.09,1)" font-size="10.7" text-anchor="end" font-weight="normal" fill="#111" >2000</text>
<line x1="51.1" y1="401.25" x2="55.6" y2="401.25" stroke="#111" stroke-width="1.3" />
<text transform="translate(48.1,405.05) scale(1.09,1)" font-size="10.7" text-anchor="end" font-weight="normal" fill="#111" >3000</text>
<line x1="51.1" y1="359.25" x2="55.6" y2="359.25" stroke="#111" stroke-width="1.3" />
<text transform="translate(48.1,363.05) scale(1.09,1)" font-size="10.7" text-anchor="end" font-weight="normal" fill="#111" >4000</text>
<line x1="51.1" y1="317.25" x2="55.6" y2="317.25" stroke="#111" stroke-width="1.3" />
<text transform="translate(48.1,321.05) scale(1.09,1)" font-size="10.7" text-anchor="end" font-weight="normal" fill="#111" >5000</text>
<line x1="91.75" y1="485.5" x2="91.75" y2="490" stroke="#111" stroke-width="1.2" />
<text transform="translate(91.75,502.1)" font-size="10.5" text-anchor="middle" font-weight="normal" fill="#111" >CAR-Tm</text>
<text transform="translate(13,398.7) rotate(-90)" font-size="12.8" text-anchor="middle" font-weight="normal" fill="#111" textLength="17.5" lengthAdjust="spacingAndGlyphs" stroke="#111" stroke-width="0.35">AUC</text>
<rect x="210" y="367" width="71" height="54" fill="#87a7c1"/>
<line x1="215.5" y1="386.5" x2="274" y2="386.5" stroke="#0b0f1a" stroke-width="1.8" />
<circle cx="240.5" cy="360.25" r="2.8" fill="#c3123a"/>
<circle cx="249.5" cy="362.25" r="2.8" fill="#c3123a"/>
<circle cx="244.75" cy="393.25" r="2.8" fill="#c3123a"/>
<circle cx="244.75" cy="429" r="2.8" fill="#c3123a"/>
<line x1="209.5" y1="311.2" x2="209.5" y2="486.2" stroke="#111" stroke-width="1.55" />
<line x1="209.5" y1="485.5" x2="281" y2="485.5" stroke="#111" stroke-width="1.7" />
<line x1="205" y1="485.25" x2="209.5" y2="485.25" stroke="#111" stroke-width="1.3" />
<text transform="translate(202,489.05) scale(1.09,1)" font-size="10.7" text-anchor="end" font-weight="normal" fill="#111" >0</text>
<line x1="205" y1="443.25" x2="209.5" y2="443.25" stroke="#111" stroke-width="1.3" />
<text transform="translate(202,447.05) scale(1.09,1)" font-size="10.7" text-anchor="end" font-weight="normal" fill="#111" >20</text>
<line x1="205" y1="401.25" x2="209.5" y2="401.25" stroke="#111" stroke-width="1.3" />
<text transform="translate(202,405.05) scale(1.09,1)" font-size="10.7" text-anchor="end" font-weight="normal" fill="#111" >40</text>
<line x1="205" y1="359.25" x2="209.5" y2="359.25" stroke="#111" stroke-width="1.3" />
<text transform="translate(202,363.05) scale(1.09,1)" font-size="10.7" text-anchor="end" font-weight="normal" fill="#111" >60</text>
<line x1="205" y1="317.25" x2="209.5" y2="317.25" stroke="#111" stroke-width="1.3" />
<text transform="translate(202,321.05) scale(1.09,1)" font-size="10.7" text-anchor="end" font-weight="normal" fill="#111" >80</text>
<line x1="244.75" y1="485.5" x2="244.75" y2="490" stroke="#111" stroke-width="1.2" />
<text transform="translate(244.75,502.1)" font-size="10.5" text-anchor="middle" font-weight="normal" fill="#111" >CAR-Tm</text>
<text transform="translate(179.2,398.5) rotate(-90)" font-size="12.8" text-anchor="middle" font-weight="normal" fill="#111" textLength="62" lengthAdjust="spacingAndGlyphs" stroke="#111" stroke-width="0.35">% of dead cells</text>
<rect x="294.5" y="320" width="7" height="7" fill="#87a7c1"/>
<text transform="translate(306.4,326.8)" font-size="10.2" text-anchor="start" font-weight="normal" fill="#111" >CAR-T</text>
<circle cx="298" cy="337.5" r="2.7" fill="#c3123a"/>
<text transform="translate(306.4,340.6)" font-size="10.2" text-anchor="start" font-weight="normal" fill="#111" >CAR-Tm</text>
<polyline points="347.8,317.4 351.3,317.4 351.3,342.5 347.8,342.5" fill="none" stroke="#222" stroke-width="1.5" />
<text transform="translate(356,330) rotate(90)" font-size="9.5" text-anchor="middle" font-weight="normal" fill="#111" >ns</text>
</g>
<g id="C">
<rect x="56" y="601.75" width="72" height="108.25" fill="#87a7c1"/>
<line x1="71.25" y1="653.75" x2="112.5" y2="653.75" stroke="#0b0f1a" stroke-width="1.8" />
<circle cx="91.75" cy="617" r="2.8" fill="#c3123a"/>
<circle cx="91.75" cy="690" r="2.8" fill="#c3123a"/>
<line x1="55.6" y1="539" x2="55.6" y2="713.2" stroke="#111" stroke-width="1.55" />
<line x1="55.6" y1="712.5" x2="128" y2="712.5" stroke="#111" stroke-width="1.7" />
<line x1="51.1" y1="712.5" x2="55.6" y2="712.5" stroke="#111" stroke-width="1.3" />
<text transform="translate(48,716.16) scale(1.09,1)" font-size="10.3" text-anchor="end" font-weight="normal" fill="#111" >0</text>
<line x1="51.1" y1="679" x2="55.6" y2="679" stroke="#111" stroke-width="1.3" />
<text transform="translate(48,682.66) scale(1.09,1)" font-size="10.3" text-anchor="end" font-weight="normal" fill="#111" >10</text>
<line x1="51.1" y1="645.5" x2="55.6" y2="645.5" stroke="#111" stroke-width="1.3" />
<text transform="translate(48,649.16) scale(1.09,1)" font-size="10.3" text-anchor="end" font-weight="normal" fill="#111" >20</text>
<line x1="51.1" y1="612" x2="55.6" y2="612" stroke="#111" stroke-width="1.3" />
<text transform="translate(48,615.66) scale(1.09,1)" font-size="10.3" text-anchor="end" font-weight="normal" fill="#111" >30</text>
<line x1="51.1" y1="578.5" x2="55.6" y2="578.5" stroke="#111" stroke-width="1.3" />
<text transform="translate(48,582.16) scale(1.09,1)" font-size="10.3" text-anchor="end" font-weight="normal" fill="#111" >40</text>
<line x1="51.1" y1="545" x2="55.6" y2="545" stroke="#111" stroke-width="1.3" />
<text transform="translate(48,548.66) scale(1.09,1)" font-size="10.3" text-anchor="end" font-weight="normal" fill="#111" >50</text>
<line x1="91.75" y1="712.5" x2="91.75" y2="717" stroke="#111" stroke-width="1.3" />
<text x="91.75" y="729.5" font-size="10.5" text-anchor="middle" fill="#111">CD4<tspan dy="-4.6" font-size="8.92">+</tspan><tspan dy="4.6">IFN&#947;</tspan><tspan dy="-4.6" font-size="8.92">+</tspan></text>
<rect x="164.5" y="580" width="72.25" height="76.75" fill="#87a7c1"/>
<line x1="179.25" y1="627.5" x2="220.75" y2="627.5" stroke="#0b0f1a" stroke-width="1.8" />
<polygon points="200.25,602.06 197.15,607.73 203.35,607.73" fill="#c3123a" />
<polygon points="200.25,647.36 197.15,653.03 203.35,653.03" fill="#c3123a" />
<line x1="163.75" y1="539" x2="163.75" y2="713.2" stroke="#111" stroke-width="1.55" />
<line x1="163.75" y1="712.5" x2="236.5" y2="712.5" stroke="#111" stroke-width="1.7" />
<line x1="159.25" y1="712.5" x2="163.75" y2="712.5" stroke="#111" stroke-width="1.3" />
<text transform="translate(156.15,716.16) scale(1.09,1)" font-size="10.3" text-anchor="end" font-weight="normal" fill="#111" >0</text>
<line x1="159.25" y1="679" x2="163.75" y2="679" stroke="#111" stroke-width="1.3" />
<text transform="translate(156.15,682.66) scale(1.09,1)" font-size="10.3" text-anchor="end" font-weight="normal" fill="#111" >20</text>
<line x1="159.25" y1="645.5" x2="163.75" y2="645.5" stroke="#111" stroke-width="1.3" />
<text transform="translate(156.15,649.16) scale(1.09,1)" font-size="10.3" text-anchor="end" font-weight="normal" fill="#111" >40</text>
<line x1="159.25" y1="612" x2="163.75" y2="612" stroke="#111" stroke-width="1.3" />
<text transform="translate(156.15,615.66) scale(1.09,1)" font-size="10.3" text-anchor="end" font-weight="normal" fill="#111" >60</text>
<line x1="159.25" y1="578.5" x2="163.75" y2="578.5" stroke="#111" stroke-width="1.3" />
<text transform="translate(156.15,582.16) scale(1.09,1)" font-size="10.3" text-anchor="end" font-weight="normal" fill="#111" >80</text>
<line x1="159.25" y1="545" x2="163.75" y2="545" stroke="#111" stroke-width="1.3" />
<text transform="translate(156.15,548.66) scale(1.09,1)" font-size="10.3" text-anchor="end" font-weight="normal" fill="#111" >100</text>
<line x1="200.25" y1="712.5" x2="200.25" y2="717" stroke="#111" stroke-width="1.3" />
<text x="200.25" y="729.5" font-size="10.5" text-anchor="middle" fill="#111">CD4<tspan dy="-4.6" font-size="8.92">+</tspan><tspan dy="4.6">TNF&#945;</tspan><tspan dy="-4.6" font-size="8.92">+</tspan></text>
<rect x="312.5" y="601.75" width="71.25" height="95" fill="#87a7c1"/>
<line x1="327.5" y1="626.75" x2="369.25" y2="626.75" stroke="#0b0f1a" stroke-width="1.8" />
<rect x="345.45" y="566.95" width="5.6" height="5.6" fill="#c3123a"/>
<rect x="345.45" y="681.2" width="5.6" height="5.6" fill="#c3123a"/>
<line x1="312" y1="539" x2="312" y2="713.2" stroke="#111" stroke-width="1.55" />
<line x1="312" y1="712.5" x2="384" y2="712.5" stroke="#111" stroke-width="1.7" />
<line x1="307.5" y1="712.5" x2="312" y2="712.5" stroke="#111" stroke-width="1.3" />
<text transform="translate(304.4,716.16) scale(1.09,1)" font-size="10.3" text-anchor="end" font-weight="normal" fill="#111" >0</text>
<line x1="307.5" y1="679" x2="312" y2="679" stroke="#111" stroke-width="1.3" />
<text transform="translate(304.4,682.66) scale(1.09,1)" font-size="10.3" text-anchor="end" font-weight="normal" fill="#111" >10</text>
<line x1="307.5" y1="645.5" x2="312" y2="645.5" stroke="#111" stroke-width="1.3" />
<text transform="translate(304.4,649.16) scale(1.09,1)" font-size="10.3" text-anchor="end" font-weight="normal" fill="#111" >20</text>
<line x1="307.5" y1="612" x2="312" y2="612" stroke="#111" stroke-width="1.3" />
<text transform="translate(304.4,615.66) scale(1.09,1)" font-size="10.3" text-anchor="end" font-weight="normal" fill="#111" >30</text>
<line x1="307.5" y1="578.5" x2="312" y2="578.5" stroke="#111" stroke-width="1.3" />
<text transform="translate(304.4,582.16) scale(1.09,1)" font-size="10.3" text-anchor="end" font-weight="normal" fill="#111" >40</text>
<line x1="307.5" y1="545" x2="312" y2="545" stroke="#111" stroke-width="1.3" />
<text transform="translate(304.4,548.66) scale(1.09,1)" font-size="10.3" text-anchor="end" font-weight="normal" fill="#111" >50</text>
<line x1="348.25" y1="712.5" x2="348.25" y2="717" stroke="#111" stroke-width="1.3" />
<text x="348.25" y="729.5" font-size="10.5" text-anchor="middle" fill="#111">CD8<tspan dy="-4.6" font-size="8.92">+</tspan><tspan dy="4.6">IFN&#947;</tspan><tspan dy="-4.6" font-size="8.92">+</tspan></text>
<rect x="421" y="582" width="71.5" height="94.75" fill="#87a7c1"/>
<line x1="435.75" y1="653" x2="477.5" y2="653" stroke="#0b0f1a" stroke-width="1.8" />
<polygon points="457,627.59 460.92,631.5 457,635.41 453.08,631.5" fill="#c3123a" />
<polygon points="457,671.29 460.92,675.2 457,679.12 453.08,675.2" fill="#c3123a" />
<line x1="420.75" y1="539" x2="420.75" y2="713.2" stroke="#111" stroke-width="1.55" />
<line x1="420.75" y1="712.5" x2="492.5" y2="712.5" stroke="#111" stroke-width="1.7" />
<line x1="416.25" y1="712.5" x2="420.75" y2="712.5" stroke="#111" stroke-width="1.3" />
<text transform="translate(413.15,716.16) scale(1.09,1)" font-size="10.3" text-anchor="end" font-weight="normal" fill="#111" >0</text>
<line x1="416.25" y1="679" x2="420.75" y2="679" stroke="#111" stroke-width="1.3" />
<text transform="translate(413.15,682.66) scale(1.09,1)" font-size="10.3" text-anchor="end" font-weight="normal" fill="#111" >20</text>
<line x1="416.25" y1="645.5" x2="420.75" y2="645.5" stroke="#111" stroke-width="1.3" />
<text transform="translate(413.15,649.16) scale(1.09,1)" font-size="10.3" text-anchor="end" font-weight="normal" fill="#111" >40</text>
<line x1="416.25" y1="612" x2="420.75" y2="612" stroke="#111" stroke-width="1.3" />
<text transform="translate(413.15,615.66) scale(1.09,1)" font-size="10.3" text-anchor="end" font-weight="normal" fill="#111" >60</text>
<line x1="416.25" y1="578.5" x2="420.75" y2="578.5" stroke="#111" stroke-width="1.3" />
<text transform="translate(413.15,582.16) scale(1.09,1)" font-size="10.3" text-anchor="end" font-weight="normal" fill="#111" >80</text>
<line x1="416.25" y1="545" x2="420.75" y2="545" stroke="#111" stroke-width="1.3" />
<text transform="translate(413.15,548.66) scale(1.09,1)" font-size="10.3" text-anchor="end" font-weight="normal" fill="#111" >100</text>
<line x1="457" y1="712.5" x2="457" y2="717" stroke="#111" stroke-width="1.3" />
<text x="457" y="729.5" font-size="10.5" text-anchor="middle" fill="#111">CD8<tspan dy="-4.6" font-size="8.92">+</tspan><tspan dy="4.6">TNF&#945;</tspan><tspan dy="-4.6" font-size="8.92">+</tspan></text>
<text transform="translate(23.6,626.3) rotate(-90)" font-size="12.8" text-anchor="middle" font-weight="normal" fill="#111" textLength="60" lengthAdjust="spacingAndGlyphs" stroke="#111" stroke-width="0.35">% of CD4 cells</text>
<text transform="translate(279.9,626) rotate(-90)" font-size="12.8" text-anchor="middle" font-weight="normal" fill="#111" textLength="60" lengthAdjust="spacingAndGlyphs" stroke="#111" stroke-width="0.35">% of CD8 cells</text>
<rect x="450" y="541.25" width="7.5" height="6.5" fill="#87a7c1"/>
<text transform="translate(462.1,547.7)" font-size="10.2" text-anchor="start" font-weight="normal" fill="#111" >CAR-T</text>
<circle cx="453.75" cy="558.75" r="2.7" fill="#c3123a"/>
<text transform="translate(462.1,561.5)" font-size="10.2" text-anchor="start" font-weight="normal" fill="#111" >CAR-Tm</text>
<polyline points="503.7,538.3 507.2,538.3 507.2,564.2 503.7,564.2" fill="none" stroke="#222" stroke-width="1.5" />
<text transform="translate(510.5,551) rotate(90)" font-size="9.5" text-anchor="middle" font-weight="normal" fill="#111" >ns</text>
</g>
<g id="D">
<circle cx="96.25" cy="790" r="2.5" fill="#17497a"/>
<circle cx="88" cy="795.5" r="2.5" fill="#17497a"/>
<circle cx="104.25" cy="797.25" r="2.5" fill="#17497a"/>
<circle cx="92" cy="806.75" r="2.5" fill="#17497a"/>
<circle cx="100" cy="807.5" r="2.5" fill="#17497a"/>
<circle cx="88" cy="814.25" r="2.5" fill="#17497a"/>
<circle cx="96.25" cy="819.25" r="2.5" fill="#17497a"/>
<circle cx="104.25" cy="818.25" r="2.5" fill="#17497a"/>
<circle cx="104.25" cy="840.75" r="2.5" fill="#17497a"/>
<circle cx="88" cy="843.75" r="2.5" fill="#17497a"/>
<circle cx="96.25" cy="843.75" r="2.5" fill="#17497a"/>
<circle cx="92" cy="852.25" r="2.5" fill="#17497a"/>
<circle cx="100" cy="855.5" r="2.5" fill="#17497a"/>
<circle cx="100" cy="864" r="2.5" fill="#17497a"/>
<circle cx="108" cy="864" r="2.5" fill="#17497a"/>
<circle cx="92" cy="866.5" r="2.5" fill="#17497a"/>
<circle cx="84" cy="868.5" r="2.5" fill="#17497a"/>
<circle cx="96" cy="880" r="2.5" fill="#17497a"/>
<circle cx="96" cy="892.5" r="2.5" fill="#17497a"/>
<circle cx="92" cy="924.75" r="2.5" fill="#17497a"/>
<circle cx="100" cy="931.25" r="2.5" fill="#17497a"/>
<line x1="79.5" y1="844" x2="113" y2="844" stroke="#222" stroke-width="1.4" />
<circle cx="162" cy="786.5" r="2.7" fill="#c3123a"/>
<circle cx="162" cy="836.5" r="2.7" fill="#c3123a"/>
<circle cx="162" cy="884.25" r="2.7" fill="#c3123a"/>
<line x1="145.5" y1="836.5" x2="179.25" y2="836.5" stroke="#222" stroke-width="1.4" />
<line x1="55.6" y1="767.5" x2="55.6" y2="942.2" stroke="#111" stroke-width="1.55" />
<line x1="55.6" y1="941.5" x2="202.5" y2="941.5" stroke="#111" stroke-width="1.7" />
<line x1="51.1" y1="941.5" x2="55.6" y2="941.5" stroke="#111" stroke-width="1.3" />
<text transform="translate(47.7,945.01) scale(1.1,1)" font-size="9.9" text-anchor="end" font-weight="normal" fill="#111" >0</text>
<line x1="51.1" y1="899.5" x2="55.6" y2="899.5" stroke="#111" stroke-width="1.3" />
<text transform="translate(47.7,903.01) scale(1.1,1)" font-size="9.9" text-anchor="end" font-weight="normal" fill="#111" >20</text>
<line x1="51.1" y1="857.5" x2="55.6" y2="857.5" stroke="#111" stroke-width="1.3" />
<text transform="translate(47.7,861.01) scale(1.1,1)" font-size="9.9" text-anchor="end" font-weight="normal" fill="#111" >40</text>
<line x1="51.1" y1="815.5" x2="55.6" y2="815.5" stroke="#111" stroke-width="1.3" />
<text transform="translate(47.7,819.01) scale(1.1,1)" font-size="9.9" text-anchor="end" font-weight="normal" fill="#111" >60</text>
<line x1="51.1" y1="773.5" x2="55.6" y2="773.5" stroke="#111" stroke-width="1.3" />
<text transform="translate(47.7,777.01) scale(1.1,1)" font-size="9.9" text-anchor="end" font-weight="normal" fill="#111" >80</text>
<line x1="96.25" y1="941.5" x2="96.25" y2="946" stroke="#111" stroke-width="1.2" />
<line x1="162" y1="941.5" x2="162" y2="946" stroke="#111" stroke-width="1.2" />
<text transform="translate(96.25,958.5)" font-size="10.5" text-anchor="middle" font-weight="normal" fill="#111" >CAR-T</text>
<text transform="translate(162,958.5)" font-size="10.5" text-anchor="middle" font-weight="normal" fill="#111" >CAR-Tm</text>
<polyline points="96.9,771.2 96.9,764.2 161.1,764.2 161.1,771.2" fill="none" stroke="#222" stroke-width="1.4" />
<text transform="translate(129.4,756.9)" font-size="10.5" text-anchor="middle" font-weight="normal" fill="#111" >ns</text>
<circle cx="345.5" cy="804.5" r="2.5" fill="#17497a"/>
<circle cx="353.5" cy="804" r="2.5" fill="#17497a"/>
<circle cx="361.5" cy="810.5" r="2.5" fill="#17497a"/>
<circle cx="345.5" cy="823.5" r="2.5" fill="#17497a"/>
<circle cx="353.5" cy="824.25" r="2.5" fill="#17497a"/>
<circle cx="341.25" cy="830.5" r="2.5" fill="#17497a"/>
<circle cx="357.5" cy="830.5" r="2.5" fill="#17497a"/>
<circle cx="361.5" cy="829.5" r="2.5" fill="#17497a"/>
<circle cx="365.5" cy="834" r="2.5" fill="#17497a"/>
<circle cx="349.5" cy="837.5" r="2.5" fill="#17497a"/>
<circle cx="341.25" cy="849.25" r="2.5" fill="#17497a"/>
<circle cx="349.5" cy="850.25" r="2.5" fill="#17497a"/>
<circle cx="357.5" cy="849.25" r="2.5" fill="#17497a"/>
<circle cx="365.5" cy="854.75" r="2.5" fill="#17497a"/>
<circle cx="349.5" cy="867" r="2.5" fill="#17497a"/>
<circle cx="357.5" cy="863.75" r="2.5" fill="#17497a"/>
<circle cx="349.5" cy="876.75" r="2.5" fill="#17497a"/>
<circle cx="357.5" cy="881.75" r="2.5" fill="#17497a"/>
<circle cx="349.5" cy="894.5" r="2.5" fill="#17497a"/>
<circle cx="357.5" cy="901" r="2.5" fill="#17497a"/>
<circle cx="353.5" cy="922.5" r="2.5" fill="#17497a"/>
<line x1="336.25" y1="849.25" x2="370.5" y2="849.25" stroke="#222" stroke-width="1.4" />
<circle cx="417" cy="818.75" r="2.7" fill="#c3123a"/>
<circle cx="423.5" cy="820" r="2.7" fill="#c3123a"/>
<circle cx="420.25" cy="850" r="2.7" fill="#c3123a"/>
<line x1="403.25" y1="820" x2="438" y2="820" stroke="#222" stroke-width="1.4" />
<line x1="312" y1="764.2" x2="312" y2="942.2" stroke="#111" stroke-width="1.55" />
<line x1="312" y1="941.5" x2="462.5" y2="941.5" stroke="#111" stroke-width="1.7" />
<line x1="307.5" y1="941.5" x2="312" y2="941.5" stroke="#111" stroke-width="1.3" />
<text transform="translate(302.5,945.01) scale(1.1,1)" font-size="9.9" text-anchor="end" font-weight="normal" fill="#111" >0</text>
<line x1="307.5" y1="907.16" x2="312" y2="907.16" stroke="#111" stroke-width="1.3" />
<text transform="translate(302.5,910.67) scale(1.1,1)" font-size="9.9" text-anchor="end" font-weight="normal" fill="#111" >20</text>
<line x1="307.5" y1="872.82" x2="312" y2="872.82" stroke="#111" stroke-width="1.3" />
<text transform="translate(302.5,876.33) scale(1.1,1)" font-size="9.9" text-anchor="end" font-weight="normal" fill="#111" >40</text>
<line x1="307.5" y1="838.48" x2="312" y2="838.48" stroke="#111" stroke-width="1.3" />
<text transform="translate(302.5,841.99) scale(1.1,1)" font-size="9.9" text-anchor="end" font-weight="normal" fill="#111" >60</text>
<line x1="307.5" y1="804.14" x2="312" y2="804.14" stroke="#111" stroke-width="1.3" />
<text transform="translate(302.5,807.65) scale(1.1,1)" font-size="9.9" text-anchor="end" font-weight="normal" fill="#111" >80</text>
<line x1="307.5" y1="769.8" x2="312" y2="769.8" stroke="#111" stroke-width="1.3" />
<text transform="translate(302.5,773.31) scale(1.1,1)" font-size="9.9" text-anchor="end" font-weight="normal" fill="#111" >100</text>
<line x1="353.5" y1="941.5" x2="353.5" y2="946" stroke="#111" stroke-width="1.2" />
<line x1="420.25" y1="941.5" x2="420.25" y2="946" stroke="#111" stroke-width="1.2" />
<text transform="translate(353.5,958.5)" font-size="10.5" text-anchor="middle" font-weight="normal" fill="#111" >CAR-T</text>
<text transform="translate(420.25,958.5)" font-size="10.5" text-anchor="middle" font-weight="normal" fill="#111" >CAR-Tm</text>
<polyline points="355,772.5 355,765.5 419.5,765.5 419.5,772.5" fill="none" stroke="#222" stroke-width="1.4" />
<text transform="translate(387,758.3)" font-size="10.5" text-anchor="middle" font-weight="normal" fill="#111" >ns</text>
<g transform="translate(23.8,855) rotate(-90)"><text x="0" y="0" font-size="12.2" text-anchor="middle" fill="#111" stroke="#111" stroke-width="0.35" transform="scale(0.71,1)">% of CD107a<tspan dy="-5" font-size="10">+</tspan><tspan dy="5"> CD4</tspan><tspan dy="-5" font-size="10">+</tspan></text></g>
<g transform="translate(276.1,854) rotate(-90)"><text x="0" y="0" font-size="12.2" text-anchor="middle" fill="#111" stroke="#111" stroke-width="0.35" transform="scale(0.71,1)">% of CD107a<tspan dy="-5" font-size="10">+</tspan><tspan dy="5"> CD8</tspan><tspan dy="-5" font-size="10">+</tspan></text></g>
</g>
</svg></body></html>
